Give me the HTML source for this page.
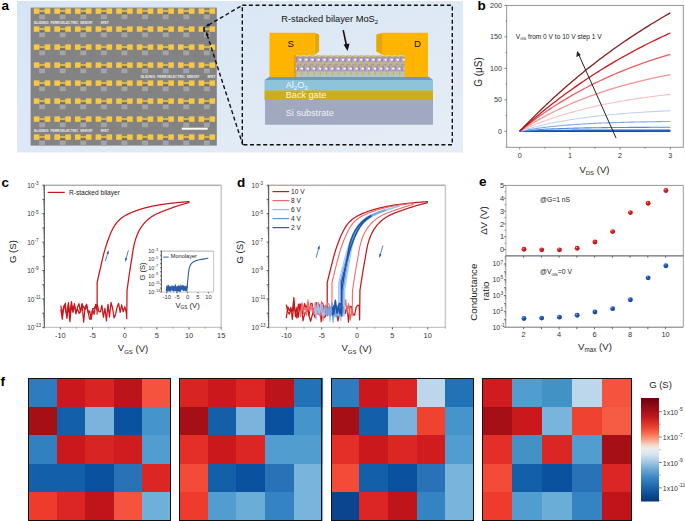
<!DOCTYPE html>
<html><head><meta charset="utf-8"><style>
html,body{margin:0;padding:0;background:#fff;width:685px;height:521px;overflow:hidden}
svg{display:block}
text{font-family:"Liberation Sans",sans-serif}
</style></head><body>
<svg width="685" height="521" viewBox="0 0 685 521">
<defs><linearGradient id="bgA" x1="0" y1="0" x2="1" y2="1"><stop offset="0" stop-color="#d6e5f4"/><stop offset="1" stop-color="#e6edf6"/></linearGradient><radialGradient id="redBall" cx="0.35" cy="0.3" r="0.75"><stop offset="0" stop-color="#ffd8d0"/><stop offset="0.2" stop-color="#e03028"/><stop offset="1" stop-color="#a80808"/></radialGradient><radialGradient id="blueBall" cx="0.35" cy="0.3" r="0.75"><stop offset="0" stop-color="#a8c4f0"/><stop offset="0.22" stop-color="#2a62bc"/><stop offset="1" stop-color="#0c3a8a"/></radialGradient><linearGradient id="cbar" x1="0" y1="0" x2="0" y2="1"><stop offset="0" stop-color="#6a000f"/><stop offset="0.1" stop-color="#9a0c16"/><stop offset="0.19" stop-color="#c41a1f"/><stop offset="0.28" stop-color="#e8422e"/><stop offset="0.34" stop-color="#f66a4c"/><stop offset="0.40" stop-color="#f8a080"/><stop offset="0.45" stop-color="#f6d4c6"/><stop offset="0.49" stop-color="#ececec"/><stop offset="0.54" stop-color="#d8e6f2"/><stop offset="0.60" stop-color="#b0d0e6"/><stop offset="0.68" stop-color="#72acd6"/><stop offset="0.77" stop-color="#3a86c2"/><stop offset="0.87" stop-color="#1c62aa"/><stop offset="0.94" stop-color="#0c4a92"/><stop offset="1" stop-color="#083474"/></linearGradient></defs>
<rect x="17" y="1" width="446" height="151.5" fill="url(#bgA)"/>
<rect x="30.6" y="7.6" width="186.2" height="138" fill="#838383"/>
<rect x="39.10" y="14.20" width="5.9" height="5.0" fill="#a4a4a4"/>
<rect x="39.40" y="12.60" width="5.3" height="1.7" fill="#6e6e6e"/>
<rect x="33.80" y="8.40" width="5.6" height="5.4" fill="#f8c845"/>
<rect x="44.70" y="8.40" width="5.6" height="5.4" fill="#f8c845"/>
<rect x="39.30" y="10.20" width="5.5" height="1.6" fill="#e6c04c"/>
<rect x="59.70" y="14.20" width="5.9" height="5.0" fill="#a4a4a4"/>
<rect x="60.00" y="12.60" width="5.3" height="1.7" fill="#6e6e6e"/>
<rect x="54.40" y="8.40" width="5.6" height="5.4" fill="#f8c845"/>
<rect x="65.30" y="8.40" width="5.6" height="5.4" fill="#f8c845"/>
<rect x="59.90" y="10.20" width="5.5" height="1.6" fill="#e6c04c"/>
<rect x="80.30" y="14.20" width="5.9" height="5.0" fill="#a4a4a4"/>
<rect x="80.60" y="12.60" width="5.3" height="1.7" fill="#6e6e6e"/>
<rect x="75.00" y="8.40" width="5.6" height="5.4" fill="#f8c845"/>
<rect x="85.90" y="8.40" width="5.6" height="5.4" fill="#f8c845"/>
<rect x="80.50" y="10.20" width="5.5" height="1.6" fill="#e6c04c"/>
<rect x="100.90" y="14.20" width="5.9" height="5.0" fill="#a4a4a4"/>
<rect x="101.20" y="12.60" width="5.3" height="1.7" fill="#6e6e6e"/>
<rect x="95.60" y="8.40" width="5.6" height="5.4" fill="#f8c845"/>
<rect x="106.50" y="8.40" width="5.6" height="5.4" fill="#f8c845"/>
<rect x="101.10" y="10.20" width="5.5" height="1.6" fill="#e6c04c"/>
<rect x="121.50" y="14.20" width="5.9" height="5.0" fill="#a4a4a4"/>
<rect x="121.80" y="12.60" width="5.3" height="1.7" fill="#6e6e6e"/>
<rect x="116.20" y="8.40" width="5.6" height="5.4" fill="#f8c845"/>
<rect x="127.10" y="8.40" width="5.6" height="5.4" fill="#f8c845"/>
<rect x="121.70" y="10.20" width="5.5" height="1.6" fill="#e6c04c"/>
<rect x="142.10" y="14.20" width="5.9" height="5.0" fill="#a4a4a4"/>
<rect x="142.40" y="12.60" width="5.3" height="1.7" fill="#6e6e6e"/>
<rect x="136.80" y="8.40" width="5.6" height="5.4" fill="#f8c845"/>
<rect x="147.70" y="8.40" width="5.6" height="5.4" fill="#f8c845"/>
<rect x="142.30" y="10.20" width="5.5" height="1.6" fill="#e6c04c"/>
<rect x="162.70" y="14.20" width="5.9" height="5.0" fill="#a4a4a4"/>
<rect x="163.00" y="12.60" width="5.3" height="1.7" fill="#6e6e6e"/>
<rect x="157.40" y="8.40" width="5.6" height="5.4" fill="#f8c845"/>
<rect x="168.30" y="8.40" width="5.6" height="5.4" fill="#f8c845"/>
<rect x="162.90" y="10.20" width="5.5" height="1.6" fill="#e6c04c"/>
<rect x="183.30" y="14.20" width="5.9" height="5.0" fill="#a4a4a4"/>
<rect x="183.60" y="12.60" width="5.3" height="1.7" fill="#6e6e6e"/>
<rect x="178.00" y="8.40" width="5.6" height="5.4" fill="#f8c845"/>
<rect x="188.90" y="8.40" width="5.6" height="5.4" fill="#f8c845"/>
<rect x="183.50" y="10.20" width="5.5" height="1.6" fill="#e6c04c"/>
<rect x="203.90" y="14.20" width="5.9" height="5.0" fill="#a4a4a4"/>
<rect x="204.20" y="12.60" width="5.3" height="1.7" fill="#6e6e6e"/>
<rect x="198.60" y="8.40" width="5.6" height="5.4" fill="#f8c845"/>
<rect x="209.50" y="8.40" width="5.6" height="5.4" fill="#f8c845"/>
<rect x="204.10" y="10.20" width="5.5" height="1.6" fill="#e6c04c"/>
<rect x="39.10" y="32.20" width="5.9" height="5.0" fill="#a4a4a4"/>
<rect x="39.40" y="30.60" width="5.3" height="1.7" fill="#6e6e6e"/>
<rect x="33.80" y="26.40" width="5.6" height="5.4" fill="#f8c845"/>
<rect x="44.70" y="26.40" width="5.6" height="5.4" fill="#f8c845"/>
<rect x="39.30" y="28.20" width="5.5" height="1.6" fill="#e6c04c"/>
<rect x="59.70" y="32.20" width="5.9" height="5.0" fill="#a4a4a4"/>
<rect x="60.00" y="30.60" width="5.3" height="1.7" fill="#6e6e6e"/>
<rect x="54.40" y="26.40" width="5.6" height="5.4" fill="#f8c845"/>
<rect x="65.30" y="26.40" width="5.6" height="5.4" fill="#f8c845"/>
<rect x="59.90" y="28.20" width="5.5" height="1.6" fill="#e6c04c"/>
<rect x="80.30" y="32.20" width="5.9" height="5.0" fill="#a4a4a4"/>
<rect x="80.60" y="30.60" width="5.3" height="1.7" fill="#6e6e6e"/>
<rect x="75.00" y="26.40" width="5.6" height="5.4" fill="#f8c845"/>
<rect x="85.90" y="26.40" width="5.6" height="5.4" fill="#f8c845"/>
<rect x="80.50" y="28.20" width="5.5" height="1.6" fill="#e6c04c"/>
<rect x="100.90" y="32.20" width="5.9" height="5.0" fill="#a4a4a4"/>
<rect x="101.20" y="30.60" width="5.3" height="1.7" fill="#6e6e6e"/>
<rect x="95.60" y="26.40" width="5.6" height="5.4" fill="#f8c845"/>
<rect x="106.50" y="26.40" width="5.6" height="5.4" fill="#f8c845"/>
<rect x="101.10" y="28.20" width="5.5" height="1.6" fill="#e6c04c"/>
<rect x="121.50" y="32.20" width="5.9" height="5.0" fill="#a4a4a4"/>
<rect x="121.80" y="30.60" width="5.3" height="1.7" fill="#6e6e6e"/>
<rect x="116.20" y="26.40" width="5.6" height="5.4" fill="#f8c845"/>
<rect x="127.10" y="26.40" width="5.6" height="5.4" fill="#f8c845"/>
<rect x="121.70" y="28.20" width="5.5" height="1.6" fill="#e6c04c"/>
<rect x="142.10" y="32.20" width="5.9" height="5.0" fill="#a4a4a4"/>
<rect x="142.40" y="30.60" width="5.3" height="1.7" fill="#6e6e6e"/>
<rect x="136.80" y="26.40" width="5.6" height="5.4" fill="#f8c845"/>
<rect x="147.70" y="26.40" width="5.6" height="5.4" fill="#f8c845"/>
<rect x="142.30" y="28.20" width="5.5" height="1.6" fill="#e6c04c"/>
<rect x="162.70" y="32.20" width="5.9" height="5.0" fill="#a4a4a4"/>
<rect x="163.00" y="30.60" width="5.3" height="1.7" fill="#6e6e6e"/>
<rect x="157.40" y="26.40" width="5.6" height="5.4" fill="#f8c845"/>
<rect x="168.30" y="26.40" width="5.6" height="5.4" fill="#f8c845"/>
<rect x="162.90" y="28.20" width="5.5" height="1.6" fill="#e6c04c"/>
<rect x="183.30" y="32.20" width="5.9" height="5.0" fill="#a4a4a4"/>
<rect x="183.60" y="30.60" width="5.3" height="1.7" fill="#6e6e6e"/>
<rect x="178.00" y="26.40" width="5.6" height="5.4" fill="#f8c845"/>
<rect x="188.90" y="26.40" width="5.6" height="5.4" fill="#f8c845"/>
<rect x="183.50" y="28.20" width="5.5" height="1.6" fill="#e6c04c"/>
<rect x="203.90" y="32.20" width="5.9" height="5.0" fill="#a4a4a4"/>
<rect x="204.20" y="30.60" width="5.3" height="1.7" fill="#6e6e6e"/>
<rect x="198.60" y="26.40" width="5.6" height="5.4" fill="#f8c845"/>
<rect x="209.50" y="26.40" width="5.6" height="5.4" fill="#f8c845"/>
<rect x="204.10" y="28.20" width="5.5" height="1.6" fill="#e6c04c"/>
<rect x="39.10" y="50.20" width="5.9" height="5.0" fill="#a4a4a4"/>
<rect x="39.40" y="48.60" width="5.3" height="1.7" fill="#6e6e6e"/>
<rect x="33.80" y="44.40" width="5.6" height="5.4" fill="#f8c845"/>
<rect x="44.70" y="44.40" width="5.6" height="5.4" fill="#f8c845"/>
<rect x="39.30" y="46.20" width="5.5" height="1.6" fill="#e6c04c"/>
<rect x="59.70" y="50.20" width="5.9" height="5.0" fill="#a4a4a4"/>
<rect x="60.00" y="48.60" width="5.3" height="1.7" fill="#6e6e6e"/>
<rect x="54.40" y="44.40" width="5.6" height="5.4" fill="#f8c845"/>
<rect x="65.30" y="44.40" width="5.6" height="5.4" fill="#f8c845"/>
<rect x="59.90" y="46.20" width="5.5" height="1.6" fill="#e6c04c"/>
<rect x="80.30" y="50.20" width="5.9" height="5.0" fill="#a4a4a4"/>
<rect x="80.60" y="48.60" width="5.3" height="1.7" fill="#6e6e6e"/>
<rect x="75.00" y="44.40" width="5.6" height="5.4" fill="#f8c845"/>
<rect x="85.90" y="44.40" width="5.6" height="5.4" fill="#f8c845"/>
<rect x="80.50" y="46.20" width="5.5" height="1.6" fill="#e6c04c"/>
<rect x="100.90" y="50.20" width="5.9" height="5.0" fill="#a4a4a4"/>
<rect x="101.20" y="48.60" width="5.3" height="1.7" fill="#6e6e6e"/>
<rect x="95.60" y="44.40" width="5.6" height="5.4" fill="#f8c845"/>
<rect x="106.50" y="44.40" width="5.6" height="5.4" fill="#f8c845"/>
<rect x="101.10" y="46.20" width="5.5" height="1.6" fill="#e6c04c"/>
<rect x="121.50" y="50.20" width="5.9" height="5.0" fill="#a4a4a4"/>
<rect x="121.80" y="48.60" width="5.3" height="1.7" fill="#6e6e6e"/>
<rect x="116.20" y="44.40" width="5.6" height="5.4" fill="#f8c845"/>
<rect x="127.10" y="44.40" width="5.6" height="5.4" fill="#f8c845"/>
<rect x="121.70" y="46.20" width="5.5" height="1.6" fill="#e6c04c"/>
<rect x="142.10" y="50.20" width="5.9" height="5.0" fill="#a4a4a4"/>
<rect x="142.40" y="48.60" width="5.3" height="1.7" fill="#6e6e6e"/>
<rect x="136.80" y="44.40" width="5.6" height="5.4" fill="#f8c845"/>
<rect x="147.70" y="44.40" width="5.6" height="5.4" fill="#f8c845"/>
<rect x="142.30" y="46.20" width="5.5" height="1.6" fill="#e6c04c"/>
<rect x="162.70" y="50.20" width="5.9" height="5.0" fill="#a4a4a4"/>
<rect x="163.00" y="48.60" width="5.3" height="1.7" fill="#6e6e6e"/>
<rect x="157.40" y="44.40" width="5.6" height="5.4" fill="#f8c845"/>
<rect x="168.30" y="44.40" width="5.6" height="5.4" fill="#f8c845"/>
<rect x="162.90" y="46.20" width="5.5" height="1.6" fill="#e6c04c"/>
<rect x="183.30" y="50.20" width="5.9" height="5.0" fill="#a4a4a4"/>
<rect x="183.60" y="48.60" width="5.3" height="1.7" fill="#6e6e6e"/>
<rect x="178.00" y="44.40" width="5.6" height="5.4" fill="#f8c845"/>
<rect x="188.90" y="44.40" width="5.6" height="5.4" fill="#f8c845"/>
<rect x="183.50" y="46.20" width="5.5" height="1.6" fill="#e6c04c"/>
<rect x="203.90" y="50.20" width="5.9" height="5.0" fill="#a4a4a4"/>
<rect x="204.20" y="48.60" width="5.3" height="1.7" fill="#6e6e6e"/>
<rect x="198.60" y="44.40" width="5.6" height="5.4" fill="#f8c845"/>
<rect x="209.50" y="44.40" width="5.6" height="5.4" fill="#f8c845"/>
<rect x="204.10" y="46.20" width="5.5" height="1.6" fill="#e6c04c"/>
<rect x="39.10" y="68.20" width="5.9" height="5.0" fill="#a4a4a4"/>
<rect x="39.40" y="66.60" width="5.3" height="1.7" fill="#6e6e6e"/>
<rect x="33.80" y="62.40" width="5.6" height="5.4" fill="#f8c845"/>
<rect x="44.70" y="62.40" width="5.6" height="5.4" fill="#f8c845"/>
<rect x="39.30" y="64.20" width="5.5" height="1.6" fill="#e6c04c"/>
<rect x="59.70" y="68.20" width="5.9" height="5.0" fill="#a4a4a4"/>
<rect x="60.00" y="66.60" width="5.3" height="1.7" fill="#6e6e6e"/>
<rect x="54.40" y="62.40" width="5.6" height="5.4" fill="#f8c845"/>
<rect x="65.30" y="62.40" width="5.6" height="5.4" fill="#f8c845"/>
<rect x="59.90" y="64.20" width="5.5" height="1.6" fill="#e6c04c"/>
<rect x="80.30" y="68.20" width="5.9" height="5.0" fill="#a4a4a4"/>
<rect x="80.60" y="66.60" width="5.3" height="1.7" fill="#6e6e6e"/>
<rect x="75.00" y="62.40" width="5.6" height="5.4" fill="#f8c845"/>
<rect x="85.90" y="62.40" width="5.6" height="5.4" fill="#f8c845"/>
<rect x="80.50" y="64.20" width="5.5" height="1.6" fill="#e6c04c"/>
<rect x="100.90" y="68.20" width="5.9" height="5.0" fill="#a4a4a4"/>
<rect x="101.20" y="66.60" width="5.3" height="1.7" fill="#6e6e6e"/>
<rect x="95.60" y="62.40" width="5.6" height="5.4" fill="#f8c845"/>
<rect x="106.50" y="62.40" width="5.6" height="5.4" fill="#f8c845"/>
<rect x="101.10" y="64.20" width="5.5" height="1.6" fill="#e6c04c"/>
<rect x="121.50" y="68.20" width="5.9" height="5.0" fill="#a4a4a4"/>
<rect x="121.80" y="66.60" width="5.3" height="1.7" fill="#6e6e6e"/>
<rect x="116.20" y="62.40" width="5.6" height="5.4" fill="#f8c845"/>
<rect x="127.10" y="62.40" width="5.6" height="5.4" fill="#f8c845"/>
<rect x="121.70" y="64.20" width="5.5" height="1.6" fill="#e6c04c"/>
<rect x="142.10" y="68.20" width="5.9" height="5.0" fill="#a4a4a4"/>
<rect x="142.40" y="66.60" width="5.3" height="1.7" fill="#6e6e6e"/>
<rect x="136.80" y="62.40" width="5.6" height="5.4" fill="#f8c845"/>
<rect x="147.70" y="62.40" width="5.6" height="5.4" fill="#f8c845"/>
<rect x="142.30" y="64.20" width="5.5" height="1.6" fill="#e6c04c"/>
<rect x="162.70" y="68.20" width="5.9" height="5.0" fill="#a4a4a4"/>
<rect x="163.00" y="66.60" width="5.3" height="1.7" fill="#6e6e6e"/>
<rect x="157.40" y="62.40" width="5.6" height="5.4" fill="#f8c845"/>
<rect x="168.30" y="62.40" width="5.6" height="5.4" fill="#f8c845"/>
<rect x="162.90" y="64.20" width="5.5" height="1.6" fill="#e6c04c"/>
<rect x="183.30" y="68.20" width="5.9" height="5.0" fill="#a4a4a4"/>
<rect x="183.60" y="66.60" width="5.3" height="1.7" fill="#6e6e6e"/>
<rect x="178.00" y="62.40" width="5.6" height="5.4" fill="#f8c845"/>
<rect x="188.90" y="62.40" width="5.6" height="5.4" fill="#f8c845"/>
<rect x="183.50" y="64.20" width="5.5" height="1.6" fill="#e6c04c"/>
<rect x="203.90" y="68.20" width="5.9" height="5.0" fill="#a4a4a4"/>
<rect x="204.20" y="66.60" width="5.3" height="1.7" fill="#6e6e6e"/>
<rect x="198.60" y="62.40" width="5.6" height="5.4" fill="#f8c845"/>
<rect x="209.50" y="62.40" width="5.6" height="5.4" fill="#f8c845"/>
<rect x="204.10" y="64.20" width="5.5" height="1.6" fill="#e6c04c"/>
<rect x="39.10" y="86.20" width="5.9" height="5.0" fill="#a4a4a4"/>
<rect x="39.40" y="84.60" width="5.3" height="1.7" fill="#6e6e6e"/>
<rect x="33.80" y="80.40" width="5.6" height="5.4" fill="#f8c845"/>
<rect x="44.70" y="80.40" width="5.6" height="5.4" fill="#f8c845"/>
<rect x="39.30" y="82.20" width="5.5" height="1.6" fill="#e6c04c"/>
<rect x="59.70" y="86.20" width="5.9" height="5.0" fill="#a4a4a4"/>
<rect x="60.00" y="84.60" width="5.3" height="1.7" fill="#6e6e6e"/>
<rect x="54.40" y="80.40" width="5.6" height="5.4" fill="#f8c845"/>
<rect x="65.30" y="80.40" width="5.6" height="5.4" fill="#f8c845"/>
<rect x="59.90" y="82.20" width="5.5" height="1.6" fill="#e6c04c"/>
<rect x="80.30" y="86.20" width="5.9" height="5.0" fill="#a4a4a4"/>
<rect x="80.60" y="84.60" width="5.3" height="1.7" fill="#6e6e6e"/>
<rect x="75.00" y="80.40" width="5.6" height="5.4" fill="#f8c845"/>
<rect x="85.90" y="80.40" width="5.6" height="5.4" fill="#f8c845"/>
<rect x="80.50" y="82.20" width="5.5" height="1.6" fill="#e6c04c"/>
<rect x="100.90" y="86.20" width="5.9" height="5.0" fill="#a4a4a4"/>
<rect x="101.20" y="84.60" width="5.3" height="1.7" fill="#6e6e6e"/>
<rect x="95.60" y="80.40" width="5.6" height="5.4" fill="#f8c845"/>
<rect x="106.50" y="80.40" width="5.6" height="5.4" fill="#f8c845"/>
<rect x="101.10" y="82.20" width="5.5" height="1.6" fill="#e6c04c"/>
<rect x="121.50" y="86.20" width="5.9" height="5.0" fill="#a4a4a4"/>
<rect x="121.80" y="84.60" width="5.3" height="1.7" fill="#6e6e6e"/>
<rect x="116.20" y="80.40" width="5.6" height="5.4" fill="#f8c845"/>
<rect x="127.10" y="80.40" width="5.6" height="5.4" fill="#f8c845"/>
<rect x="121.70" y="82.20" width="5.5" height="1.6" fill="#e6c04c"/>
<rect x="142.10" y="86.20" width="5.9" height="5.0" fill="#a4a4a4"/>
<rect x="142.40" y="84.60" width="5.3" height="1.7" fill="#6e6e6e"/>
<rect x="136.80" y="80.40" width="5.6" height="5.4" fill="#f8c845"/>
<rect x="147.70" y="80.40" width="5.6" height="5.4" fill="#f8c845"/>
<rect x="142.30" y="82.20" width="5.5" height="1.6" fill="#e6c04c"/>
<rect x="162.70" y="86.20" width="5.9" height="5.0" fill="#a4a4a4"/>
<rect x="163.00" y="84.60" width="5.3" height="1.7" fill="#6e6e6e"/>
<rect x="157.40" y="80.40" width="5.6" height="5.4" fill="#f8c845"/>
<rect x="168.30" y="80.40" width="5.6" height="5.4" fill="#f8c845"/>
<rect x="162.90" y="82.20" width="5.5" height="1.6" fill="#e6c04c"/>
<rect x="183.30" y="86.20" width="5.9" height="5.0" fill="#a4a4a4"/>
<rect x="183.60" y="84.60" width="5.3" height="1.7" fill="#6e6e6e"/>
<rect x="178.00" y="80.40" width="5.6" height="5.4" fill="#f8c845"/>
<rect x="188.90" y="80.40" width="5.6" height="5.4" fill="#f8c845"/>
<rect x="183.50" y="82.20" width="5.5" height="1.6" fill="#e6c04c"/>
<rect x="203.90" y="86.20" width="5.9" height="5.0" fill="#a4a4a4"/>
<rect x="204.20" y="84.60" width="5.3" height="1.7" fill="#6e6e6e"/>
<rect x="198.60" y="80.40" width="5.6" height="5.4" fill="#f8c845"/>
<rect x="209.50" y="80.40" width="5.6" height="5.4" fill="#f8c845"/>
<rect x="204.10" y="82.20" width="5.5" height="1.6" fill="#e6c04c"/>
<rect x="39.10" y="104.20" width="5.9" height="5.0" fill="#a4a4a4"/>
<rect x="39.40" y="102.60" width="5.3" height="1.7" fill="#6e6e6e"/>
<rect x="33.80" y="98.40" width="5.6" height="5.4" fill="#f8c845"/>
<rect x="44.70" y="98.40" width="5.6" height="5.4" fill="#f8c845"/>
<rect x="39.30" y="100.20" width="5.5" height="1.6" fill="#e6c04c"/>
<rect x="59.70" y="104.20" width="5.9" height="5.0" fill="#a4a4a4"/>
<rect x="60.00" y="102.60" width="5.3" height="1.7" fill="#6e6e6e"/>
<rect x="54.40" y="98.40" width="5.6" height="5.4" fill="#f8c845"/>
<rect x="65.30" y="98.40" width="5.6" height="5.4" fill="#f8c845"/>
<rect x="59.90" y="100.20" width="5.5" height="1.6" fill="#e6c04c"/>
<rect x="80.30" y="104.20" width="5.9" height="5.0" fill="#a4a4a4"/>
<rect x="80.60" y="102.60" width="5.3" height="1.7" fill="#6e6e6e"/>
<rect x="75.00" y="98.40" width="5.6" height="5.4" fill="#f8c845"/>
<rect x="85.90" y="98.40" width="5.6" height="5.4" fill="#f8c845"/>
<rect x="80.50" y="100.20" width="5.5" height="1.6" fill="#e6c04c"/>
<rect x="100.90" y="104.20" width="5.9" height="5.0" fill="#a4a4a4"/>
<rect x="101.20" y="102.60" width="5.3" height="1.7" fill="#6e6e6e"/>
<rect x="95.60" y="98.40" width="5.6" height="5.4" fill="#f8c845"/>
<rect x="106.50" y="98.40" width="5.6" height="5.4" fill="#f8c845"/>
<rect x="101.10" y="100.20" width="5.5" height="1.6" fill="#e6c04c"/>
<rect x="121.50" y="104.20" width="5.9" height="5.0" fill="#a4a4a4"/>
<rect x="121.80" y="102.60" width="5.3" height="1.7" fill="#6e6e6e"/>
<rect x="116.20" y="98.40" width="5.6" height="5.4" fill="#f8c845"/>
<rect x="127.10" y="98.40" width="5.6" height="5.4" fill="#f8c845"/>
<rect x="121.70" y="100.20" width="5.5" height="1.6" fill="#e6c04c"/>
<rect x="142.10" y="104.20" width="5.9" height="5.0" fill="#a4a4a4"/>
<rect x="142.40" y="102.60" width="5.3" height="1.7" fill="#6e6e6e"/>
<rect x="136.80" y="98.40" width="5.6" height="5.4" fill="#f8c845"/>
<rect x="147.70" y="98.40" width="5.6" height="5.4" fill="#f8c845"/>
<rect x="142.30" y="100.20" width="5.5" height="1.6" fill="#e6c04c"/>
<rect x="162.70" y="104.20" width="5.9" height="5.0" fill="#a4a4a4"/>
<rect x="163.00" y="102.60" width="5.3" height="1.7" fill="#6e6e6e"/>
<rect x="157.40" y="98.40" width="5.6" height="5.4" fill="#f8c845"/>
<rect x="168.30" y="98.40" width="5.6" height="5.4" fill="#f8c845"/>
<rect x="162.90" y="100.20" width="5.5" height="1.6" fill="#e6c04c"/>
<rect x="183.30" y="104.20" width="5.9" height="5.0" fill="#a4a4a4"/>
<rect x="183.60" y="102.60" width="5.3" height="1.7" fill="#6e6e6e"/>
<rect x="178.00" y="98.40" width="5.6" height="5.4" fill="#f8c845"/>
<rect x="188.90" y="98.40" width="5.6" height="5.4" fill="#f8c845"/>
<rect x="183.50" y="100.20" width="5.5" height="1.6" fill="#e6c04c"/>
<rect x="203.90" y="104.20" width="5.9" height="5.0" fill="#a4a4a4"/>
<rect x="204.20" y="102.60" width="5.3" height="1.7" fill="#6e6e6e"/>
<rect x="198.60" y="98.40" width="5.6" height="5.4" fill="#f8c845"/>
<rect x="209.50" y="98.40" width="5.6" height="5.4" fill="#f8c845"/>
<rect x="204.10" y="100.20" width="5.5" height="1.6" fill="#e6c04c"/>
<rect x="39.10" y="122.20" width="5.9" height="5.0" fill="#a4a4a4"/>
<rect x="39.40" y="120.60" width="5.3" height="1.7" fill="#6e6e6e"/>
<rect x="33.80" y="116.40" width="5.6" height="5.4" fill="#f8c845"/>
<rect x="44.70" y="116.40" width="5.6" height="5.4" fill="#f8c845"/>
<rect x="39.30" y="118.20" width="5.5" height="1.6" fill="#e6c04c"/>
<rect x="59.70" y="122.20" width="5.9" height="5.0" fill="#a4a4a4"/>
<rect x="60.00" y="120.60" width="5.3" height="1.7" fill="#6e6e6e"/>
<rect x="54.40" y="116.40" width="5.6" height="5.4" fill="#f8c845"/>
<rect x="65.30" y="116.40" width="5.6" height="5.4" fill="#f8c845"/>
<rect x="59.90" y="118.20" width="5.5" height="1.6" fill="#e6c04c"/>
<rect x="80.30" y="122.20" width="5.9" height="5.0" fill="#a4a4a4"/>
<rect x="80.60" y="120.60" width="5.3" height="1.7" fill="#6e6e6e"/>
<rect x="75.00" y="116.40" width="5.6" height="5.4" fill="#f8c845"/>
<rect x="85.90" y="116.40" width="5.6" height="5.4" fill="#f8c845"/>
<rect x="80.50" y="118.20" width="5.5" height="1.6" fill="#e6c04c"/>
<rect x="100.90" y="122.20" width="5.9" height="5.0" fill="#a4a4a4"/>
<rect x="101.20" y="120.60" width="5.3" height="1.7" fill="#6e6e6e"/>
<rect x="95.60" y="116.40" width="5.6" height="5.4" fill="#f8c845"/>
<rect x="106.50" y="116.40" width="5.6" height="5.4" fill="#f8c845"/>
<rect x="101.10" y="118.20" width="5.5" height="1.6" fill="#e6c04c"/>
<rect x="121.50" y="122.20" width="5.9" height="5.0" fill="#a4a4a4"/>
<rect x="121.80" y="120.60" width="5.3" height="1.7" fill="#6e6e6e"/>
<rect x="116.20" y="116.40" width="5.6" height="5.4" fill="#f8c845"/>
<rect x="127.10" y="116.40" width="5.6" height="5.4" fill="#f8c845"/>
<rect x="121.70" y="118.20" width="5.5" height="1.6" fill="#e6c04c"/>
<rect x="142.10" y="122.20" width="5.9" height="5.0" fill="#a4a4a4"/>
<rect x="142.40" y="120.60" width="5.3" height="1.7" fill="#6e6e6e"/>
<rect x="136.80" y="116.40" width="5.6" height="5.4" fill="#f8c845"/>
<rect x="147.70" y="116.40" width="5.6" height="5.4" fill="#f8c845"/>
<rect x="142.30" y="118.20" width="5.5" height="1.6" fill="#e6c04c"/>
<rect x="162.70" y="122.20" width="5.9" height="5.0" fill="#a4a4a4"/>
<rect x="163.00" y="120.60" width="5.3" height="1.7" fill="#6e6e6e"/>
<rect x="157.40" y="116.40" width="5.6" height="5.4" fill="#f8c845"/>
<rect x="168.30" y="116.40" width="5.6" height="5.4" fill="#f8c845"/>
<rect x="162.90" y="118.20" width="5.5" height="1.6" fill="#e6c04c"/>
<rect x="183.30" y="122.20" width="5.9" height="5.0" fill="#a4a4a4"/>
<rect x="183.60" y="120.60" width="5.3" height="1.7" fill="#6e6e6e"/>
<rect x="178.00" y="116.40" width="5.6" height="5.4" fill="#f8c845"/>
<rect x="188.90" y="116.40" width="5.6" height="5.4" fill="#f8c845"/>
<rect x="183.50" y="118.20" width="5.5" height="1.6" fill="#e6c04c"/>
<rect x="203.90" y="122.20" width="5.9" height="5.0" fill="#a4a4a4"/>
<rect x="204.20" y="120.60" width="5.3" height="1.7" fill="#6e6e6e"/>
<rect x="198.60" y="116.40" width="5.6" height="5.4" fill="#f8c845"/>
<rect x="209.50" y="116.40" width="5.6" height="5.4" fill="#f8c845"/>
<rect x="204.10" y="118.20" width="5.5" height="1.6" fill="#e6c04c"/>
<rect x="39.10" y="140.20" width="5.9" height="5.0" fill="#a4a4a4"/>
<rect x="39.40" y="138.60" width="5.3" height="1.7" fill="#6e6e6e"/>
<rect x="33.80" y="134.40" width="5.6" height="5.4" fill="#f8c845"/>
<rect x="44.70" y="134.40" width="5.6" height="5.4" fill="#f8c845"/>
<rect x="39.30" y="136.20" width="5.5" height="1.6" fill="#e6c04c"/>
<rect x="59.70" y="140.20" width="5.9" height="5.0" fill="#a4a4a4"/>
<rect x="60.00" y="138.60" width="5.3" height="1.7" fill="#6e6e6e"/>
<rect x="54.40" y="134.40" width="5.6" height="5.4" fill="#f8c845"/>
<rect x="65.30" y="134.40" width="5.6" height="5.4" fill="#f8c845"/>
<rect x="59.90" y="136.20" width="5.5" height="1.6" fill="#e6c04c"/>
<rect x="80.30" y="140.20" width="5.9" height="5.0" fill="#a4a4a4"/>
<rect x="80.60" y="138.60" width="5.3" height="1.7" fill="#6e6e6e"/>
<rect x="75.00" y="134.40" width="5.6" height="5.4" fill="#f8c845"/>
<rect x="85.90" y="134.40" width="5.6" height="5.4" fill="#f8c845"/>
<rect x="80.50" y="136.20" width="5.5" height="1.6" fill="#e6c04c"/>
<rect x="100.90" y="140.20" width="5.9" height="5.0" fill="#a4a4a4"/>
<rect x="101.20" y="138.60" width="5.3" height="1.7" fill="#6e6e6e"/>
<rect x="95.60" y="134.40" width="5.6" height="5.4" fill="#f8c845"/>
<rect x="106.50" y="134.40" width="5.6" height="5.4" fill="#f8c845"/>
<rect x="101.10" y="136.20" width="5.5" height="1.6" fill="#e6c04c"/>
<rect x="121.50" y="140.20" width="5.9" height="5.0" fill="#a4a4a4"/>
<rect x="121.80" y="138.60" width="5.3" height="1.7" fill="#6e6e6e"/>
<rect x="116.20" y="134.40" width="5.6" height="5.4" fill="#f8c845"/>
<rect x="127.10" y="134.40" width="5.6" height="5.4" fill="#f8c845"/>
<rect x="121.70" y="136.20" width="5.5" height="1.6" fill="#e6c04c"/>
<rect x="142.10" y="140.20" width="5.9" height="5.0" fill="#a4a4a4"/>
<rect x="142.40" y="138.60" width="5.3" height="1.7" fill="#6e6e6e"/>
<rect x="136.80" y="134.40" width="5.6" height="5.4" fill="#f8c845"/>
<rect x="147.70" y="134.40" width="5.6" height="5.4" fill="#f8c845"/>
<rect x="142.30" y="136.20" width="5.5" height="1.6" fill="#e6c04c"/>
<rect x="162.70" y="140.20" width="5.9" height="5.0" fill="#a4a4a4"/>
<rect x="163.00" y="138.60" width="5.3" height="1.7" fill="#6e6e6e"/>
<rect x="157.40" y="134.40" width="5.6" height="5.4" fill="#f8c845"/>
<rect x="168.30" y="134.40" width="5.6" height="5.4" fill="#f8c845"/>
<rect x="162.90" y="136.20" width="5.5" height="1.6" fill="#e6c04c"/>
<rect x="183.30" y="140.20" width="5.9" height="5.0" fill="#a4a4a4"/>
<rect x="183.60" y="138.60" width="5.3" height="1.7" fill="#6e6e6e"/>
<rect x="178.00" y="134.40" width="5.6" height="5.4" fill="#f8c845"/>
<rect x="188.90" y="134.40" width="5.6" height="5.4" fill="#f8c845"/>
<rect x="183.50" y="136.20" width="5.5" height="1.6" fill="#e6c04c"/>
<rect x="203.90" y="140.20" width="5.9" height="5.0" fill="#a4a4a4"/>
<rect x="204.20" y="138.60" width="5.3" height="1.7" fill="#6e6e6e"/>
<rect x="198.60" y="134.40" width="5.6" height="5.4" fill="#f8c845"/>
<rect x="209.50" y="134.40" width="5.6" height="5.4" fill="#f8c845"/>
<rect x="204.10" y="136.20" width="5.5" height="1.6" fill="#e6c04c"/>
<text x="33.70" y="23.8" font-family="Liberation Sans" font-weight="bold" font-size="4.2" fill="#ececec" textLength="14.9" lengthAdjust="spacingAndGlyphs">SLIDING</text>
<text x="50.50" y="23.8" font-family="Liberation Sans" font-weight="bold" font-size="4.2" fill="#ececec" textLength="27.9" lengthAdjust="spacingAndGlyphs">FERROELECTRIC</text>
<text x="80.20" y="23.8" font-family="Liberation Sans" font-weight="bold" font-size="4.2" fill="#ececec" textLength="12.5" lengthAdjust="spacingAndGlyphs">MEMORY</text>
<text x="100.70" y="23.8" font-family="Liberation Sans" font-weight="bold" font-size="4.2" fill="#ececec" textLength="8.1" lengthAdjust="spacingAndGlyphs">8FET</text>
<text x="140.40" y="77.9" font-family="Liberation Sans" font-weight="bold" font-size="4.2" fill="#ececec" textLength="14.9" lengthAdjust="spacingAndGlyphs">SLIDING</text>
<text x="157.20" y="77.9" font-family="Liberation Sans" font-weight="bold" font-size="4.2" fill="#ececec" textLength="27.9" lengthAdjust="spacingAndGlyphs">FERROELECTRIC</text>
<text x="186.90" y="77.9" font-family="Liberation Sans" font-weight="bold" font-size="4.2" fill="#ececec" textLength="12.5" lengthAdjust="spacingAndGlyphs">MEMORY</text>
<text x="207.40" y="77.9" font-family="Liberation Sans" font-weight="bold" font-size="4.2" fill="#ececec" textLength="8.1" lengthAdjust="spacingAndGlyphs">8FET</text>
<text x="33.70" y="131.5" font-family="Liberation Sans" font-weight="bold" font-size="4.2" fill="#ececec" textLength="14.9" lengthAdjust="spacingAndGlyphs">SLIDING</text>
<text x="50.50" y="131.5" font-family="Liberation Sans" font-weight="bold" font-size="4.2" fill="#ececec" textLength="27.9" lengthAdjust="spacingAndGlyphs">FERROELECTRIC</text>
<text x="80.20" y="131.5" font-family="Liberation Sans" font-weight="bold" font-size="4.2" fill="#ececec" textLength="12.5" lengthAdjust="spacingAndGlyphs">MEMORY</text>
<text x="100.70" y="131.5" font-family="Liberation Sans" font-weight="bold" font-size="4.2" fill="#ececec" textLength="8.1" lengthAdjust="spacingAndGlyphs">8FET</text>
<rect x="181.8" y="127.7" width="25.9" height="2" fill="#ffffff"/>
<rect x="203.2" y="27" width="1.7" height="4.8" fill="#111"/>
<g stroke="#111" stroke-width="1.4" fill="none" stroke-dasharray="4,2.6">
<rect x="242.3" y="5.3" width="210" height="139.5"/>
<line x1="208.5" y1="25" x2="242.3" y2="5.3"/>
<line x1="207.2" y1="35" x2="242.8" y2="144.8"/>
</g>
<polygon points="205.6,26.6 209.9,26.07 208.2,23.13" fill="#111"/>
<polygon points="206.2,31.6 209.05,34.88 205.81,35.92" fill="#111"/>
<rect x="265" y="100" width="168" height="24.7" fill="#a0a9bf"/>
<rect x="264.5" y="90.2" width="168.5" height="9.8" fill="#c9ae1f"/>
<rect x="264.5" y="80" width="168.5" height="10.2" fill="#8ec3dc"/>
<polygon points="264.5,80 433,80 428.5,76.8 269.5,76.8" fill="#6f9bb8"/>
<rect x="293.6" y="55.5" width="111.5" height="21.5" fill="#b4b2b8"/>
<rect x="293.6" y="72" width="111.5" height="5" fill="#b4c4be"/>
<g>
<line x1="293.00" y1="56.5" x2="297.00" y2="61.5" stroke="#8c8a90" stroke-width="1.3"/>
<line x1="298.00" y1="56.5" x2="294.00" y2="62.5" stroke="#9a989e" stroke-width="1.1"/>
<ellipse cx="294.10" cy="56.2" rx="1.4" ry="1.1" fill="#e4c24c"/>
<rect x="296.10" y="57.4" width="1.6" height="3.8" fill="#b478d6"/>
<circle cx="294.30" cy="59.6" r="1.2" fill="#fafafa"/>
<ellipse cx="294.70" cy="62.6" rx="1.1" ry="1.0" fill="#d4b448"/>
<line x1="294.00" y1="64" x2="298.00" y2="70.5" stroke="#8c8a90" stroke-width="1.3"/>
<line x1="299.00" y1="64" x2="295.00" y2="71" stroke="#9a989e" stroke-width="1.1"/>
<rect x="294.50" y="64.0" width="1.3" height="3.6" fill="#d8b440"/>
<rect x="297.30" y="66.8" width="1.6" height="4.0" fill="#b478d6"/>
<circle cx="295.80" cy="68.6" r="1.2" fill="#fafafa"/>
<rect x="295.30" y="71.8" width="1.3" height="3.4" fill="#d4b03c"/>
<line x1="299.10" y1="56.5" x2="303.10" y2="61.5" stroke="#8c8a90" stroke-width="1.3"/>
<line x1="304.10" y1="56.5" x2="300.10" y2="62.5" stroke="#9a989e" stroke-width="1.1"/>
<ellipse cx="300.20" cy="56.2" rx="1.4" ry="1.1" fill="#e4c24c"/>
<rect x="302.20" y="57.4" width="1.6" height="3.8" fill="#b478d6"/>
<circle cx="300.40" cy="59.6" r="1.2" fill="#fafafa"/>
<ellipse cx="300.80" cy="62.6" rx="1.1" ry="1.0" fill="#d4b448"/>
<line x1="300.10" y1="64" x2="304.10" y2="70.5" stroke="#8c8a90" stroke-width="1.3"/>
<line x1="305.10" y1="64" x2="301.10" y2="71" stroke="#9a989e" stroke-width="1.1"/>
<rect x="300.60" y="64.0" width="1.3" height="3.6" fill="#d8b440"/>
<rect x="303.40" y="66.8" width="1.6" height="4.0" fill="#b478d6"/>
<circle cx="301.90" cy="68.6" r="1.2" fill="#fafafa"/>
<rect x="301.40" y="71.8" width="1.3" height="3.4" fill="#d4b03c"/>
<line x1="305.20" y1="56.5" x2="309.20" y2="61.5" stroke="#8c8a90" stroke-width="1.3"/>
<line x1="310.20" y1="56.5" x2="306.20" y2="62.5" stroke="#9a989e" stroke-width="1.1"/>
<ellipse cx="306.30" cy="56.2" rx="1.4" ry="1.1" fill="#e4c24c"/>
<rect x="308.30" y="57.4" width="1.6" height="3.8" fill="#b478d6"/>
<circle cx="306.50" cy="59.6" r="1.2" fill="#fafafa"/>
<ellipse cx="306.90" cy="62.6" rx="1.1" ry="1.0" fill="#d4b448"/>
<line x1="306.20" y1="64" x2="310.20" y2="70.5" stroke="#8c8a90" stroke-width="1.3"/>
<line x1="311.20" y1="64" x2="307.20" y2="71" stroke="#9a989e" stroke-width="1.1"/>
<rect x="306.70" y="64.0" width="1.3" height="3.6" fill="#d8b440"/>
<rect x="309.50" y="66.8" width="1.6" height="4.0" fill="#b478d6"/>
<circle cx="308.00" cy="68.6" r="1.2" fill="#fafafa"/>
<rect x="307.50" y="71.8" width="1.3" height="3.4" fill="#d4b03c"/>
<line x1="311.30" y1="56.5" x2="315.30" y2="61.5" stroke="#8c8a90" stroke-width="1.3"/>
<line x1="316.30" y1="56.5" x2="312.30" y2="62.5" stroke="#9a989e" stroke-width="1.1"/>
<ellipse cx="312.40" cy="56.2" rx="1.4" ry="1.1" fill="#e4c24c"/>
<rect x="314.40" y="57.4" width="1.6" height="3.8" fill="#b478d6"/>
<circle cx="312.60" cy="59.6" r="1.2" fill="#fafafa"/>
<ellipse cx="313.00" cy="62.6" rx="1.1" ry="1.0" fill="#d4b448"/>
<line x1="312.30" y1="64" x2="316.30" y2="70.5" stroke="#8c8a90" stroke-width="1.3"/>
<line x1="317.30" y1="64" x2="313.30" y2="71" stroke="#9a989e" stroke-width="1.1"/>
<rect x="312.80" y="64.0" width="1.3" height="3.6" fill="#d8b440"/>
<rect x="315.60" y="66.8" width="1.6" height="4.0" fill="#b478d6"/>
<circle cx="314.10" cy="68.6" r="1.2" fill="#fafafa"/>
<rect x="313.60" y="71.8" width="1.3" height="3.4" fill="#d4b03c"/>
<line x1="317.40" y1="56.5" x2="321.40" y2="61.5" stroke="#8c8a90" stroke-width="1.3"/>
<line x1="322.40" y1="56.5" x2="318.40" y2="62.5" stroke="#9a989e" stroke-width="1.1"/>
<ellipse cx="318.50" cy="56.2" rx="1.4" ry="1.1" fill="#e4c24c"/>
<rect x="320.50" y="57.4" width="1.6" height="3.8" fill="#b478d6"/>
<circle cx="318.70" cy="59.6" r="1.2" fill="#fafafa"/>
<ellipse cx="319.10" cy="62.6" rx="1.1" ry="1.0" fill="#d4b448"/>
<line x1="318.40" y1="64" x2="322.40" y2="70.5" stroke="#8c8a90" stroke-width="1.3"/>
<line x1="323.40" y1="64" x2="319.40" y2="71" stroke="#9a989e" stroke-width="1.1"/>
<rect x="318.90" y="64.0" width="1.3" height="3.6" fill="#d8b440"/>
<rect x="321.70" y="66.8" width="1.6" height="4.0" fill="#b478d6"/>
<circle cx="320.20" cy="68.6" r="1.2" fill="#fafafa"/>
<rect x="319.70" y="71.8" width="1.3" height="3.4" fill="#d4b03c"/>
<line x1="323.50" y1="56.5" x2="327.50" y2="61.5" stroke="#8c8a90" stroke-width="1.3"/>
<line x1="328.50" y1="56.5" x2="324.50" y2="62.5" stroke="#9a989e" stroke-width="1.1"/>
<ellipse cx="324.60" cy="56.2" rx="1.4" ry="1.1" fill="#e4c24c"/>
<rect x="326.60" y="57.4" width="1.6" height="3.8" fill="#b478d6"/>
<circle cx="324.80" cy="59.6" r="1.2" fill="#fafafa"/>
<ellipse cx="325.20" cy="62.6" rx="1.1" ry="1.0" fill="#d4b448"/>
<line x1="324.50" y1="64" x2="328.50" y2="70.5" stroke="#8c8a90" stroke-width="1.3"/>
<line x1="329.50" y1="64" x2="325.50" y2="71" stroke="#9a989e" stroke-width="1.1"/>
<rect x="325.00" y="64.0" width="1.3" height="3.6" fill="#d8b440"/>
<rect x="327.80" y="66.8" width="1.6" height="4.0" fill="#b478d6"/>
<circle cx="326.30" cy="68.6" r="1.2" fill="#fafafa"/>
<rect x="325.80" y="71.8" width="1.3" height="3.4" fill="#d4b03c"/>
<line x1="329.60" y1="56.5" x2="333.60" y2="61.5" stroke="#8c8a90" stroke-width="1.3"/>
<line x1="334.60" y1="56.5" x2="330.60" y2="62.5" stroke="#9a989e" stroke-width="1.1"/>
<ellipse cx="330.70" cy="56.2" rx="1.4" ry="1.1" fill="#e4c24c"/>
<rect x="332.70" y="57.4" width="1.6" height="3.8" fill="#b478d6"/>
<circle cx="330.90" cy="59.6" r="1.2" fill="#fafafa"/>
<ellipse cx="331.30" cy="62.6" rx="1.1" ry="1.0" fill="#d4b448"/>
<line x1="330.60" y1="64" x2="334.60" y2="70.5" stroke="#8c8a90" stroke-width="1.3"/>
<line x1="335.60" y1="64" x2="331.60" y2="71" stroke="#9a989e" stroke-width="1.1"/>
<rect x="331.10" y="64.0" width="1.3" height="3.6" fill="#d8b440"/>
<rect x="333.90" y="66.8" width="1.6" height="4.0" fill="#b478d6"/>
<circle cx="332.40" cy="68.6" r="1.2" fill="#fafafa"/>
<rect x="331.90" y="71.8" width="1.3" height="3.4" fill="#d4b03c"/>
<line x1="335.70" y1="56.5" x2="339.70" y2="61.5" stroke="#8c8a90" stroke-width="1.3"/>
<line x1="340.70" y1="56.5" x2="336.70" y2="62.5" stroke="#9a989e" stroke-width="1.1"/>
<ellipse cx="336.80" cy="56.2" rx="1.4" ry="1.1" fill="#e4c24c"/>
<rect x="338.80" y="57.4" width="1.6" height="3.8" fill="#b478d6"/>
<circle cx="337.00" cy="59.6" r="1.2" fill="#fafafa"/>
<ellipse cx="337.40" cy="62.6" rx="1.1" ry="1.0" fill="#d4b448"/>
<line x1="336.70" y1="64" x2="340.70" y2="70.5" stroke="#8c8a90" stroke-width="1.3"/>
<line x1="341.70" y1="64" x2="337.70" y2="71" stroke="#9a989e" stroke-width="1.1"/>
<rect x="337.20" y="64.0" width="1.3" height="3.6" fill="#d8b440"/>
<rect x="340.00" y="66.8" width="1.6" height="4.0" fill="#b478d6"/>
<circle cx="338.50" cy="68.6" r="1.2" fill="#fafafa"/>
<rect x="338.00" y="71.8" width="1.3" height="3.4" fill="#d4b03c"/>
<line x1="341.80" y1="56.5" x2="345.80" y2="61.5" stroke="#8c8a90" stroke-width="1.3"/>
<line x1="346.80" y1="56.5" x2="342.80" y2="62.5" stroke="#9a989e" stroke-width="1.1"/>
<ellipse cx="342.90" cy="56.2" rx="1.4" ry="1.1" fill="#e4c24c"/>
<rect x="344.90" y="57.4" width="1.6" height="3.8" fill="#b478d6"/>
<circle cx="343.10" cy="59.6" r="1.2" fill="#fafafa"/>
<ellipse cx="343.50" cy="62.6" rx="1.1" ry="1.0" fill="#d4b448"/>
<line x1="342.80" y1="64" x2="346.80" y2="70.5" stroke="#8c8a90" stroke-width="1.3"/>
<line x1="347.80" y1="64" x2="343.80" y2="71" stroke="#9a989e" stroke-width="1.1"/>
<rect x="343.30" y="64.0" width="1.3" height="3.6" fill="#d8b440"/>
<rect x="346.10" y="66.8" width="1.6" height="4.0" fill="#b478d6"/>
<circle cx="344.60" cy="68.6" r="1.2" fill="#fafafa"/>
<rect x="344.10" y="71.8" width="1.3" height="3.4" fill="#d4b03c"/>
<line x1="347.90" y1="56.5" x2="351.90" y2="61.5" stroke="#8c8a90" stroke-width="1.3"/>
<line x1="352.90" y1="56.5" x2="348.90" y2="62.5" stroke="#9a989e" stroke-width="1.1"/>
<ellipse cx="349.00" cy="56.2" rx="1.4" ry="1.1" fill="#e4c24c"/>
<rect x="351.00" y="57.4" width="1.6" height="3.8" fill="#b478d6"/>
<circle cx="349.20" cy="59.6" r="1.2" fill="#fafafa"/>
<ellipse cx="349.60" cy="62.6" rx="1.1" ry="1.0" fill="#d4b448"/>
<line x1="348.90" y1="64" x2="352.90" y2="70.5" stroke="#8c8a90" stroke-width="1.3"/>
<line x1="353.90" y1="64" x2="349.90" y2="71" stroke="#9a989e" stroke-width="1.1"/>
<rect x="349.40" y="64.0" width="1.3" height="3.6" fill="#d8b440"/>
<rect x="352.20" y="66.8" width="1.6" height="4.0" fill="#b478d6"/>
<circle cx="350.70" cy="68.6" r="1.2" fill="#fafafa"/>
<rect x="350.20" y="71.8" width="1.3" height="3.4" fill="#d4b03c"/>
<line x1="354.00" y1="56.5" x2="358.00" y2="61.5" stroke="#8c8a90" stroke-width="1.3"/>
<line x1="359.00" y1="56.5" x2="355.00" y2="62.5" stroke="#9a989e" stroke-width="1.1"/>
<ellipse cx="355.10" cy="56.2" rx="1.4" ry="1.1" fill="#e4c24c"/>
<rect x="357.10" y="57.4" width="1.6" height="3.8" fill="#b478d6"/>
<circle cx="355.30" cy="59.6" r="1.2" fill="#fafafa"/>
<ellipse cx="355.70" cy="62.6" rx="1.1" ry="1.0" fill="#d4b448"/>
<line x1="355.00" y1="64" x2="359.00" y2="70.5" stroke="#8c8a90" stroke-width="1.3"/>
<line x1="360.00" y1="64" x2="356.00" y2="71" stroke="#9a989e" stroke-width="1.1"/>
<rect x="355.50" y="64.0" width="1.3" height="3.6" fill="#d8b440"/>
<rect x="358.30" y="66.8" width="1.6" height="4.0" fill="#b478d6"/>
<circle cx="356.80" cy="68.6" r="1.2" fill="#fafafa"/>
<rect x="356.30" y="71.8" width="1.3" height="3.4" fill="#d4b03c"/>
<line x1="360.10" y1="56.5" x2="364.10" y2="61.5" stroke="#8c8a90" stroke-width="1.3"/>
<line x1="365.10" y1="56.5" x2="361.10" y2="62.5" stroke="#9a989e" stroke-width="1.1"/>
<ellipse cx="361.20" cy="56.2" rx="1.4" ry="1.1" fill="#e4c24c"/>
<rect x="363.20" y="57.4" width="1.6" height="3.8" fill="#b478d6"/>
<circle cx="361.40" cy="59.6" r="1.2" fill="#fafafa"/>
<ellipse cx="361.80" cy="62.6" rx="1.1" ry="1.0" fill="#d4b448"/>
<line x1="361.10" y1="64" x2="365.10" y2="70.5" stroke="#8c8a90" stroke-width="1.3"/>
<line x1="366.10" y1="64" x2="362.10" y2="71" stroke="#9a989e" stroke-width="1.1"/>
<rect x="361.60" y="64.0" width="1.3" height="3.6" fill="#d8b440"/>
<rect x="364.40" y="66.8" width="1.6" height="4.0" fill="#b478d6"/>
<circle cx="362.90" cy="68.6" r="1.2" fill="#fafafa"/>
<rect x="362.40" y="71.8" width="1.3" height="3.4" fill="#d4b03c"/>
<line x1="366.20" y1="56.5" x2="370.20" y2="61.5" stroke="#8c8a90" stroke-width="1.3"/>
<line x1="371.20" y1="56.5" x2="367.20" y2="62.5" stroke="#9a989e" stroke-width="1.1"/>
<ellipse cx="367.30" cy="56.2" rx="1.4" ry="1.1" fill="#e4c24c"/>
<rect x="369.30" y="57.4" width="1.6" height="3.8" fill="#b478d6"/>
<circle cx="367.50" cy="59.6" r="1.2" fill="#fafafa"/>
<ellipse cx="367.90" cy="62.6" rx="1.1" ry="1.0" fill="#d4b448"/>
<line x1="367.20" y1="64" x2="371.20" y2="70.5" stroke="#8c8a90" stroke-width="1.3"/>
<line x1="372.20" y1="64" x2="368.20" y2="71" stroke="#9a989e" stroke-width="1.1"/>
<rect x="367.70" y="64.0" width="1.3" height="3.6" fill="#d8b440"/>
<rect x="370.50" y="66.8" width="1.6" height="4.0" fill="#b478d6"/>
<circle cx="369.00" cy="68.6" r="1.2" fill="#fafafa"/>
<rect x="368.50" y="71.8" width="1.3" height="3.4" fill="#d4b03c"/>
<line x1="372.30" y1="56.5" x2="376.30" y2="61.5" stroke="#8c8a90" stroke-width="1.3"/>
<line x1="377.30" y1="56.5" x2="373.30" y2="62.5" stroke="#9a989e" stroke-width="1.1"/>
<ellipse cx="373.40" cy="56.2" rx="1.4" ry="1.1" fill="#e4c24c"/>
<rect x="375.40" y="57.4" width="1.6" height="3.8" fill="#b478d6"/>
<circle cx="373.60" cy="59.6" r="1.2" fill="#fafafa"/>
<ellipse cx="374.00" cy="62.6" rx="1.1" ry="1.0" fill="#d4b448"/>
<line x1="373.30" y1="64" x2="377.30" y2="70.5" stroke="#8c8a90" stroke-width="1.3"/>
<line x1="378.30" y1="64" x2="374.30" y2="71" stroke="#9a989e" stroke-width="1.1"/>
<rect x="373.80" y="64.0" width="1.3" height="3.6" fill="#d8b440"/>
<rect x="376.60" y="66.8" width="1.6" height="4.0" fill="#b478d6"/>
<circle cx="375.10" cy="68.6" r="1.2" fill="#fafafa"/>
<rect x="374.60" y="71.8" width="1.3" height="3.4" fill="#d4b03c"/>
<line x1="378.40" y1="56.5" x2="382.40" y2="61.5" stroke="#8c8a90" stroke-width="1.3"/>
<line x1="383.40" y1="56.5" x2="379.40" y2="62.5" stroke="#9a989e" stroke-width="1.1"/>
<ellipse cx="379.50" cy="56.2" rx="1.4" ry="1.1" fill="#e4c24c"/>
<rect x="381.50" y="57.4" width="1.6" height="3.8" fill="#b478d6"/>
<circle cx="379.70" cy="59.6" r="1.2" fill="#fafafa"/>
<ellipse cx="380.10" cy="62.6" rx="1.1" ry="1.0" fill="#d4b448"/>
<line x1="379.40" y1="64" x2="383.40" y2="70.5" stroke="#8c8a90" stroke-width="1.3"/>
<line x1="384.40" y1="64" x2="380.40" y2="71" stroke="#9a989e" stroke-width="1.1"/>
<rect x="379.90" y="64.0" width="1.3" height="3.6" fill="#d8b440"/>
<rect x="382.70" y="66.8" width="1.6" height="4.0" fill="#b478d6"/>
<circle cx="381.20" cy="68.6" r="1.2" fill="#fafafa"/>
<rect x="380.70" y="71.8" width="1.3" height="3.4" fill="#d4b03c"/>
<line x1="384.50" y1="56.5" x2="388.50" y2="61.5" stroke="#8c8a90" stroke-width="1.3"/>
<line x1="389.50" y1="56.5" x2="385.50" y2="62.5" stroke="#9a989e" stroke-width="1.1"/>
<ellipse cx="385.60" cy="56.2" rx="1.4" ry="1.1" fill="#e4c24c"/>
<rect x="387.60" y="57.4" width="1.6" height="3.8" fill="#b478d6"/>
<circle cx="385.80" cy="59.6" r="1.2" fill="#fafafa"/>
<ellipse cx="386.20" cy="62.6" rx="1.1" ry="1.0" fill="#d4b448"/>
<line x1="385.50" y1="64" x2="389.50" y2="70.5" stroke="#8c8a90" stroke-width="1.3"/>
<line x1="390.50" y1="64" x2="386.50" y2="71" stroke="#9a989e" stroke-width="1.1"/>
<rect x="386.00" y="64.0" width="1.3" height="3.6" fill="#d8b440"/>
<rect x="388.80" y="66.8" width="1.6" height="4.0" fill="#b478d6"/>
<circle cx="387.30" cy="68.6" r="1.2" fill="#fafafa"/>
<rect x="386.80" y="71.8" width="1.3" height="3.4" fill="#d4b03c"/>
<line x1="390.60" y1="56.5" x2="394.60" y2="61.5" stroke="#8c8a90" stroke-width="1.3"/>
<line x1="395.60" y1="56.5" x2="391.60" y2="62.5" stroke="#9a989e" stroke-width="1.1"/>
<ellipse cx="391.70" cy="56.2" rx="1.4" ry="1.1" fill="#e4c24c"/>
<rect x="393.70" y="57.4" width="1.6" height="3.8" fill="#b478d6"/>
<circle cx="391.90" cy="59.6" r="1.2" fill="#fafafa"/>
<ellipse cx="392.30" cy="62.6" rx="1.1" ry="1.0" fill="#d4b448"/>
<line x1="391.60" y1="64" x2="395.60" y2="70.5" stroke="#8c8a90" stroke-width="1.3"/>
<line x1="396.60" y1="64" x2="392.60" y2="71" stroke="#9a989e" stroke-width="1.1"/>
<rect x="392.10" y="64.0" width="1.3" height="3.6" fill="#d8b440"/>
<rect x="394.90" y="66.8" width="1.6" height="4.0" fill="#b478d6"/>
<circle cx="393.40" cy="68.6" r="1.2" fill="#fafafa"/>
<rect x="392.90" y="71.8" width="1.3" height="3.4" fill="#d4b03c"/>
<line x1="396.70" y1="56.5" x2="400.70" y2="61.5" stroke="#8c8a90" stroke-width="1.3"/>
<line x1="401.70" y1="56.5" x2="397.70" y2="62.5" stroke="#9a989e" stroke-width="1.1"/>
<ellipse cx="397.80" cy="56.2" rx="1.4" ry="1.1" fill="#e4c24c"/>
<rect x="399.80" y="57.4" width="1.6" height="3.8" fill="#b478d6"/>
<circle cx="398.00" cy="59.6" r="1.2" fill="#fafafa"/>
<ellipse cx="398.40" cy="62.6" rx="1.1" ry="1.0" fill="#d4b448"/>
<line x1="397.70" y1="64" x2="401.70" y2="70.5" stroke="#8c8a90" stroke-width="1.3"/>
<line x1="402.70" y1="64" x2="398.70" y2="71" stroke="#9a989e" stroke-width="1.1"/>
<rect x="398.20" y="64.0" width="1.3" height="3.6" fill="#d8b440"/>
<rect x="401.00" y="66.8" width="1.6" height="4.0" fill="#b478d6"/>
<circle cx="399.50" cy="68.6" r="1.2" fill="#fafafa"/>
<rect x="399.00" y="71.8" width="1.3" height="3.4" fill="#d4b03c"/>
<line x1="402.80" y1="56.5" x2="406.80" y2="61.5" stroke="#8c8a90" stroke-width="1.3"/>
<line x1="407.80" y1="56.5" x2="403.80" y2="62.5" stroke="#9a989e" stroke-width="1.1"/>
<ellipse cx="403.90" cy="56.2" rx="1.4" ry="1.1" fill="#e4c24c"/>
<rect x="405.90" y="57.4" width="1.6" height="3.8" fill="#b478d6"/>
<circle cx="404.10" cy="59.6" r="1.2" fill="#fafafa"/>
<ellipse cx="404.50" cy="62.6" rx="1.1" ry="1.0" fill="#d4b448"/>
<line x1="403.80" y1="64" x2="407.80" y2="70.5" stroke="#8c8a90" stroke-width="1.3"/>
<line x1="408.80" y1="64" x2="404.80" y2="71" stroke="#9a989e" stroke-width="1.1"/>
<rect x="404.30" y="64.0" width="1.3" height="3.6" fill="#d8b440"/>
<rect x="407.10" y="66.8" width="1.6" height="4.0" fill="#b478d6"/>
<circle cx="405.60" cy="68.6" r="1.2" fill="#fafafa"/>
<rect x="405.10" y="71.8" width="1.3" height="3.4" fill="#d4b03c"/>
</g>
<polygon points="314.7,32.8 319.1,34.6 319.1,51.4 314.7,55" fill="#e9a600"/>
<polygon points="269.5,32.8 314.7,32.8 314.7,55 293.6,55 293.6,77 269.5,77" fill="#ffb400"/>
<rect x="293.6" y="55" width="2.2" height="22" fill="#e5a000"/>
<polygon points="376.3,34.6 382.8,32.8 382.8,55 376.3,51.4" fill="#e9a600"/>
<polygon points="382.8,32.8 428,32.8 428,77 404.7,77 404.7,55 382.8,55" fill="#ffb400"/>
<text x="290.70" y="47.40" font-size="9.5" text-anchor="middle" fill="#111" font-weight="normal" >S</text>
<text x="417.40" y="47.40" font-size="9.5" text-anchor="middle" fill="#111" font-weight="normal" >D</text>
<text x="281.3" y="21.5" font-size="9.3" fill="#111">R-stacked bilayer MoS<tspan font-size="6" dy="2.2">2</tspan></text>
<line x1="343.2" y1="30.2" x2="346.6" y2="46" stroke="#111" stroke-width="1.6"/>
<polygon points="343.6,44.5 349.6,43.5 347.6,51" fill="#111"/>
<text x="285.8" y="87.6" font-size="9" fill="#f4f8fb">Al<tspan font-size="6" dy="2.2">2</tspan><tspan dy="-2.2">O</tspan><tspan font-size="6" dy="2.2">3</tspan></text>
<text x="285.80" y="98.10" font-size="9.1" text-anchor="start" fill="#fbf6e0" font-weight="normal" >Back gate</text>
<text x="285.80" y="115.60" font-size="9.1" text-anchor="start" fill="#eef0f6" font-weight="normal" >Si substrate</text>
<text x="1.50" y="10.30" font-size="13.5" text-anchor="start" fill="#000" font-weight="bold" >a</text>
<text x="477.60" y="10.20" font-size="13.5" text-anchor="start" fill="#000" font-weight="bold" >b</text>
<text x="1.50" y="187.30" font-size="13.5" text-anchor="start" fill="#000" font-weight="bold" >c</text>
<text x="237.10" y="187.30" font-size="13.5" text-anchor="start" fill="#000" font-weight="bold" >d</text>
<text x="479.00" y="186.30" font-size="13.5" text-anchor="start" fill="#000" font-weight="bold" >e</text>
<text x="0.50" y="385.70" font-size="13.5" text-anchor="start" fill="#000" font-weight="bold" >f</text>
<rect x="506.7" y="5.4" width="176.59999999999997" height="141.9" fill="none" stroke="#888" stroke-width="0.9"/>
<line x1="505.4" y1="147.04" x2="506.7" y2="147.04" stroke="#666" stroke-width="0.7"/>
<line x1="504.5" y1="131.30" x2="506.7" y2="131.30" stroke="#666" stroke-width="0.8"/>
<text x="502.00" y="133.90" font-size="7.2" text-anchor="end" fill="#333" font-weight="normal" >0</text>
<line x1="505.4" y1="115.56" x2="506.7" y2="115.56" stroke="#666" stroke-width="0.7"/>
<line x1="504.5" y1="99.83" x2="506.7" y2="99.83" stroke="#666" stroke-width="0.8"/>
<text x="502.00" y="102.43" font-size="7.2" text-anchor="end" fill="#333" font-weight="normal" >50</text>
<line x1="505.4" y1="84.09" x2="506.7" y2="84.09" stroke="#666" stroke-width="0.7"/>
<line x1="504.5" y1="68.35" x2="506.7" y2="68.35" stroke="#666" stroke-width="0.8"/>
<text x="502.00" y="70.95" font-size="7.2" text-anchor="end" fill="#333" font-weight="normal" >100</text>
<line x1="505.4" y1="52.61" x2="506.7" y2="52.61" stroke="#666" stroke-width="0.7"/>
<line x1="504.5" y1="36.88" x2="506.7" y2="36.88" stroke="#666" stroke-width="0.8"/>
<text x="502.00" y="39.48" font-size="7.2" text-anchor="end" fill="#333" font-weight="normal" >150</text>
<line x1="505.4" y1="21.14" x2="506.7" y2="21.14" stroke="#666" stroke-width="0.7"/>
<line x1="504.5" y1="5.40" x2="506.7" y2="5.40" stroke="#666" stroke-width="0.8"/>
<text x="502.00" y="8.00" font-size="7.2" text-anchor="end" fill="#333" font-weight="normal" >200</text>
<line x1="519.70" y1="147.3" x2="519.70" y2="149.5" stroke="#666" stroke-width="0.8"/>
<text x="519.70" y="157.90" font-size="7.2" text-anchor="middle" fill="#333" font-weight="normal" >0</text>
<line x1="544.80" y1="147.3" x2="544.80" y2="148.60000000000002" stroke="#666" stroke-width="0.8"/>
<line x1="569.90" y1="147.3" x2="569.90" y2="149.5" stroke="#666" stroke-width="0.8"/>
<text x="569.90" y="157.90" font-size="7.2" text-anchor="middle" fill="#333" font-weight="normal" >1</text>
<line x1="595.00" y1="147.3" x2="595.00" y2="148.60000000000002" stroke="#666" stroke-width="0.8"/>
<line x1="620.10" y1="147.3" x2="620.10" y2="149.5" stroke="#666" stroke-width="0.8"/>
<text x="620.10" y="157.90" font-size="7.2" text-anchor="middle" fill="#333" font-weight="normal" >2</text>
<line x1="645.20" y1="147.3" x2="645.20" y2="148.60000000000002" stroke="#666" stroke-width="0.8"/>
<line x1="670.30" y1="147.3" x2="670.30" y2="149.5" stroke="#666" stroke-width="0.8"/>
<text x="670.30" y="157.90" font-size="7.2" text-anchor="middle" fill="#333" font-weight="normal" >3</text>
<text x="579.4" y="173.0" font-size="9.5" fill="#222">V<tspan font-size="6" dy="2">DS</tspan><tspan dy="-2"> (V)</tspan></text>
<text transform="translate(481.6,72.0) rotate(-90)" x="0" y="0" font-size="10" text-anchor="middle" fill="#222">G (μS)</text>
<text x="515.8" y="38.8" font-size="6.6" fill="#222">V<tspan font-size="4.2" dy="1.6">GS</tspan><tspan dy="-1.6"> from 0 V to 10 V step 1 V</tspan></text>
<path d="M519.70,131.30 L522.21,131.29 L524.72,131.29 L527.23,131.28 L529.74,131.28 L532.25,131.27 L534.76,131.27 L537.27,131.26 L539.78,131.26 L542.29,131.26 L544.80,131.25 L547.31,131.25 L549.82,131.25 L552.33,131.25 L554.84,131.24 L557.35,131.24 L559.86,131.24 L562.37,131.24 L564.88,131.24 L567.39,131.24 L569.90,131.23 L572.41,131.23 L574.92,131.23 L577.43,131.23 L579.94,131.23 L582.45,131.23 L584.96,131.23 L587.47,131.23 L589.98,131.23 L592.49,131.23 L595.00,131.23 L597.51,131.23 L600.02,131.23 L602.53,131.23 L605.04,131.23 L607.55,131.23 L610.06,131.23 L612.57,131.23 L615.08,131.23 L617.59,131.23 L620.10,131.23 L622.61,131.23 L625.12,131.23 L627.63,131.23 L630.14,131.23 L632.65,131.23 L635.16,131.23 L637.67,131.23 L640.18,131.23 L642.69,131.23 L645.20,131.22 L647.71,131.22 L650.22,131.22 L652.73,131.22 L655.24,131.22 L657.75,131.22 L660.26,131.22 L662.77,131.22 L665.28,131.22 L667.79,131.22 L670.30,131.22" fill="none" stroke="#0b3d91" stroke-width="1.3"/>
<path d="M519.70,131.30 L522.21,131.27 L524.72,131.24 L527.23,131.22 L529.74,131.20 L532.25,131.18 L534.76,131.16 L537.27,131.14 L539.78,131.13 L542.29,131.11 L544.80,131.10 L547.31,131.09 L549.82,131.08 L552.33,131.07 L554.84,131.06 L557.35,131.06 L559.86,131.05 L562.37,131.04 L564.88,131.04 L567.39,131.03 L569.90,131.03 L572.41,131.02 L574.92,131.02 L577.43,131.02 L579.94,131.01 L582.45,131.01 L584.96,131.01 L587.47,131.01 L589.98,131.00 L592.49,131.00 L595.00,131.00 L597.51,131.00 L600.02,131.00 L602.53,131.00 L605.04,131.00 L607.55,130.99 L610.06,130.99 L612.57,130.99 L615.08,130.99 L617.59,130.99 L620.10,130.99 L622.61,130.99 L625.12,130.99 L627.63,130.99 L630.14,130.99 L632.65,130.99 L635.16,130.99 L637.67,130.99 L640.18,130.99 L642.69,130.99 L645.20,130.99 L647.71,130.99 L650.22,130.99 L652.73,130.99 L655.24,130.99 L657.75,130.99 L660.26,130.99 L662.77,130.99 L665.28,130.99 L667.79,130.99 L670.30,130.99" fill="none" stroke="#1a4fae" stroke-width="1.3"/>
<path d="M519.70,131.30 L522.21,131.20 L524.72,131.11 L527.23,131.02 L529.74,130.94 L532.25,130.87 L534.76,130.80 L537.27,130.74 L539.78,130.69 L542.29,130.64 L544.80,130.59 L547.31,130.54 L549.82,130.50 L552.33,130.47 L554.84,130.43 L557.35,130.40 L559.86,130.37 L562.37,130.35 L564.88,130.32 L567.39,130.30 L569.90,130.28 L572.41,130.26 L574.92,130.24 L577.43,130.23 L579.94,130.21 L582.45,130.20 L584.96,130.19 L587.47,130.17 L589.98,130.16 L592.49,130.15 L595.00,130.14 L597.51,130.14 L600.02,130.13 L602.53,130.12 L605.04,130.12 L607.55,130.11 L610.06,130.10 L612.57,130.10 L615.08,130.09 L617.59,130.09 L620.10,130.09 L622.61,130.08 L625.12,130.08 L627.63,130.08 L630.14,130.07 L632.65,130.07 L635.16,130.07 L637.67,130.07 L640.18,130.06 L642.69,130.06 L645.20,130.06 L647.71,130.06 L650.22,130.06 L652.73,130.06 L655.24,130.05 L657.75,130.05 L660.26,130.05 L662.77,130.05 L665.28,130.05 L667.79,130.05 L670.30,130.05" fill="none" stroke="#2462c4" stroke-width="1.3"/>
<path d="M519.70,131.30 L522.21,131.04 L524.72,130.79 L527.23,130.56 L529.74,130.34 L532.25,130.14 L534.76,129.95 L537.27,129.77 L539.78,129.60 L542.29,129.45 L544.80,129.30 L547.31,129.17 L549.82,129.04 L552.33,128.92 L554.84,128.81 L557.35,128.71 L559.86,128.61 L562.37,128.52 L564.88,128.43 L567.39,128.35 L569.90,128.28 L572.41,128.21 L574.92,128.14 L577.43,128.08 L579.94,128.02 L582.45,127.97 L584.96,127.92 L587.47,127.87 L589.98,127.83 L592.49,127.79 L595.00,127.75 L597.51,127.72 L600.02,127.68 L602.53,127.65 L605.04,127.62 L607.55,127.59 L610.06,127.57 L612.57,127.54 L615.08,127.52 L617.59,127.50 L620.10,127.48 L622.61,127.46 L625.12,127.45 L627.63,127.43 L630.14,127.41 L632.65,127.40 L635.16,127.39 L637.67,127.37 L640.18,127.36 L642.69,127.35 L645.20,127.34 L647.71,127.33 L650.22,127.32 L652.73,127.32 L655.24,127.31 L657.75,127.30 L660.26,127.29 L662.77,127.29 L665.28,127.28 L667.79,127.28 L670.30,127.27" fill="none" stroke="#4c8ce2" stroke-width="1.1"/>
<path d="M519.70,131.30 L522.21,130.82 L524.72,130.35 L527.23,129.91 L529.74,129.49 L532.25,129.09 L534.76,128.71 L537.27,128.35 L539.78,128.00 L542.29,127.67 L544.80,127.35 L547.31,127.05 L549.82,126.77 L552.33,126.49 L554.84,126.23 L557.35,125.98 L559.86,125.74 L562.37,125.52 L564.88,125.30 L567.39,125.10 L569.90,124.90 L572.41,124.71 L574.92,124.54 L577.43,124.37 L579.94,124.20 L582.45,124.05 L584.96,123.90 L587.47,123.76 L589.98,123.63 L592.49,123.50 L595.00,123.38 L597.51,123.26 L600.02,123.15 L602.53,123.05 L605.04,122.95 L607.55,122.85 L610.06,122.76 L612.57,122.67 L615.08,122.59 L617.59,122.51 L620.10,122.43 L622.61,122.36 L625.12,122.29 L627.63,122.23 L630.14,122.16 L632.65,122.10 L635.16,122.05 L637.67,121.99 L640.18,121.94 L642.69,121.89 L645.20,121.85 L647.71,121.80 L650.22,121.76 L652.73,121.72 L655.24,121.68 L657.75,121.64 L660.26,121.61 L662.77,121.57 L665.28,121.54 L667.79,121.51 L670.30,121.48" fill="none" stroke="#7aaaf0" stroke-width="1.1"/>
<path d="M519.70,131.30 L522.21,130.53 L524.72,129.79 L527.23,129.07 L529.74,128.37 L532.25,127.70 L534.76,127.04 L537.27,126.41 L539.78,125.80 L542.29,125.21 L544.80,124.64 L547.31,124.08 L549.82,123.55 L552.33,123.03 L554.84,122.52 L557.35,122.04 L559.86,121.57 L562.37,121.11 L564.88,120.67 L567.39,120.24 L569.90,119.83 L572.41,119.43 L574.92,119.04 L577.43,118.67 L579.94,118.31 L582.45,117.96 L584.96,117.62 L587.47,117.29 L589.98,116.97 L592.49,116.66 L595.00,116.37 L597.51,116.08 L600.02,115.80 L602.53,115.53 L605.04,115.27 L607.55,115.01 L610.06,114.77 L612.57,114.53 L615.08,114.30 L617.59,114.08 L620.10,113.87 L622.61,113.66 L625.12,113.46 L627.63,113.26 L630.14,113.07 L632.65,112.89 L635.16,112.71 L637.67,112.54 L640.18,112.38 L642.69,112.22 L645.20,112.06 L647.71,111.91 L650.22,111.77 L652.73,111.63 L655.24,111.49 L657.75,111.36 L660.26,111.23 L662.77,111.11 L665.28,110.99 L667.79,110.87 L670.30,110.76" fill="none" stroke="#bcd3f2" stroke-width="1.1"/>
<path d="M519.70,131.30 L522.21,130.15 L524.72,129.03 L527.23,127.93 L529.74,126.86 L532.25,125.82 L534.76,124.80 L537.27,123.80 L539.78,122.83 L542.29,121.88 L544.80,120.96 L547.31,120.05 L549.82,119.17 L552.33,118.31 L554.84,117.47 L557.35,116.65 L559.86,115.84 L562.37,115.06 L564.88,114.30 L567.39,113.55 L569.90,112.82 L572.41,112.11 L574.92,111.42 L577.43,110.74 L579.94,110.08 L582.45,109.43 L584.96,108.80 L587.47,108.19 L589.98,107.59 L592.49,107.00 L595.00,106.43 L597.51,105.87 L600.02,105.32 L602.53,104.79 L605.04,104.27 L607.55,103.76 L610.06,103.27 L612.57,102.78 L615.08,102.31 L617.59,101.85 L620.10,101.40 L622.61,100.96 L625.12,100.53 L627.63,100.11 L630.14,99.70 L632.65,99.30 L635.16,98.91 L637.67,98.53 L640.18,98.16 L642.69,97.80 L645.20,97.44 L647.71,97.10 L650.22,96.76 L652.73,96.43 L655.24,96.11 L657.75,95.80 L660.26,95.49 L662.77,95.19 L665.28,94.90 L667.79,94.61 L670.30,94.33" fill="none" stroke="#f7c0c0" stroke-width="1.1"/>
<path d="M519.70,131.30 L522.21,129.66 L524.72,128.06 L527.23,126.49 L529.74,124.95 L532.25,123.45 L534.76,121.97 L537.27,120.53 L539.78,119.11 L542.29,117.73 L544.80,116.37 L547.31,115.04 L549.82,113.74 L552.33,112.47 L554.84,111.22 L557.35,110.00 L559.86,108.80 L562.37,107.63 L564.88,106.48 L567.39,105.35 L569.90,104.25 L572.41,103.17 L574.92,102.11 L577.43,101.08 L579.94,100.07 L582.45,99.07 L584.96,98.10 L587.47,97.15 L589.98,96.22 L592.49,95.30 L595.00,94.41 L597.51,93.53 L600.02,92.68 L602.53,91.83 L605.04,91.01 L607.55,90.21 L610.06,89.42 L612.57,88.64 L615.08,87.89 L617.59,87.14 L620.10,86.42 L622.61,85.71 L625.12,85.01 L627.63,84.33 L630.14,83.66 L632.65,83.01 L635.16,82.36 L637.67,81.74 L640.18,81.12 L642.69,80.52 L645.20,79.93 L647.71,79.35 L650.22,78.79 L652.73,78.23 L655.24,77.69 L657.75,77.16 L660.26,76.64 L662.77,76.13 L665.28,75.63 L667.79,75.14 L670.30,74.66" fill="none" stroke="#f29696" stroke-width="1.3"/>
<path d="M519.70,131.30 L522.21,129.27 L524.72,127.28 L527.23,125.32 L529.74,123.39 L532.25,121.49 L534.76,119.63 L537.27,117.80 L539.78,116.00 L542.29,114.23 L544.80,112.49 L547.31,110.77 L549.82,109.09 L552.33,107.44 L554.84,105.81 L557.35,104.21 L559.86,102.64 L562.37,101.09 L564.88,99.57 L567.39,98.07 L569.90,96.61 L572.41,95.16 L574.92,93.74 L577.43,92.34 L579.94,90.97 L582.45,89.62 L584.96,88.29 L587.47,86.99 L589.98,85.70 L592.49,84.44 L595.00,83.20 L597.51,81.98 L600.02,80.78 L602.53,79.60 L605.04,78.44 L607.55,77.30 L610.06,76.18 L612.57,75.08 L615.08,74.00 L617.59,72.93 L620.10,71.89 L622.61,70.86 L625.12,69.84 L627.63,68.85 L630.14,67.87 L632.65,66.91 L635.16,65.96 L637.67,65.03 L640.18,64.12 L642.69,63.22 L645.20,62.33 L647.71,61.47 L650.22,60.61 L652.73,59.77 L655.24,58.94 L657.75,58.13 L660.26,57.33 L662.77,56.55 L665.28,55.78 L667.79,55.02 L670.30,54.27" fill="none" stroke="#ea6060" stroke-width="1.3"/>
<path d="M519.70,131.30 L522.21,129.04 L524.72,126.80 L527.23,124.59 L529.74,122.41 L532.25,120.25 L534.76,118.12 L537.27,116.01 L539.78,113.92 L542.29,111.86 L544.80,109.82 L547.31,107.81 L549.82,105.82 L552.33,103.85 L554.84,101.91 L557.35,99.99 L559.86,98.09 L562.37,96.21 L564.88,94.35 L567.39,92.52 L569.90,90.70 L572.41,88.91 L574.92,87.14 L577.43,85.39 L579.94,83.66 L582.45,81.95 L584.96,80.25 L587.47,78.58 L589.98,76.93 L592.49,75.30 L595.00,73.68 L597.51,72.09 L600.02,70.51 L602.53,68.95 L605.04,67.41 L607.55,65.89 L610.06,64.38 L612.57,62.89 L615.08,61.42 L617.59,59.97 L620.10,58.53 L622.61,57.11 L625.12,55.71 L627.63,54.32 L630.14,52.95 L632.65,51.59 L635.16,50.25 L637.67,48.93 L640.18,47.62 L642.69,46.32 L645.20,45.04 L647.71,43.78 L650.22,42.53 L652.73,41.29 L655.24,40.07 L657.75,38.86 L660.26,37.67 L662.77,36.49 L665.28,35.33 L667.79,34.17 L670.30,33.03" fill="none" stroke="#c8181e" stroke-width="1.3"/>
<path d="M519.70,131.30 L522.21,128.66 L524.72,126.05 L527.23,123.46 L529.74,120.91 L532.25,118.37 L534.76,115.87 L537.27,113.39 L539.78,110.94 L542.29,108.51 L544.80,106.10 L547.31,103.73 L549.82,101.37 L552.33,99.04 L554.84,96.74 L557.35,94.46 L559.86,92.20 L562.37,89.97 L564.88,87.75 L567.39,85.57 L569.90,83.40 L572.41,81.26 L574.92,79.14 L577.43,77.04 L579.94,74.96 L582.45,72.91 L584.96,70.87 L587.47,68.86 L589.98,66.87 L592.49,64.89 L595.00,62.94 L597.51,61.01 L600.02,59.10 L602.53,57.21 L605.04,55.34 L607.55,53.49 L610.06,51.65 L612.57,49.84 L615.08,48.04 L617.59,46.27 L620.10,44.51 L622.61,42.77 L625.12,41.05 L627.63,39.34 L630.14,37.66 L632.65,35.99 L635.16,34.34 L637.67,32.70 L640.18,31.09 L642.69,29.48 L645.20,27.90 L647.71,26.33 L650.22,24.78 L652.73,23.25 L655.24,21.73 L657.75,20.22 L660.26,18.73 L662.77,17.26 L665.28,15.80 L667.79,14.36 L670.30,12.93" fill="none" stroke="#861c1c" stroke-width="1.3"/>
<line x1="616.1" y1="138.1" x2="578.6" y2="54.3" stroke="#222" stroke-width="1"/>
<polygon points="577.1,50.9 576.3,57 580.8,55" fill="#222"/>
<line x1="44.3" y1="185.2" x2="221.2" y2="185.2" stroke="#8a8a8a" stroke-width="1.00"/>
<line x1="221.2" y1="185.2" x2="221.2" y2="327.4" stroke="#c6c6c6" stroke-width="1.40"/>
<line x1="44.3" y1="327.4" x2="221.2" y2="327.4" stroke="#c6c6c6" stroke-width="1.40"/>
<line x1="44.3" y1="185.2" x2="44.3" y2="327.4" stroke="#333" stroke-width="0.90"/>
<line x1="42.3" y1="327.40" x2="44.3" y2="327.40" stroke="#333" stroke-width="0.8"/>
<line x1="43.199999999999996" y1="323.12" x2="44.3" y2="323.12" stroke="#555" stroke-width="0.5"/>
<line x1="43.199999999999996" y1="320.62" x2="44.3" y2="320.62" stroke="#555" stroke-width="0.5"/>
<line x1="43.199999999999996" y1="318.84" x2="44.3" y2="318.84" stroke="#555" stroke-width="0.5"/>
<line x1="43.199999999999996" y1="317.46" x2="44.3" y2="317.46" stroke="#555" stroke-width="0.5"/>
<line x1="43.199999999999996" y1="316.33" x2="44.3" y2="316.33" stroke="#555" stroke-width="0.5"/>
<line x1="43.199999999999996" y1="315.38" x2="44.3" y2="315.38" stroke="#555" stroke-width="0.5"/>
<line x1="43.199999999999996" y1="314.56" x2="44.3" y2="314.56" stroke="#555" stroke-width="0.5"/>
<line x1="43.199999999999996" y1="313.83" x2="44.3" y2="313.83" stroke="#555" stroke-width="0.5"/>
<text x="34.40" y="330.00" font-size="6.5" text-anchor="end" fill="#333">10</text>
<text x="34.50" y="327.30" font-size="4.6" text-anchor="start" fill="#333">-13</text>
<line x1="42.3" y1="313.18" x2="44.3" y2="313.18" stroke="#333" stroke-width="0.8"/>
<line x1="43.199999999999996" y1="308.90" x2="44.3" y2="308.90" stroke="#555" stroke-width="0.5"/>
<line x1="43.199999999999996" y1="306.40" x2="44.3" y2="306.40" stroke="#555" stroke-width="0.5"/>
<line x1="43.199999999999996" y1="304.62" x2="44.3" y2="304.62" stroke="#555" stroke-width="0.5"/>
<line x1="43.199999999999996" y1="303.24" x2="44.3" y2="303.24" stroke="#555" stroke-width="0.5"/>
<line x1="43.199999999999996" y1="302.11" x2="44.3" y2="302.11" stroke="#555" stroke-width="0.5"/>
<line x1="43.199999999999996" y1="301.16" x2="44.3" y2="301.16" stroke="#555" stroke-width="0.5"/>
<line x1="43.199999999999996" y1="300.34" x2="44.3" y2="300.34" stroke="#555" stroke-width="0.5"/>
<line x1="43.199999999999996" y1="299.61" x2="44.3" y2="299.61" stroke="#555" stroke-width="0.5"/>
<line x1="42.3" y1="298.96" x2="44.3" y2="298.96" stroke="#333" stroke-width="0.8"/>
<line x1="43.199999999999996" y1="294.68" x2="44.3" y2="294.68" stroke="#555" stroke-width="0.5"/>
<line x1="43.199999999999996" y1="292.18" x2="44.3" y2="292.18" stroke="#555" stroke-width="0.5"/>
<line x1="43.199999999999996" y1="290.40" x2="44.3" y2="290.40" stroke="#555" stroke-width="0.5"/>
<line x1="43.199999999999996" y1="289.02" x2="44.3" y2="289.02" stroke="#555" stroke-width="0.5"/>
<line x1="43.199999999999996" y1="287.89" x2="44.3" y2="287.89" stroke="#555" stroke-width="0.5"/>
<line x1="43.199999999999996" y1="286.94" x2="44.3" y2="286.94" stroke="#555" stroke-width="0.5"/>
<line x1="43.199999999999996" y1="286.12" x2="44.3" y2="286.12" stroke="#555" stroke-width="0.5"/>
<line x1="43.199999999999996" y1="285.39" x2="44.3" y2="285.39" stroke="#555" stroke-width="0.5"/>
<text x="34.40" y="301.56" font-size="6.5" text-anchor="end" fill="#333">10</text>
<text x="34.50" y="298.86" font-size="4.6" text-anchor="start" fill="#333">-11</text>
<line x1="42.3" y1="284.74" x2="44.3" y2="284.74" stroke="#333" stroke-width="0.8"/>
<line x1="43.199999999999996" y1="280.46" x2="44.3" y2="280.46" stroke="#555" stroke-width="0.5"/>
<line x1="43.199999999999996" y1="277.96" x2="44.3" y2="277.96" stroke="#555" stroke-width="0.5"/>
<line x1="43.199999999999996" y1="276.18" x2="44.3" y2="276.18" stroke="#555" stroke-width="0.5"/>
<line x1="43.199999999999996" y1="274.80" x2="44.3" y2="274.80" stroke="#555" stroke-width="0.5"/>
<line x1="43.199999999999996" y1="273.67" x2="44.3" y2="273.67" stroke="#555" stroke-width="0.5"/>
<line x1="43.199999999999996" y1="272.72" x2="44.3" y2="272.72" stroke="#555" stroke-width="0.5"/>
<line x1="43.199999999999996" y1="271.90" x2="44.3" y2="271.90" stroke="#555" stroke-width="0.5"/>
<line x1="43.199999999999996" y1="271.17" x2="44.3" y2="271.17" stroke="#555" stroke-width="0.5"/>
<line x1="42.3" y1="270.52" x2="44.3" y2="270.52" stroke="#333" stroke-width="0.8"/>
<line x1="43.199999999999996" y1="266.24" x2="44.3" y2="266.24" stroke="#555" stroke-width="0.5"/>
<line x1="43.199999999999996" y1="263.74" x2="44.3" y2="263.74" stroke="#555" stroke-width="0.5"/>
<line x1="43.199999999999996" y1="261.96" x2="44.3" y2="261.96" stroke="#555" stroke-width="0.5"/>
<line x1="43.199999999999996" y1="260.58" x2="44.3" y2="260.58" stroke="#555" stroke-width="0.5"/>
<line x1="43.199999999999996" y1="259.45" x2="44.3" y2="259.45" stroke="#555" stroke-width="0.5"/>
<line x1="43.199999999999996" y1="258.50" x2="44.3" y2="258.50" stroke="#555" stroke-width="0.5"/>
<line x1="43.199999999999996" y1="257.68" x2="44.3" y2="257.68" stroke="#555" stroke-width="0.5"/>
<line x1="43.199999999999996" y1="256.95" x2="44.3" y2="256.95" stroke="#555" stroke-width="0.5"/>
<text x="34.40" y="273.12" font-size="6.5" text-anchor="end" fill="#333">10</text>
<text x="34.50" y="270.42" font-size="4.6" text-anchor="start" fill="#333">-9</text>
<line x1="42.3" y1="256.30" x2="44.3" y2="256.30" stroke="#333" stroke-width="0.8"/>
<line x1="43.199999999999996" y1="252.02" x2="44.3" y2="252.02" stroke="#555" stroke-width="0.5"/>
<line x1="43.199999999999996" y1="249.52" x2="44.3" y2="249.52" stroke="#555" stroke-width="0.5"/>
<line x1="43.199999999999996" y1="247.74" x2="44.3" y2="247.74" stroke="#555" stroke-width="0.5"/>
<line x1="43.199999999999996" y1="246.36" x2="44.3" y2="246.36" stroke="#555" stroke-width="0.5"/>
<line x1="43.199999999999996" y1="245.23" x2="44.3" y2="245.23" stroke="#555" stroke-width="0.5"/>
<line x1="43.199999999999996" y1="244.28" x2="44.3" y2="244.28" stroke="#555" stroke-width="0.5"/>
<line x1="43.199999999999996" y1="243.46" x2="44.3" y2="243.46" stroke="#555" stroke-width="0.5"/>
<line x1="43.199999999999996" y1="242.73" x2="44.3" y2="242.73" stroke="#555" stroke-width="0.5"/>
<line x1="42.3" y1="242.08" x2="44.3" y2="242.08" stroke="#333" stroke-width="0.8"/>
<line x1="43.199999999999996" y1="237.80" x2="44.3" y2="237.80" stroke="#555" stroke-width="0.5"/>
<line x1="43.199999999999996" y1="235.30" x2="44.3" y2="235.30" stroke="#555" stroke-width="0.5"/>
<line x1="43.199999999999996" y1="233.52" x2="44.3" y2="233.52" stroke="#555" stroke-width="0.5"/>
<line x1="43.199999999999996" y1="232.14" x2="44.3" y2="232.14" stroke="#555" stroke-width="0.5"/>
<line x1="43.199999999999996" y1="231.01" x2="44.3" y2="231.01" stroke="#555" stroke-width="0.5"/>
<line x1="43.199999999999996" y1="230.06" x2="44.3" y2="230.06" stroke="#555" stroke-width="0.5"/>
<line x1="43.199999999999996" y1="229.24" x2="44.3" y2="229.24" stroke="#555" stroke-width="0.5"/>
<line x1="43.199999999999996" y1="228.51" x2="44.3" y2="228.51" stroke="#555" stroke-width="0.5"/>
<text x="34.40" y="244.68" font-size="6.5" text-anchor="end" fill="#333">10</text>
<text x="34.50" y="241.98" font-size="4.6" text-anchor="start" fill="#333">-7</text>
<line x1="42.3" y1="227.86" x2="44.3" y2="227.86" stroke="#333" stroke-width="0.8"/>
<line x1="43.199999999999996" y1="223.58" x2="44.3" y2="223.58" stroke="#555" stroke-width="0.5"/>
<line x1="43.199999999999996" y1="221.08" x2="44.3" y2="221.08" stroke="#555" stroke-width="0.5"/>
<line x1="43.199999999999996" y1="219.30" x2="44.3" y2="219.30" stroke="#555" stroke-width="0.5"/>
<line x1="43.199999999999996" y1="217.92" x2="44.3" y2="217.92" stroke="#555" stroke-width="0.5"/>
<line x1="43.199999999999996" y1="216.79" x2="44.3" y2="216.79" stroke="#555" stroke-width="0.5"/>
<line x1="43.199999999999996" y1="215.84" x2="44.3" y2="215.84" stroke="#555" stroke-width="0.5"/>
<line x1="43.199999999999996" y1="215.02" x2="44.3" y2="215.02" stroke="#555" stroke-width="0.5"/>
<line x1="43.199999999999996" y1="214.29" x2="44.3" y2="214.29" stroke="#555" stroke-width="0.5"/>
<line x1="42.3" y1="213.64" x2="44.3" y2="213.64" stroke="#333" stroke-width="0.8"/>
<line x1="43.199999999999996" y1="209.36" x2="44.3" y2="209.36" stroke="#555" stroke-width="0.5"/>
<line x1="43.199999999999996" y1="206.86" x2="44.3" y2="206.86" stroke="#555" stroke-width="0.5"/>
<line x1="43.199999999999996" y1="205.08" x2="44.3" y2="205.08" stroke="#555" stroke-width="0.5"/>
<line x1="43.199999999999996" y1="203.70" x2="44.3" y2="203.70" stroke="#555" stroke-width="0.5"/>
<line x1="43.199999999999996" y1="202.57" x2="44.3" y2="202.57" stroke="#555" stroke-width="0.5"/>
<line x1="43.199999999999996" y1="201.62" x2="44.3" y2="201.62" stroke="#555" stroke-width="0.5"/>
<line x1="43.199999999999996" y1="200.80" x2="44.3" y2="200.80" stroke="#555" stroke-width="0.5"/>
<line x1="43.199999999999996" y1="200.07" x2="44.3" y2="200.07" stroke="#555" stroke-width="0.5"/>
<text x="34.40" y="216.24" font-size="6.5" text-anchor="end" fill="#333">10</text>
<text x="34.50" y="213.54" font-size="4.6" text-anchor="start" fill="#333">-5</text>
<line x1="42.3" y1="199.42" x2="44.3" y2="199.42" stroke="#333" stroke-width="0.8"/>
<line x1="43.199999999999996" y1="195.14" x2="44.3" y2="195.14" stroke="#555" stroke-width="0.5"/>
<line x1="43.199999999999996" y1="192.64" x2="44.3" y2="192.64" stroke="#555" stroke-width="0.5"/>
<line x1="43.199999999999996" y1="190.86" x2="44.3" y2="190.86" stroke="#555" stroke-width="0.5"/>
<line x1="43.199999999999996" y1="189.48" x2="44.3" y2="189.48" stroke="#555" stroke-width="0.5"/>
<line x1="43.199999999999996" y1="188.35" x2="44.3" y2="188.35" stroke="#555" stroke-width="0.5"/>
<line x1="43.199999999999996" y1="187.40" x2="44.3" y2="187.40" stroke="#555" stroke-width="0.5"/>
<line x1="43.199999999999996" y1="186.58" x2="44.3" y2="186.58" stroke="#555" stroke-width="0.5"/>
<line x1="43.199999999999996" y1="185.85" x2="44.3" y2="185.85" stroke="#555" stroke-width="0.5"/>
<line x1="42.3" y1="185.20" x2="44.3" y2="185.20" stroke="#333" stroke-width="0.8"/>
<text x="34.40" y="187.80" font-size="6.5" text-anchor="end" fill="#333">10</text>
<text x="34.50" y="185.10" font-size="4.6" text-anchor="start" fill="#333">-3</text>
<line x1="60.38" y1="327.4" x2="60.38" y2="329.4" stroke="#333" stroke-width="0.8"/>
<line x1="92.55" y1="327.4" x2="92.55" y2="329.4" stroke="#333" stroke-width="0.8"/>
<line x1="124.71" y1="327.4" x2="124.71" y2="329.4" stroke="#333" stroke-width="0.8"/>
<line x1="156.87" y1="327.4" x2="156.87" y2="329.4" stroke="#333" stroke-width="0.8"/>
<line x1="189.04" y1="327.4" x2="189.04" y2="329.4" stroke="#333" stroke-width="0.8"/>
<line x1="221.20" y1="327.4" x2="221.20" y2="329.4" stroke="#333" stroke-width="0.8"/>
<line x1="44.30" y1="327.4" x2="44.30" y2="328.59999999999997" stroke="#555" stroke-width="0.6"/>
<line x1="76.46" y1="327.4" x2="76.46" y2="328.59999999999997" stroke="#555" stroke-width="0.6"/>
<line x1="108.63" y1="327.4" x2="108.63" y2="328.59999999999997" stroke="#555" stroke-width="0.6"/>
<line x1="140.79" y1="327.4" x2="140.79" y2="328.59999999999997" stroke="#555" stroke-width="0.6"/>
<line x1="172.95" y1="327.4" x2="172.95" y2="328.59999999999997" stroke="#555" stroke-width="0.6"/>
<line x1="205.12" y1="327.4" x2="205.12" y2="328.59999999999997" stroke="#555" stroke-width="0.6"/>
<text x="60.38" y="337.80" font-size="7.4" text-anchor="middle" fill="#333" font-weight="normal" >-10</text>
<text x="92.55" y="337.80" font-size="7.4" text-anchor="middle" fill="#333" font-weight="normal" >-5</text>
<text x="124.71" y="337.80" font-size="7.4" text-anchor="middle" fill="#333" font-weight="normal" >0</text>
<text x="156.87" y="337.80" font-size="7.4" text-anchor="middle" fill="#333" font-weight="normal" >5</text>
<text x="189.04" y="337.80" font-size="7.4" text-anchor="middle" fill="#333" font-weight="normal" >10</text>
<text x="221.20" y="337.80" font-size="7.4" text-anchor="middle" fill="#333" font-weight="normal" >15</text>
<text x="133.0" y="351.3" font-size="9.5" text-anchor="middle" fill="#222">V<tspan font-size="6" dy="2.2">GS</tspan><tspan dy="-2"> (V)</tspan></text>
<text transform="translate(15.5,251.6) rotate(-90)" x="0" y="0" font-size="9.6" text-anchor="middle" fill="#222">G (S)</text>
<line x1="47.6" y1="192.4" x2="64.8" y2="192.4" stroke="#c8161d" stroke-width="1.2"/>
<text x="69.00" y="194.70" font-size="6.6" text-anchor="start" fill="#222" font-weight="normal" >R-stacked bilayer</text>
<path d="M60.80,305.64 L62.31,314.00 L63.83,305.97 L65.34,308.85 L66.85,316.09 L68.37,302.72 L69.88,314.75 L71.40,301.63 L72.91,310.71 L74.42,303.69 L75.94,313.95 L77.45,307.58 L78.96,303.70 L80.48,312.08 L81.99,304.21 L83.51,306.83 L85.02,309.50 L86.53,306.26 L88.05,311.00 L89.56,319.10 L91.07,318.66 L92.59,309.09 L94.10,314.36 L95.62,304.45 L97.13,311.30 L97.13,314.00 L97.13,282.61 L97.64,280.26 L98.16,277.90 L98.67,275.56 L99.19,273.26 L99.70,270.99 L100.22,268.78 L100.73,266.57 L101.24,264.32 L101.76,262.05 L102.27,259.82 L102.79,257.63 L103.30,255.52 L103.82,253.51 L104.33,251.60 L104.85,249.80 L105.36,248.10 L105.87,246.46 L106.39,244.85 L106.90,243.29 L107.42,241.77 L107.93,240.29 L108.45,238.85 L108.96,237.47 L109.48,236.13 L109.99,234.85 L110.50,233.62 L111.02,232.45 L111.53,231.34 L112.05,230.29 L112.56,229.27 L113.08,228.29 L113.59,227.34 L114.10,226.45 L114.62,225.61 L115.13,224.81 L115.65,224.06 L116.16,223.36 L116.68,222.69 L117.19,222.08 L117.71,221.50 L118.22,220.95 L118.73,220.43 L119.25,219.94 L119.76,219.47 L120.28,219.02 L120.79,218.60 L121.31,218.18 L121.82,217.80 L122.34,217.42 L122.85,217.07 L123.36,216.73 L123.88,216.40 L124.39,216.08 L124.91,215.78 L125.42,215.48 L125.94,215.20 L126.45,214.92 L126.96,214.65 L127.48,214.39 L127.99,214.13 L128.51,213.88 L129.02,213.64 L129.54,213.40 L130.05,213.17 L130.57,212.94 L131.08,212.71 L131.59,212.49 L132.11,212.27 L132.62,212.06 L133.14,211.85 L133.65,211.64 L134.17,211.44 L134.68,211.24 L135.20,211.05 L135.71,210.86 L136.22,210.67 L136.74,210.48 L137.25,210.30 L137.77,210.12 L138.28,209.95 L138.80,209.78 L139.31,209.61 L139.82,209.45 L140.34,209.29 L140.85,209.12 L141.37,208.97 L141.88,208.81 L142.40,208.66 L142.91,208.51 L143.43,208.37 L143.94,208.22 L144.45,208.08 L144.97,207.94 L145.48,207.80 L146.00,207.67 L146.51,207.54 L147.03,207.40 L147.54,207.28 L148.06,207.15 L148.57,207.03 L149.08,206.90 L149.60,206.79 L150.11,206.67 L150.63,206.55 L151.14,206.44 L151.66,206.33 L152.17,206.22 L152.68,206.11 L153.20,206.01 L153.71,205.90 L154.23,205.80 L154.74,205.70 L155.26,205.61 L155.77,205.51 L156.29,205.42 L156.80,205.33 L157.31,205.24 L157.83,205.15 L158.34,205.06 L158.86,204.98 L159.37,204.90 L159.89,204.81 L160.40,204.73 L160.92,204.65 L161.43,204.58 L161.94,204.50 L162.46,204.42 L162.97,204.35 L163.49,204.27 L164.00,204.20 L164.52,204.13 L165.03,204.06 L165.54,203.99 L166.06,203.92 L166.57,203.86 L167.09,203.79 L167.60,203.72 L168.12,203.66 L168.63,203.60 L169.15,203.53 L169.66,203.47 L170.17,203.41 L170.69,203.34 L171.20,203.28 L171.72,203.22 L172.23,203.16 L172.75,203.10 L173.26,203.04 L173.78,202.98 L174.29,202.93 L174.80,202.87 L175.32,202.81 L175.83,202.76 L176.35,202.70 L176.86,202.65 L177.38,202.60 L177.89,202.54 L178.40,202.49 L178.92,202.44 L179.43,202.39 L179.95,202.34 L180.46,202.29 L180.98,202.25 L181.49,202.20 L182.01,202.15 L182.52,202.10 L183.03,202.06 L183.55,202.02 L184.06,201.97 L184.58,201.93 L185.09,201.88 L185.61,201.84 L186.12,201.80 L186.64,201.76 L187.15,201.72 L187.66,201.68 L188.18,201.64 L188.69,201.60 L189.21,201.56 L189.40,201.54" fill="none" stroke="#c8161d" stroke-width="1.25" stroke-linejoin="round"/>
<path d="M189.40,202.41 L188.89,202.56 L188.37,202.72 L187.86,202.87 L187.34,203.02 L186.83,203.17 L186.31,203.32 L185.80,203.46 L185.28,203.60 L184.77,203.74 L184.26,203.88 L183.74,204.02 L183.23,204.17 L182.71,204.31 L182.20,204.46 L181.68,204.61 L181.17,204.76 L180.66,204.92 L180.14,205.07 L179.63,205.23 L179.11,205.39 L178.60,205.55 L178.08,205.72 L177.57,205.88 L177.05,206.05 L176.54,206.22 L176.03,206.39 L175.51,206.57 L175.00,206.75 L174.48,206.92 L173.97,207.10 L173.45,207.29 L172.94,207.47 L172.42,207.66 L171.91,207.85 L171.40,208.04 L170.88,208.23 L170.37,208.43 L169.85,208.62 L169.34,208.82 L168.82,209.01 L168.31,209.20 L167.80,209.40 L167.28,209.59 L166.77,209.78 L166.25,209.98 L165.74,210.17 L165.22,210.36 L164.71,210.56 L164.19,210.75 L163.68,210.95 L163.17,211.15 L162.65,211.35 L162.14,211.56 L161.62,211.76 L161.11,211.97 L160.59,212.18 L160.08,212.40 L159.56,212.61 L159.05,212.83 L158.54,213.06 L158.02,213.28 L157.51,213.52 L156.99,213.76 L156.48,214.00 L155.96,214.26 L155.45,214.51 L154.94,214.77 L154.42,215.05 L153.91,215.34 L153.39,215.63 L152.88,215.94 L152.36,216.26 L151.85,216.60 L151.33,216.94 L150.82,217.30 L150.31,217.66 L149.79,218.05 L149.28,218.44 L148.76,218.85 L148.25,219.27 L147.73,219.71 L147.22,220.16 L146.70,220.64 L146.19,221.12 L145.68,221.64 L145.16,222.17 L144.65,222.73 L144.13,223.31 L143.62,223.91 L143.10,224.54 L142.59,225.20 L142.08,225.88 L141.56,226.59 L141.05,227.34 L140.53,228.13 L140.02,228.96 L139.50,229.86 L138.99,230.82 L138.47,231.85 L137.96,232.95 L137.45,234.14 L136.93,235.42 L136.42,236.80 L135.90,238.28 L135.39,239.88 L134.87,241.60 L134.36,243.58 L133.84,245.89 L133.33,248.64 L132.82,251.76 L132.30,255.15 L131.79,258.56 L131.27,261.70 L130.76,264.83 L130.24,268.11 L129.73,271.53 L129.22,275.00 L128.70,278.54 L128.19,282.16 L127.67,285.83 L127.16,289.51 L127.03,290.43 L126.73,318.70 L126.23,311.97 L124.71,306.76 L123.19,311.84 L121.66,304.87 L120.14,312.42 L118.62,303.27 L117.10,307.34 L115.58,314.42 L114.06,317.91 L112.53,308.01 L111.01,302.49 L109.49,317.04 L107.97,304.40 L106.45,320.88 L104.93,308.43 L103.40,317.18 L101.88,305.47 L100.36,311.91 L98.84,311.58 L97.32,304.76 L95.80,305.53 L94.28,308.61 L92.75,308.51 L91.23,319.25 L89.71,311.00 L88.19,313.01 L86.67,304.25 L85.15,306.75 L83.62,322.20 L82.10,303.70 L80.58,310.85 L79.06,313.36 L77.54,309.17 L76.02,311.92 L74.49,305.64 L72.97,312.35 L71.45,305.01 L69.93,321.63 L68.41,305.41 L66.89,318.38 L65.36,303.13 L63.84,307.15 L62.32,319.13 L60.80,309.45" fill="none" stroke="#c8161d" stroke-width="1.25" stroke-linejoin="round"/>
<line x1="105.3" y1="261.3" x2="108.2" y2="251.5" stroke="#2f62b0" stroke-width="0.8"/>
<polygon points="108.63,250.06 108.64,254.24 106.34,253.56" fill="#2f62b0"/>
<line x1="128.4" y1="250.3" x2="125.6" y2="260.5" stroke="#2f62b0" stroke-width="0.8"/>
<polygon points="125.20,261.95 125.10,257.77 127.42,258.41" fill="#2f62b0"/>
<line x1="161.5" y1="251.1" x2="213.6" y2="251.1" stroke="#8a8a8a" stroke-width="0.70"/>
<line x1="213.6" y1="251.1" x2="213.6" y2="292.1" stroke="#c6c6c6" stroke-width="0.98"/>
<line x1="161.5" y1="292.1" x2="213.6" y2="292.1" stroke="#c6c6c6" stroke-width="0.98"/>
<line x1="161.5" y1="251.1" x2="161.5" y2="292.1" stroke="#333" stroke-width="0.63"/>
<line x1="160.3" y1="292.10" x2="161.5" y2="292.10" stroke="#333" stroke-width="0.8"/>
<line x1="160.84" y1="290.87" x2="161.5" y2="290.87" stroke="#555" stroke-width="0.5"/>
<line x1="160.84" y1="290.14" x2="161.5" y2="290.14" stroke="#555" stroke-width="0.5"/>
<line x1="160.84" y1="289.63" x2="161.5" y2="289.63" stroke="#555" stroke-width="0.5"/>
<line x1="160.84" y1="289.23" x2="161.5" y2="289.23" stroke="#555" stroke-width="0.5"/>
<line x1="160.84" y1="288.91" x2="161.5" y2="288.91" stroke="#555" stroke-width="0.5"/>
<line x1="160.84" y1="288.64" x2="161.5" y2="288.64" stroke="#555" stroke-width="0.5"/>
<line x1="160.84" y1="288.40" x2="161.5" y2="288.40" stroke="#555" stroke-width="0.5"/>
<line x1="160.84" y1="288.19" x2="161.5" y2="288.19" stroke="#555" stroke-width="0.5"/>
<line x1="160.3" y1="288.00" x2="161.5" y2="288.00" stroke="#333" stroke-width="0.8"/>
<line x1="160.84" y1="286.77" x2="161.5" y2="286.77" stroke="#555" stroke-width="0.5"/>
<line x1="160.84" y1="286.04" x2="161.5" y2="286.04" stroke="#555" stroke-width="0.5"/>
<line x1="160.84" y1="285.53" x2="161.5" y2="285.53" stroke="#555" stroke-width="0.5"/>
<line x1="160.84" y1="285.13" x2="161.5" y2="285.13" stroke="#555" stroke-width="0.5"/>
<line x1="160.84" y1="284.81" x2="161.5" y2="284.81" stroke="#555" stroke-width="0.5"/>
<line x1="160.84" y1="284.54" x2="161.5" y2="284.54" stroke="#555" stroke-width="0.5"/>
<line x1="160.84" y1="284.30" x2="161.5" y2="284.30" stroke="#555" stroke-width="0.5"/>
<line x1="160.84" y1="284.09" x2="161.5" y2="284.09" stroke="#555" stroke-width="0.5"/>
<line x1="160.3" y1="283.90" x2="161.5" y2="283.90" stroke="#333" stroke-width="0.8"/>
<line x1="160.84" y1="282.67" x2="161.5" y2="282.67" stroke="#555" stroke-width="0.5"/>
<line x1="160.84" y1="281.94" x2="161.5" y2="281.94" stroke="#555" stroke-width="0.5"/>
<line x1="160.84" y1="281.43" x2="161.5" y2="281.43" stroke="#555" stroke-width="0.5"/>
<line x1="160.84" y1="281.03" x2="161.5" y2="281.03" stroke="#555" stroke-width="0.5"/>
<line x1="160.84" y1="280.71" x2="161.5" y2="280.71" stroke="#555" stroke-width="0.5"/>
<line x1="160.84" y1="280.44" x2="161.5" y2="280.44" stroke="#555" stroke-width="0.5"/>
<line x1="160.84" y1="280.20" x2="161.5" y2="280.20" stroke="#555" stroke-width="0.5"/>
<line x1="160.84" y1="279.99" x2="161.5" y2="279.99" stroke="#555" stroke-width="0.5"/>
<line x1="160.3" y1="279.80" x2="161.5" y2="279.80" stroke="#333" stroke-width="0.8"/>
<line x1="160.84" y1="278.57" x2="161.5" y2="278.57" stroke="#555" stroke-width="0.5"/>
<line x1="160.84" y1="277.84" x2="161.5" y2="277.84" stroke="#555" stroke-width="0.5"/>
<line x1="160.84" y1="277.33" x2="161.5" y2="277.33" stroke="#555" stroke-width="0.5"/>
<line x1="160.84" y1="276.93" x2="161.5" y2="276.93" stroke="#555" stroke-width="0.5"/>
<line x1="160.84" y1="276.61" x2="161.5" y2="276.61" stroke="#555" stroke-width="0.5"/>
<line x1="160.84" y1="276.34" x2="161.5" y2="276.34" stroke="#555" stroke-width="0.5"/>
<line x1="160.84" y1="276.10" x2="161.5" y2="276.10" stroke="#555" stroke-width="0.5"/>
<line x1="160.84" y1="275.89" x2="161.5" y2="275.89" stroke="#555" stroke-width="0.5"/>
<line x1="160.3" y1="275.70" x2="161.5" y2="275.70" stroke="#333" stroke-width="0.8"/>
<line x1="160.84" y1="274.47" x2="161.5" y2="274.47" stroke="#555" stroke-width="0.5"/>
<line x1="160.84" y1="273.74" x2="161.5" y2="273.74" stroke="#555" stroke-width="0.5"/>
<line x1="160.84" y1="273.23" x2="161.5" y2="273.23" stroke="#555" stroke-width="0.5"/>
<line x1="160.84" y1="272.83" x2="161.5" y2="272.83" stroke="#555" stroke-width="0.5"/>
<line x1="160.84" y1="272.51" x2="161.5" y2="272.51" stroke="#555" stroke-width="0.5"/>
<line x1="160.84" y1="272.24" x2="161.5" y2="272.24" stroke="#555" stroke-width="0.5"/>
<line x1="160.84" y1="272.00" x2="161.5" y2="272.00" stroke="#555" stroke-width="0.5"/>
<line x1="160.84" y1="271.79" x2="161.5" y2="271.79" stroke="#555" stroke-width="0.5"/>
<line x1="160.3" y1="271.60" x2="161.5" y2="271.60" stroke="#333" stroke-width="0.8"/>
<line x1="160.84" y1="270.37" x2="161.5" y2="270.37" stroke="#555" stroke-width="0.5"/>
<line x1="160.84" y1="269.64" x2="161.5" y2="269.64" stroke="#555" stroke-width="0.5"/>
<line x1="160.84" y1="269.13" x2="161.5" y2="269.13" stroke="#555" stroke-width="0.5"/>
<line x1="160.84" y1="268.73" x2="161.5" y2="268.73" stroke="#555" stroke-width="0.5"/>
<line x1="160.84" y1="268.41" x2="161.5" y2="268.41" stroke="#555" stroke-width="0.5"/>
<line x1="160.84" y1="268.14" x2="161.5" y2="268.14" stroke="#555" stroke-width="0.5"/>
<line x1="160.84" y1="267.90" x2="161.5" y2="267.90" stroke="#555" stroke-width="0.5"/>
<line x1="160.84" y1="267.69" x2="161.5" y2="267.69" stroke="#555" stroke-width="0.5"/>
<line x1="160.3" y1="267.50" x2="161.5" y2="267.50" stroke="#333" stroke-width="0.8"/>
<line x1="160.84" y1="266.27" x2="161.5" y2="266.27" stroke="#555" stroke-width="0.5"/>
<line x1="160.84" y1="265.54" x2="161.5" y2="265.54" stroke="#555" stroke-width="0.5"/>
<line x1="160.84" y1="265.03" x2="161.5" y2="265.03" stroke="#555" stroke-width="0.5"/>
<line x1="160.84" y1="264.63" x2="161.5" y2="264.63" stroke="#555" stroke-width="0.5"/>
<line x1="160.84" y1="264.31" x2="161.5" y2="264.31" stroke="#555" stroke-width="0.5"/>
<line x1="160.84" y1="264.04" x2="161.5" y2="264.04" stroke="#555" stroke-width="0.5"/>
<line x1="160.84" y1="263.80" x2="161.5" y2="263.80" stroke="#555" stroke-width="0.5"/>
<line x1="160.84" y1="263.59" x2="161.5" y2="263.59" stroke="#555" stroke-width="0.5"/>
<line x1="160.3" y1="263.40" x2="161.5" y2="263.40" stroke="#333" stroke-width="0.8"/>
<line x1="160.84" y1="262.17" x2="161.5" y2="262.17" stroke="#555" stroke-width="0.5"/>
<line x1="160.84" y1="261.44" x2="161.5" y2="261.44" stroke="#555" stroke-width="0.5"/>
<line x1="160.84" y1="260.93" x2="161.5" y2="260.93" stroke="#555" stroke-width="0.5"/>
<line x1="160.84" y1="260.53" x2="161.5" y2="260.53" stroke="#555" stroke-width="0.5"/>
<line x1="160.84" y1="260.21" x2="161.5" y2="260.21" stroke="#555" stroke-width="0.5"/>
<line x1="160.84" y1="259.94" x2="161.5" y2="259.94" stroke="#555" stroke-width="0.5"/>
<line x1="160.84" y1="259.70" x2="161.5" y2="259.70" stroke="#555" stroke-width="0.5"/>
<line x1="160.84" y1="259.49" x2="161.5" y2="259.49" stroke="#555" stroke-width="0.5"/>
<line x1="160.3" y1="259.30" x2="161.5" y2="259.30" stroke="#333" stroke-width="0.8"/>
<line x1="160.84" y1="258.07" x2="161.5" y2="258.07" stroke="#555" stroke-width="0.5"/>
<line x1="160.84" y1="257.34" x2="161.5" y2="257.34" stroke="#555" stroke-width="0.5"/>
<line x1="160.84" y1="256.83" x2="161.5" y2="256.83" stroke="#555" stroke-width="0.5"/>
<line x1="160.84" y1="256.43" x2="161.5" y2="256.43" stroke="#555" stroke-width="0.5"/>
<line x1="160.84" y1="256.11" x2="161.5" y2="256.11" stroke="#555" stroke-width="0.5"/>
<line x1="160.84" y1="255.84" x2="161.5" y2="255.84" stroke="#555" stroke-width="0.5"/>
<line x1="160.84" y1="255.60" x2="161.5" y2="255.60" stroke="#555" stroke-width="0.5"/>
<line x1="160.84" y1="255.39" x2="161.5" y2="255.39" stroke="#555" stroke-width="0.5"/>
<line x1="160.3" y1="255.20" x2="161.5" y2="255.20" stroke="#333" stroke-width="0.8"/>
<line x1="160.84" y1="253.97" x2="161.5" y2="253.97" stroke="#555" stroke-width="0.5"/>
<line x1="160.84" y1="253.24" x2="161.5" y2="253.24" stroke="#555" stroke-width="0.5"/>
<line x1="160.84" y1="252.73" x2="161.5" y2="252.73" stroke="#555" stroke-width="0.5"/>
<line x1="160.84" y1="252.33" x2="161.5" y2="252.33" stroke="#555" stroke-width="0.5"/>
<line x1="160.84" y1="252.01" x2="161.5" y2="252.01" stroke="#555" stroke-width="0.5"/>
<line x1="160.84" y1="251.74" x2="161.5" y2="251.74" stroke="#555" stroke-width="0.5"/>
<line x1="160.84" y1="251.50" x2="161.5" y2="251.50" stroke="#555" stroke-width="0.5"/>
<line x1="160.84" y1="251.29" x2="161.5" y2="251.29" stroke="#555" stroke-width="0.5"/>
<line x1="160.3" y1="251.10" x2="161.5" y2="251.10" stroke="#333" stroke-width="0.8"/>
<line x1="166.71" y1="292.1" x2="166.71" y2="293.3" stroke="#333" stroke-width="0.8"/>
<line x1="177.13" y1="292.1" x2="177.13" y2="293.3" stroke="#333" stroke-width="0.8"/>
<line x1="187.55" y1="292.1" x2="187.55" y2="293.3" stroke="#333" stroke-width="0.8"/>
<line x1="197.97" y1="292.1" x2="197.97" y2="293.3" stroke="#333" stroke-width="0.8"/>
<line x1="208.39" y1="292.1" x2="208.39" y2="293.3" stroke="#333" stroke-width="0.8"/>
<text x="154.4" y="253.20" font-size="5.5" text-anchor="end" fill="#333">10</text>
<text x="154.6" y="250.70" font-size="3.9" fill="#333">-3</text>
<text x="154.4" y="261.40" font-size="5.5" text-anchor="end" fill="#333">10</text>
<text x="154.6" y="258.90" font-size="3.9" fill="#333">-5</text>
<text x="154.4" y="269.70" font-size="5.5" text-anchor="end" fill="#333">10</text>
<text x="154.6" y="267.20" font-size="3.9" fill="#333">-7</text>
<text x="154.4" y="277.90" font-size="5.5" text-anchor="end" fill="#333">10</text>
<text x="154.6" y="275.40" font-size="3.9" fill="#333">-9</text>
<text x="154.4" y="286.10" font-size="5.5" text-anchor="end" fill="#333">10</text>
<text x="154.6" y="283.60" font-size="3.9" fill="#333">-11</text>
<text x="154.4" y="294.20" font-size="5.5" text-anchor="end" fill="#333">10</text>
<text x="154.6" y="291.70" font-size="3.9" fill="#333">-13</text>
<text x="166.71" y="299.20" font-size="5.8" text-anchor="middle" fill="#333" font-weight="normal" >-10</text>
<text x="177.13" y="299.20" font-size="5.8" text-anchor="middle" fill="#333" font-weight="normal" >-5</text>
<text x="187.55" y="299.20" font-size="5.8" text-anchor="middle" fill="#333" font-weight="normal" >0</text>
<text x="197.97" y="299.20" font-size="5.8" text-anchor="middle" fill="#333" font-weight="normal" >5</text>
<text x="208.39" y="299.20" font-size="5.8" text-anchor="middle" fill="#333" font-weight="normal" >10</text>
<text x="187.6" y="307.5" font-size="7.6" text-anchor="middle" fill="#222">V<tspan font-size="4.8" dy="1.8">GS</tspan><tspan dy="-1.8"> (V)</tspan></text>
<text transform="translate(144.8,271.5) rotate(-90)" x="0" y="0" font-size="7.6" text-anchor="middle" fill="#222">G (S)</text>
<line x1="163.2" y1="257.1" x2="168.7" y2="257.1" stroke="#2f5fae" stroke-width="1"/>
<text x="170.80" y="258.20" font-size="5.6" text-anchor="start" fill="#222" font-weight="normal" >Monolayer</text>
<path d="M166.10,289.24 L166.46,289.95 L166.82,290.27 L167.17,291.15 L167.53,289.94 L167.89,291.03 L168.25,285.67 L168.60,288.29 L168.96,291.16 L169.32,289.39 L169.68,290.91 L170.03,286.18 L170.39,288.31 L170.75,286.98 L171.11,288.76 L171.46,288.94 L171.82,285.58 L172.18,286.80 L172.54,287.18 L172.89,291.00 L173.25,290.09 L173.61,286.46 L173.97,290.28 L174.33,286.33 L174.68,289.20 L175.04,286.26 L175.40,285.51 L175.76,290.73 L176.11,286.76 L176.47,286.79 L176.83,291.39 L177.19,290.73 L177.54,287.24 L177.90,291.27 L178.26,288.74 L178.62,289.57 L178.97,286.73 L179.33,291.15 L179.69,289.64 L180.05,291.30 L180.41,290.86 L180.76,287.29 L181.12,287.67 L181.48,286.50 L181.84,286.37 L182.19,285.89 L182.55,287.31 L182.91,289.12 L183.27,285.52 L183.62,289.57 L183.98,287.53 L184.34,287.36 L184.70,290.41 L185.05,288.38 L185.41,287.39 L185.77,288.39 L186.13,289.73 L186.48,285.84 L186.84,291.35 L187.20,285.64" fill="none" stroke="#2a5caa" stroke-width="1.1"/>
<path d="M166.10,290.00 L166.46,290.57 L166.82,285.61 L167.17,290.23 L167.53,287.70 L167.89,288.97 L168.25,285.55 L168.60,285.78 L168.96,286.59 L169.32,291.23 L169.68,286.68 L170.03,290.03 L170.39,291.08 L170.75,291.15 L171.11,287.57 L171.46,287.63 L171.82,288.65 L172.18,290.15 L172.54,286.15 L172.89,289.99 L173.25,290.28 L173.61,290.66 L173.97,285.72 L174.33,291.17 L174.68,286.05 L175.04,287.54 L175.40,289.16 L175.76,291.01 L176.11,287.54 L176.47,291.05 L176.83,288.77 L177.19,287.37 L177.54,287.40 L177.90,286.56 L178.26,285.97 L178.62,286.39 L178.97,289.64 L179.33,291.48 L179.69,286.47 L180.05,285.79 L180.41,291.42 L180.76,288.70 L181.12,287.94 L181.48,286.92 L181.84,289.06 L182.19,290.46 L182.55,288.23 L182.91,288.03 L183.27,285.83 L183.62,291.00 L183.98,285.70 L184.34,288.46 L184.70,290.53 L185.05,286.28 L185.41,289.89 L185.77,291.20 L186.13,289.28 L186.48,290.23 L186.84,286.14 L187.20,288.11" fill="none" stroke="#2a5caa" stroke-width="1.1"/>
<path d="M187.30,286.00 L187.38,285.12 L187.48,283.92 L187.61,282.48 L187.74,280.91 L187.89,279.28 L188.03,277.69 L188.17,276.23 L188.30,275.00 L188.41,273.96 L188.51,273.01 L188.61,272.14 L188.70,271.33 L188.80,270.58 L188.91,269.86 L189.05,269.18 L189.20,268.50 L189.37,267.85 L189.56,267.23 L189.76,266.66 L189.97,266.11 L190.20,265.60 L190.44,265.11 L190.71,264.65 L191.00,264.20 L191.30,263.78 L191.61,263.39 L191.94,263.03 L192.28,262.69 L192.65,262.37 L193.06,262.07 L193.51,261.78 L194.00,261.50 L194.53,261.24 L195.08,261.00 L195.66,260.78 L196.28,260.58 L196.94,260.39 L197.66,260.19 L198.44,260.00 L199.30,259.80 L200.31,259.58 L201.50,259.36 L202.80,259.12 L204.13,258.89 L205.42,258.68 L206.60,258.49 L207.58,258.32 L208.30,258.20" fill="none" stroke="#2a5caa" stroke-width="1.1"/>
<line x1="268.7" y1="185.2" x2="445.4" y2="185.2" stroke="#8a8a8a" stroke-width="1.00"/>
<line x1="445.4" y1="185.2" x2="445.4" y2="327.4" stroke="#c6c6c6" stroke-width="1.40"/>
<line x1="268.7" y1="327.4" x2="445.4" y2="327.4" stroke="#c6c6c6" stroke-width="1.40"/>
<line x1="268.7" y1="185.2" x2="268.7" y2="327.4" stroke="#333" stroke-width="0.90"/>
<line x1="266.7" y1="327.40" x2="268.7" y2="327.40" stroke="#333" stroke-width="0.8"/>
<line x1="267.59999999999997" y1="323.12" x2="268.7" y2="323.12" stroke="#555" stroke-width="0.5"/>
<line x1="267.59999999999997" y1="320.62" x2="268.7" y2="320.62" stroke="#555" stroke-width="0.5"/>
<line x1="267.59999999999997" y1="318.84" x2="268.7" y2="318.84" stroke="#555" stroke-width="0.5"/>
<line x1="267.59999999999997" y1="317.46" x2="268.7" y2="317.46" stroke="#555" stroke-width="0.5"/>
<line x1="267.59999999999997" y1="316.33" x2="268.7" y2="316.33" stroke="#555" stroke-width="0.5"/>
<line x1="267.59999999999997" y1="315.38" x2="268.7" y2="315.38" stroke="#555" stroke-width="0.5"/>
<line x1="267.59999999999997" y1="314.56" x2="268.7" y2="314.56" stroke="#555" stroke-width="0.5"/>
<line x1="267.59999999999997" y1="313.83" x2="268.7" y2="313.83" stroke="#555" stroke-width="0.5"/>
<text x="258.80" y="330.00" font-size="6.5" text-anchor="end" fill="#333">10</text>
<text x="258.90" y="327.30" font-size="4.6" text-anchor="start" fill="#333">-13</text>
<line x1="266.7" y1="313.18" x2="268.7" y2="313.18" stroke="#333" stroke-width="0.8"/>
<line x1="267.59999999999997" y1="308.90" x2="268.7" y2="308.90" stroke="#555" stroke-width="0.5"/>
<line x1="267.59999999999997" y1="306.40" x2="268.7" y2="306.40" stroke="#555" stroke-width="0.5"/>
<line x1="267.59999999999997" y1="304.62" x2="268.7" y2="304.62" stroke="#555" stroke-width="0.5"/>
<line x1="267.59999999999997" y1="303.24" x2="268.7" y2="303.24" stroke="#555" stroke-width="0.5"/>
<line x1="267.59999999999997" y1="302.11" x2="268.7" y2="302.11" stroke="#555" stroke-width="0.5"/>
<line x1="267.59999999999997" y1="301.16" x2="268.7" y2="301.16" stroke="#555" stroke-width="0.5"/>
<line x1="267.59999999999997" y1="300.34" x2="268.7" y2="300.34" stroke="#555" stroke-width="0.5"/>
<line x1="267.59999999999997" y1="299.61" x2="268.7" y2="299.61" stroke="#555" stroke-width="0.5"/>
<line x1="266.7" y1="298.96" x2="268.7" y2="298.96" stroke="#333" stroke-width="0.8"/>
<line x1="267.59999999999997" y1="294.68" x2="268.7" y2="294.68" stroke="#555" stroke-width="0.5"/>
<line x1="267.59999999999997" y1="292.18" x2="268.7" y2="292.18" stroke="#555" stroke-width="0.5"/>
<line x1="267.59999999999997" y1="290.40" x2="268.7" y2="290.40" stroke="#555" stroke-width="0.5"/>
<line x1="267.59999999999997" y1="289.02" x2="268.7" y2="289.02" stroke="#555" stroke-width="0.5"/>
<line x1="267.59999999999997" y1="287.89" x2="268.7" y2="287.89" stroke="#555" stroke-width="0.5"/>
<line x1="267.59999999999997" y1="286.94" x2="268.7" y2="286.94" stroke="#555" stroke-width="0.5"/>
<line x1="267.59999999999997" y1="286.12" x2="268.7" y2="286.12" stroke="#555" stroke-width="0.5"/>
<line x1="267.59999999999997" y1="285.39" x2="268.7" y2="285.39" stroke="#555" stroke-width="0.5"/>
<text x="258.80" y="301.56" font-size="6.5" text-anchor="end" fill="#333">10</text>
<text x="258.90" y="298.86" font-size="4.6" text-anchor="start" fill="#333">-11</text>
<line x1="266.7" y1="284.74" x2="268.7" y2="284.74" stroke="#333" stroke-width="0.8"/>
<line x1="267.59999999999997" y1="280.46" x2="268.7" y2="280.46" stroke="#555" stroke-width="0.5"/>
<line x1="267.59999999999997" y1="277.96" x2="268.7" y2="277.96" stroke="#555" stroke-width="0.5"/>
<line x1="267.59999999999997" y1="276.18" x2="268.7" y2="276.18" stroke="#555" stroke-width="0.5"/>
<line x1="267.59999999999997" y1="274.80" x2="268.7" y2="274.80" stroke="#555" stroke-width="0.5"/>
<line x1="267.59999999999997" y1="273.67" x2="268.7" y2="273.67" stroke="#555" stroke-width="0.5"/>
<line x1="267.59999999999997" y1="272.72" x2="268.7" y2="272.72" stroke="#555" stroke-width="0.5"/>
<line x1="267.59999999999997" y1="271.90" x2="268.7" y2="271.90" stroke="#555" stroke-width="0.5"/>
<line x1="267.59999999999997" y1="271.17" x2="268.7" y2="271.17" stroke="#555" stroke-width="0.5"/>
<line x1="266.7" y1="270.52" x2="268.7" y2="270.52" stroke="#333" stroke-width="0.8"/>
<line x1="267.59999999999997" y1="266.24" x2="268.7" y2="266.24" stroke="#555" stroke-width="0.5"/>
<line x1="267.59999999999997" y1="263.74" x2="268.7" y2="263.74" stroke="#555" stroke-width="0.5"/>
<line x1="267.59999999999997" y1="261.96" x2="268.7" y2="261.96" stroke="#555" stroke-width="0.5"/>
<line x1="267.59999999999997" y1="260.58" x2="268.7" y2="260.58" stroke="#555" stroke-width="0.5"/>
<line x1="267.59999999999997" y1="259.45" x2="268.7" y2="259.45" stroke="#555" stroke-width="0.5"/>
<line x1="267.59999999999997" y1="258.50" x2="268.7" y2="258.50" stroke="#555" stroke-width="0.5"/>
<line x1="267.59999999999997" y1="257.68" x2="268.7" y2="257.68" stroke="#555" stroke-width="0.5"/>
<line x1="267.59999999999997" y1="256.95" x2="268.7" y2="256.95" stroke="#555" stroke-width="0.5"/>
<text x="258.80" y="273.12" font-size="6.5" text-anchor="end" fill="#333">10</text>
<text x="258.90" y="270.42" font-size="4.6" text-anchor="start" fill="#333">-9</text>
<line x1="266.7" y1="256.30" x2="268.7" y2="256.30" stroke="#333" stroke-width="0.8"/>
<line x1="267.59999999999997" y1="252.02" x2="268.7" y2="252.02" stroke="#555" stroke-width="0.5"/>
<line x1="267.59999999999997" y1="249.52" x2="268.7" y2="249.52" stroke="#555" stroke-width="0.5"/>
<line x1="267.59999999999997" y1="247.74" x2="268.7" y2="247.74" stroke="#555" stroke-width="0.5"/>
<line x1="267.59999999999997" y1="246.36" x2="268.7" y2="246.36" stroke="#555" stroke-width="0.5"/>
<line x1="267.59999999999997" y1="245.23" x2="268.7" y2="245.23" stroke="#555" stroke-width="0.5"/>
<line x1="267.59999999999997" y1="244.28" x2="268.7" y2="244.28" stroke="#555" stroke-width="0.5"/>
<line x1="267.59999999999997" y1="243.46" x2="268.7" y2="243.46" stroke="#555" stroke-width="0.5"/>
<line x1="267.59999999999997" y1="242.73" x2="268.7" y2="242.73" stroke="#555" stroke-width="0.5"/>
<line x1="266.7" y1="242.08" x2="268.7" y2="242.08" stroke="#333" stroke-width="0.8"/>
<line x1="267.59999999999997" y1="237.80" x2="268.7" y2="237.80" stroke="#555" stroke-width="0.5"/>
<line x1="267.59999999999997" y1="235.30" x2="268.7" y2="235.30" stroke="#555" stroke-width="0.5"/>
<line x1="267.59999999999997" y1="233.52" x2="268.7" y2="233.52" stroke="#555" stroke-width="0.5"/>
<line x1="267.59999999999997" y1="232.14" x2="268.7" y2="232.14" stroke="#555" stroke-width="0.5"/>
<line x1="267.59999999999997" y1="231.01" x2="268.7" y2="231.01" stroke="#555" stroke-width="0.5"/>
<line x1="267.59999999999997" y1="230.06" x2="268.7" y2="230.06" stroke="#555" stroke-width="0.5"/>
<line x1="267.59999999999997" y1="229.24" x2="268.7" y2="229.24" stroke="#555" stroke-width="0.5"/>
<line x1="267.59999999999997" y1="228.51" x2="268.7" y2="228.51" stroke="#555" stroke-width="0.5"/>
<text x="258.80" y="244.68" font-size="6.5" text-anchor="end" fill="#333">10</text>
<text x="258.90" y="241.98" font-size="4.6" text-anchor="start" fill="#333">-7</text>
<line x1="266.7" y1="227.86" x2="268.7" y2="227.86" stroke="#333" stroke-width="0.8"/>
<line x1="267.59999999999997" y1="223.58" x2="268.7" y2="223.58" stroke="#555" stroke-width="0.5"/>
<line x1="267.59999999999997" y1="221.08" x2="268.7" y2="221.08" stroke="#555" stroke-width="0.5"/>
<line x1="267.59999999999997" y1="219.30" x2="268.7" y2="219.30" stroke="#555" stroke-width="0.5"/>
<line x1="267.59999999999997" y1="217.92" x2="268.7" y2="217.92" stroke="#555" stroke-width="0.5"/>
<line x1="267.59999999999997" y1="216.79" x2="268.7" y2="216.79" stroke="#555" stroke-width="0.5"/>
<line x1="267.59999999999997" y1="215.84" x2="268.7" y2="215.84" stroke="#555" stroke-width="0.5"/>
<line x1="267.59999999999997" y1="215.02" x2="268.7" y2="215.02" stroke="#555" stroke-width="0.5"/>
<line x1="267.59999999999997" y1="214.29" x2="268.7" y2="214.29" stroke="#555" stroke-width="0.5"/>
<line x1="266.7" y1="213.64" x2="268.7" y2="213.64" stroke="#333" stroke-width="0.8"/>
<line x1="267.59999999999997" y1="209.36" x2="268.7" y2="209.36" stroke="#555" stroke-width="0.5"/>
<line x1="267.59999999999997" y1="206.86" x2="268.7" y2="206.86" stroke="#555" stroke-width="0.5"/>
<line x1="267.59999999999997" y1="205.08" x2="268.7" y2="205.08" stroke="#555" stroke-width="0.5"/>
<line x1="267.59999999999997" y1="203.70" x2="268.7" y2="203.70" stroke="#555" stroke-width="0.5"/>
<line x1="267.59999999999997" y1="202.57" x2="268.7" y2="202.57" stroke="#555" stroke-width="0.5"/>
<line x1="267.59999999999997" y1="201.62" x2="268.7" y2="201.62" stroke="#555" stroke-width="0.5"/>
<line x1="267.59999999999997" y1="200.80" x2="268.7" y2="200.80" stroke="#555" stroke-width="0.5"/>
<line x1="267.59999999999997" y1="200.07" x2="268.7" y2="200.07" stroke="#555" stroke-width="0.5"/>
<text x="258.80" y="216.24" font-size="6.5" text-anchor="end" fill="#333">10</text>
<text x="258.90" y="213.54" font-size="4.6" text-anchor="start" fill="#333">-5</text>
<line x1="266.7" y1="199.42" x2="268.7" y2="199.42" stroke="#333" stroke-width="0.8"/>
<line x1="267.59999999999997" y1="195.14" x2="268.7" y2="195.14" stroke="#555" stroke-width="0.5"/>
<line x1="267.59999999999997" y1="192.64" x2="268.7" y2="192.64" stroke="#555" stroke-width="0.5"/>
<line x1="267.59999999999997" y1="190.86" x2="268.7" y2="190.86" stroke="#555" stroke-width="0.5"/>
<line x1="267.59999999999997" y1="189.48" x2="268.7" y2="189.48" stroke="#555" stroke-width="0.5"/>
<line x1="267.59999999999997" y1="188.35" x2="268.7" y2="188.35" stroke="#555" stroke-width="0.5"/>
<line x1="267.59999999999997" y1="187.40" x2="268.7" y2="187.40" stroke="#555" stroke-width="0.5"/>
<line x1="267.59999999999997" y1="186.58" x2="268.7" y2="186.58" stroke="#555" stroke-width="0.5"/>
<line x1="267.59999999999997" y1="185.85" x2="268.7" y2="185.85" stroke="#555" stroke-width="0.5"/>
<line x1="266.7" y1="185.20" x2="268.7" y2="185.20" stroke="#333" stroke-width="0.8"/>
<text x="258.80" y="187.80" font-size="6.5" text-anchor="end" fill="#333">10</text>
<text x="258.90" y="185.10" font-size="4.6" text-anchor="start" fill="#333">-3</text>
<line x1="286.37" y1="327.4" x2="286.37" y2="329.4" stroke="#333" stroke-width="0.8"/>
<line x1="321.71" y1="327.4" x2="321.71" y2="329.4" stroke="#333" stroke-width="0.8"/>
<line x1="357.05" y1="327.4" x2="357.05" y2="329.4" stroke="#333" stroke-width="0.8"/>
<line x1="392.39" y1="327.4" x2="392.39" y2="329.4" stroke="#333" stroke-width="0.8"/>
<line x1="427.73" y1="327.4" x2="427.73" y2="329.4" stroke="#333" stroke-width="0.8"/>
<line x1="268.70" y1="327.4" x2="268.70" y2="328.59999999999997" stroke="#555" stroke-width="0.6"/>
<line x1="304.04" y1="327.4" x2="304.04" y2="328.59999999999997" stroke="#555" stroke-width="0.6"/>
<line x1="339.38" y1="327.4" x2="339.38" y2="328.59999999999997" stroke="#555" stroke-width="0.6"/>
<line x1="374.72" y1="327.4" x2="374.72" y2="328.59999999999997" stroke="#555" stroke-width="0.6"/>
<line x1="410.06" y1="327.4" x2="410.06" y2="328.59999999999997" stroke="#555" stroke-width="0.6"/>
<line x1="445.40" y1="327.4" x2="445.40" y2="328.59999999999997" stroke="#555" stroke-width="0.6"/>
<text x="286.37" y="337.80" font-size="7.4" text-anchor="middle" fill="#333" font-weight="normal" >-10</text>
<text x="321.71" y="337.80" font-size="7.4" text-anchor="middle" fill="#333" font-weight="normal" >-5</text>
<text x="357.05" y="337.80" font-size="7.4" text-anchor="middle" fill="#333" font-weight="normal" >0</text>
<text x="392.39" y="337.80" font-size="7.4" text-anchor="middle" fill="#333" font-weight="normal" >5</text>
<text x="427.73" y="337.80" font-size="7.4" text-anchor="middle" fill="#333" font-weight="normal" >10</text>
<text x="356.6" y="351.3" font-size="9.5" text-anchor="middle" fill="#222">V<tspan font-size="6" dy="2.2">GS</tspan><tspan dy="-2"> (V)</tspan></text>
<text transform="translate(242.6,252.1) rotate(-90)" x="0" y="0" font-size="9.6" text-anchor="middle" fill="#222">G (S)</text>
<line x1="272.5" y1="191.60" x2="289.2" y2="191.60" stroke="#c01a1e" stroke-width="1.2"/>
<text x="291.00" y="193.90" font-size="6.6" text-anchor="start" fill="#222" font-weight="normal" >10 V</text>
<line x1="272.5" y1="200.60" x2="289.2" y2="200.60" stroke="#ef6b6b" stroke-width="1.2"/>
<text x="291.00" y="202.90" font-size="6.6" text-anchor="start" fill="#222" font-weight="normal" >8 V</text>
<line x1="272.5" y1="209.60" x2="289.2" y2="209.60" stroke="#8dbbf2" stroke-width="1.2"/>
<text x="291.00" y="211.90" font-size="6.6" text-anchor="start" fill="#222" font-weight="normal" >6 V</text>
<line x1="272.5" y1="218.60" x2="289.2" y2="218.60" stroke="#5b97e2" stroke-width="1.2"/>
<text x="291.00" y="220.90" font-size="6.6" text-anchor="start" fill="#222" font-weight="normal" >4 V</text>
<line x1="272.5" y1="227.60" x2="289.2" y2="227.60" stroke="#2b5dab" stroke-width="1.2"/>
<text x="291.00" y="229.90" font-size="6.6" text-anchor="start" fill="#222" font-weight="normal" >2 V</text>
<path d="M286.30,304.74 L287.82,311.99 L289.33,314.04 L290.85,309.48 L292.36,310.98 L293.88,297.51 L295.39,316.54 L296.91,307.23 L298.43,317.07 L299.94,303.86 L301.46,306.37 L302.97,313.84 L304.49,303.53 L306.00,308.06 L307.52,304.29 L309.03,315.54 L310.55,303.79 L312.07,303.38 L313.58,313.61 L315.10,317.88 L316.61,302.65 L318.13,314.30 L319.64,305.30 L321.16,311.75 L322.68,303.10 L324.19,317.73 L325.71,315.86 L327.22,304.84 L327.22,314.00 L327.22,282.61 L327.79,280.26 L328.36,277.90 L328.92,275.56 L329.49,273.26 L330.05,270.99 L330.62,268.78 L331.19,266.57 L331.75,264.32 L332.32,262.05 L332.89,259.82 L333.45,257.63 L334.02,255.52 L334.59,253.51 L335.15,251.60 L335.72,249.80 L336.28,248.10 L336.85,246.46 L337.42,244.85 L337.98,243.29 L338.55,241.77 L339.12,240.29 L339.68,238.85 L340.25,237.47 L340.82,236.13 L341.38,234.85 L341.95,233.62 L342.52,232.45 L343.08,231.34 L343.65,230.29 L344.21,229.27 L344.78,228.29 L345.35,227.34 L345.91,226.45 L346.48,225.61 L347.05,224.81 L347.61,224.06 L348.18,223.36 L348.75,222.69 L349.31,222.08 L349.88,221.50 L350.44,220.95 L351.01,220.43 L351.58,219.94 L352.14,219.47 L352.71,219.02 L353.28,218.60 L353.84,218.18 L354.41,217.80 L354.98,217.42 L355.54,217.07 L356.11,216.73 L356.68,216.40 L357.24,216.08 L357.81,215.78 L358.37,215.48 L358.94,215.20 L359.51,214.92 L360.07,214.65 L360.64,214.39 L361.21,214.13 L361.77,213.88 L362.34,213.64 L362.91,213.40 L363.47,213.17 L364.04,212.94 L364.60,212.71 L365.17,212.49 L365.74,212.27 L366.30,212.06 L366.87,211.85 L367.44,211.64 L368.00,211.44 L368.57,211.24 L369.14,211.05 L369.70,210.86 L370.27,210.67 L370.84,210.48 L371.40,210.30 L371.97,210.12 L372.53,209.95 L373.10,209.78 L373.67,209.61 L374.23,209.45 L374.80,209.29 L375.37,209.12 L375.93,208.97 L376.50,208.81 L377.07,208.66 L377.63,208.51 L378.20,208.37 L378.76,208.22 L379.33,208.08 L379.90,207.94 L380.46,207.80 L381.03,207.67 L381.60,207.54 L382.16,207.40 L382.73,207.28 L383.30,207.15 L383.86,207.03 L384.43,206.90 L385.00,206.79 L385.56,206.67 L386.13,206.55 L386.69,206.44 L387.26,206.33 L387.83,206.22 L388.39,206.11 L388.96,206.01 L389.53,205.90 L390.09,205.80 L390.66,205.70 L391.23,205.61 L391.79,205.51 L392.36,205.42 L392.92,205.33 L393.49,205.24 L394.06,205.15 L394.62,205.06 L395.19,204.98 L395.76,204.90 L396.32,204.81 L396.89,204.73 L397.46,204.65 L398.02,204.58 L398.59,204.50 L399.16,204.42 L399.72,204.35 L400.29,204.27 L400.85,204.20 L401.42,204.13 L401.99,204.06 L402.55,203.99 L403.12,203.92 L403.69,203.86 L404.25,203.79 L404.82,203.72 L405.39,203.66 L405.95,203.60 L406.52,203.53 L407.08,203.47 L407.65,203.41 L408.22,203.34 L408.78,203.28 L409.35,203.22 L409.92,203.16 L410.48,203.10 L411.05,203.04 L411.62,202.98 L412.18,202.93 L412.75,202.87 L413.32,202.81 L413.88,202.76 L414.45,202.70 L415.01,202.65 L415.58,202.60 L416.15,202.54 L416.71,202.49 L417.28,202.44 L417.85,202.39 L418.41,202.34 L418.98,202.29 L419.55,202.25 L420.11,202.20 L420.68,202.15 L421.24,202.10 L421.81,202.06 L422.38,202.02 L422.94,201.97 L423.51,201.93 L424.08,201.88 L424.64,201.84 L425.21,201.80 L425.78,201.76 L426.34,201.72 L426.91,201.68 L427.48,201.64 L427.90,201.61" fill="none" stroke="#c01a1e" stroke-width="1.25" stroke-linejoin="round"/>
<path d="M427.90,202.60 L427.33,202.75 L426.77,202.91 L426.20,203.06 L425.63,203.21 L425.07,203.35 L424.50,203.49 L423.94,203.63 L423.37,203.77 L422.80,203.91 L422.24,204.06 L421.67,204.20 L421.10,204.35 L420.54,204.50 L419.97,204.65 L419.40,204.80 L418.84,204.96 L418.27,205.11 L417.70,205.27 L417.14,205.43 L416.57,205.59 L416.01,205.76 L415.44,205.93 L414.87,206.09 L414.31,206.26 L413.74,206.44 L413.17,206.61 L412.61,206.79 L412.04,206.97 L411.47,207.15 L410.91,207.33 L410.34,207.52 L409.78,207.71 L409.21,207.90 L408.64,208.09 L408.08,208.28 L407.51,208.48 L406.94,208.67 L406.38,208.87 L405.81,209.06 L405.24,209.25 L404.68,209.45 L404.11,209.64 L403.54,209.83 L402.98,210.02 L402.41,210.22 L401.85,210.41 L401.28,210.61 L400.71,210.80 L400.15,211.00 L399.58,211.20 L399.01,211.40 L398.45,211.61 L397.88,211.81 L397.31,212.02 L396.75,212.23 L396.18,212.45 L395.62,212.66 L395.05,212.89 L394.48,213.11 L393.92,213.34 L393.35,213.58 L392.78,213.82 L392.22,214.06 L391.65,214.32 L391.08,214.58 L390.52,214.84 L389.95,215.13 L389.38,215.41 L388.82,215.71 L388.25,216.02 L387.69,216.34 L387.12,216.68 L386.55,217.03 L385.99,217.39 L385.42,217.76 L384.85,218.15 L384.29,218.54 L383.72,218.95 L383.15,219.37 L382.59,219.82 L382.02,220.28 L381.46,220.76 L380.89,221.25 L380.32,221.77 L379.76,222.31 L379.19,222.87 L378.62,223.46 L378.06,224.06 L377.49,224.70 L376.92,225.37 L376.36,226.06 L375.79,226.77 L375.22,227.54 L374.66,228.34 L374.09,229.19 L373.53,230.09 L372.96,231.07 L372.39,232.11 L371.83,233.24 L371.26,234.45 L370.69,235.75 L370.13,237.16 L369.56,238.67 L368.99,240.30 L368.43,242.07 L367.86,244.11 L367.30,246.55 L366.73,249.38 L366.16,252.58 L365.60,256.02 L365.03,259.38 L364.46,262.47 L363.90,265.63 L363.33,268.95 L362.76,272.39 L362.20,275.87 L361.63,279.44 L361.06,283.08 L360.50,286.75 L359.93,290.43 L359.63,319.90 L359.13,305.47 L357.61,305.26 L356.10,307.53 L354.58,315.16 L353.06,314.67 L351.55,306.54 L350.03,306.39 L348.51,322.18 L346.99,305.84 L345.48,313.35 L343.96,306.97 L342.44,309.44 L340.92,309.43 L339.41,314.17 L337.89,321.03 L336.37,306.10 L334.85,316.04 L333.34,308.08 L331.82,303.57 L330.30,315.96 L328.79,314.52 L327.27,305.40 L325.75,313.12 L324.23,306.48 L322.72,304.61 L321.20,321.81 L319.68,304.85 L318.16,306.95 L316.65,312.42 L315.13,307.58 L313.61,309.03 L312.09,315.78 L310.58,321.28 L309.06,315.94 L307.54,309.35 L306.03,311.57 L304.51,314.41 L302.99,320.77 L301.47,303.84 L299.96,310.85 L298.44,304.18 L296.92,318.07 L295.40,311.67 L293.89,304.32 L292.37,319.31 L290.85,307.28 L289.33,310.70 L287.82,306.72 L286.30,318.10" fill="none" stroke="#c01a1e" stroke-width="1.25" stroke-linejoin="round"/>
<path d="M300.46,317.05 L301.96,305.42 L303.46,311.40 L304.96,307.97 L306.46,311.09 L307.96,305.96 L309.46,310.90 L310.96,304.96 L312.46,307.00 L313.96,314.45 L315.46,308.91 L316.96,314.58 L318.46,308.24 L319.96,316.13 L321.46,301.19 L322.96,316.16 L324.46,307.51 L325.96,305.71 L327.47,315.91 L328.97,312.14 L330.47,314.59 L331.97,300.48 L331.97,314.00 L331.97,282.61 L332.53,280.26 L333.10,277.90 L333.67,275.56 L334.23,273.26 L334.80,270.99 L335.36,268.78 L335.93,266.57 L336.50,264.32 L337.06,262.05 L337.63,259.82 L338.20,257.63 L338.76,255.52 L339.33,253.51 L339.90,251.60 L340.46,249.80 L341.03,248.10 L341.59,246.46 L342.16,244.85 L342.73,243.29 L343.29,241.77 L343.86,240.29 L344.43,238.85 L344.99,237.47 L345.56,236.13 L346.13,234.85 L346.69,233.62 L347.26,232.45 L347.83,231.34 L348.39,230.29 L348.96,229.27 L349.52,228.29 L350.09,227.34 L350.66,226.45 L351.22,225.61 L351.79,224.81 L352.36,224.06 L352.92,223.36 L353.49,222.69 L354.06,222.08 L354.62,221.50 L355.19,220.95 L355.75,220.43 L356.32,219.94 L356.89,219.47 L357.45,219.02 L358.02,218.60 L358.59,218.18 L359.15,217.80 L359.72,217.42 L360.29,217.07 L360.85,216.73 L361.42,216.40 L361.99,216.08 L362.55,215.78 L363.12,215.48 L363.68,215.20 L364.25,214.92 L364.82,214.65 L365.38,214.39 L365.95,214.13 L366.52,213.88 L367.08,213.64 L367.65,213.40 L368.22,213.17 L368.78,212.94 L369.35,212.71 L369.91,212.49 L370.48,212.27 L371.05,212.06 L371.61,211.85 L372.18,211.64 L372.75,211.44 L373.31,211.24 L373.88,211.05 L374.45,210.86 L375.01,210.67 L375.58,210.48 L376.15,210.30 L376.71,210.12 L377.28,209.95 L377.84,209.78 L378.41,209.61 L378.98,209.45 L379.54,209.29 L380.11,209.12 L380.68,208.97 L381.24,208.81 L381.81,208.66 L382.38,208.51 L382.94,208.37 L383.51,208.22 L384.07,208.08 L384.64,207.94 L385.21,207.80 L385.77,207.67 L386.34,207.54 L386.91,207.40 L387.47,207.28 L388.04,207.15 L388.61,207.03 L389.17,206.90 L389.74,206.79 L390.31,206.67 L390.87,206.55 L391.44,206.44 L392.00,206.33 L392.57,206.22 L393.14,206.11 L393.70,206.01 L394.27,205.90 L394.84,205.80 L395.40,205.70 L395.97,205.61 L396.54,205.51 L397.10,205.42 L397.67,205.33 L398.23,205.24 L398.80,205.15 L399.37,205.06 L399.93,204.98 L400.50,204.90 L401.07,204.81 L401.63,204.73 L402.20,204.65 L402.77,204.58 L403.33,204.50 L403.90,204.42 L404.47,204.35 L405.03,204.27 L405.60,204.20 L406.16,204.13 L406.73,204.06 L407.30,203.99 L407.86,203.92 L408.43,203.86 L409.00,203.79 L409.56,203.72 L410.13,203.66 L410.70,203.60 L411.26,203.53 L411.83,203.47 L412.39,203.41 L412.96,203.34 L413.53,203.28 L413.74,203.26" fill="none" stroke="#ef6b6b" stroke-width="1.1" stroke-linejoin="round"/>
<path d="M413.74,204.33 L413.17,204.48 L412.61,204.63 L412.04,204.78 L411.47,204.94 L410.91,205.09 L410.34,205.25 L409.78,205.41 L409.21,205.57 L408.64,205.74 L408.08,205.90 L407.51,206.07 L406.94,206.24 L406.38,206.42 L405.81,206.59 L405.24,206.77 L404.68,206.95 L404.11,207.13 L403.54,207.31 L402.98,207.49 L402.41,207.68 L401.85,207.87 L401.28,208.06 L400.71,208.26 L400.15,208.45 L399.58,208.65 L399.01,208.84 L398.45,209.04 L397.88,209.23 L397.31,209.42 L396.75,209.61 L396.18,209.81 L395.62,210.00 L395.05,210.19 L394.48,210.39 L393.92,210.58 L393.35,210.78 L392.78,210.98 L392.22,211.18 L391.65,211.38 L391.08,211.58 L390.52,211.79 L389.95,211.99 L389.38,212.21 L388.82,212.42 L388.25,212.64 L387.69,212.86 L387.12,213.09 L386.55,213.31 L385.99,213.55 L385.42,213.79 L384.85,214.03 L384.29,214.29 L383.72,214.54 L383.15,214.81 L382.59,215.09 L382.02,215.37 L381.46,215.67 L380.89,215.98 L380.32,216.30 L379.76,216.64 L379.19,216.98 L378.62,217.35 L378.06,217.71 L377.49,218.10 L376.92,218.49 L376.36,218.90 L375.79,219.32 L375.22,219.77 L374.66,220.22 L374.09,220.70 L373.53,221.19 L372.96,221.71 L372.39,222.24 L371.83,222.80 L371.26,223.38 L370.69,223.99 L370.13,224.62 L369.56,225.28 L368.99,225.97 L368.43,226.68 L367.86,227.44 L367.30,228.23 L366.73,229.07 L366.16,229.98 L365.60,230.95 L365.03,231.98 L364.46,233.09 L363.90,234.29 L363.33,235.58 L362.76,236.98 L362.20,238.48 L361.63,240.09 L361.06,241.84 L360.50,243.84 L359.93,246.22 L359.37,249.01 L358.80,252.17 L358.23,255.58 L357.67,258.97 L357.10,262.08 L356.53,265.23 L355.97,268.53 L355.40,271.96 L354.83,275.43 L354.27,278.99 L353.70,282.62 L353.14,286.29 L352.57,289.97 L352.50,290.43 L352.20,316.00 L351.70,308.90 L350.19,320.13 L348.68,303.62 L347.18,312.80 L345.67,299.55 L344.16,312.68 L342.66,311.14 L341.15,310.65 L339.64,307.67 L338.14,307.13 L336.63,314.70 L335.12,312.68 L333.61,314.04 L332.11,304.90 L330.60,315.11 L329.09,304.30 L327.59,303.20 L326.08,312.82 L324.57,306.35 L323.07,320.60 L321.56,307.07 L320.05,315.49 L318.54,302.66 L317.04,312.11 L315.53,302.66 L314.02,309.20 L312.52,312.27 L311.01,306.50 L309.50,310.93 L308.00,299.87 L306.49,315.29 L304.98,312.31 L303.47,312.81 L301.97,302.81 L300.46,315.45" fill="none" stroke="#ef6b6b" stroke-width="1.1" stroke-linejoin="round"/>
<path d="M314.62,303.11 L316.12,316.51 L317.63,302.92 L319.13,313.43 L320.64,304.76 L322.14,315.98 L323.65,311.75 L325.15,308.78 L326.66,311.18 L328.16,308.19 L329.67,310.99 L331.17,308.62 L332.67,311.69 L334.18,306.57 L335.68,313.91 L337.19,309.10 L338.69,310.83 L338.69,314.00 L338.69,282.61 L339.26,280.26 L339.82,277.90 L340.39,275.56 L340.96,273.26 L341.52,270.99 L342.09,268.78 L342.66,266.57 L343.22,264.32 L343.79,262.05 L344.36,259.82 L344.92,257.63 L345.49,255.52 L346.06,253.51 L346.62,251.60 L347.19,249.80 L347.75,248.10 L348.32,246.46 L348.89,244.85 L349.45,243.29 L350.02,241.77 L350.59,240.29 L351.15,238.85 L351.72,237.47 L352.29,236.13 L352.85,234.85 L353.42,233.62 L353.98,232.45 L354.55,231.34 L355.12,230.29 L355.68,229.27 L356.25,228.29 L356.82,227.34 L357.38,226.45 L357.95,225.61 L358.52,224.81 L359.08,224.06 L359.65,223.36 L360.22,222.69 L360.78,222.08 L361.35,221.50 L361.91,220.95 L362.48,220.43 L363.05,219.94 L363.61,219.47 L364.18,219.02 L364.75,218.60 L365.31,218.18 L365.88,217.80 L366.45,217.42 L367.01,217.07 L367.58,216.73 L368.14,216.40 L368.71,216.08 L369.28,215.78 L369.84,215.48 L370.41,215.20 L370.98,214.92 L371.54,214.65 L372.11,214.39 L372.68,214.13 L373.24,213.88 L373.81,213.64 L374.38,213.40 L374.94,213.17 L375.51,212.94 L376.07,212.71 L376.64,212.49 L377.21,212.27 L377.77,212.06 L378.34,211.85 L378.91,211.64 L379.47,211.44 L380.04,211.24 L380.61,211.05 L381.17,210.86 L381.74,210.67 L382.30,210.48 L382.87,210.30 L383.44,210.12 L384.00,209.95 L384.57,209.78 L385.14,209.61 L385.70,209.45 L386.27,209.29 L386.84,209.12 L387.40,208.97 L387.97,208.81 L388.54,208.66 L389.10,208.51 L389.67,208.37 L390.23,208.22 L390.80,208.08 L391.37,207.94 L391.93,207.80 L392.50,207.67 L393.07,207.54 L393.63,207.40 L394.20,207.28 L394.77,207.15 L395.33,207.03 L395.90,206.90 L396.46,206.79 L397.03,206.67 L397.60,206.55 L398.16,206.44 L398.73,206.33 L399.30,206.22 L399.58,206.16" fill="none" stroke="#9cc4f4" stroke-width="1.1" stroke-linejoin="round"/>
<path d="M399.58,206.11 L399.01,206.29 L398.45,206.46 L397.88,206.63 L397.31,206.81 L396.75,206.99 L396.18,207.17 L395.62,207.36 L395.05,207.54 L394.48,207.73 L393.92,207.92 L393.35,208.11 L392.78,208.30 L392.22,208.50 L391.65,208.69 L391.08,208.89 L390.52,209.08 L389.95,209.28 L389.38,209.47 L388.82,209.66 L388.25,209.86 L387.69,210.05 L387.12,210.24 L386.55,210.44 L385.99,210.63 L385.42,210.83 L384.85,211.03 L384.29,211.23 L383.72,211.43 L383.15,211.63 L382.59,211.84 L382.02,212.05 L381.46,212.26 L380.89,212.48 L380.32,212.69 L379.76,212.92 L379.19,213.14 L378.62,213.37 L378.06,213.61 L377.49,213.85 L376.92,214.09 L376.36,214.35 L375.79,214.61 L375.22,214.88 L374.66,215.16 L374.09,215.44 L373.53,215.75 L372.96,216.06 L372.39,216.39 L371.83,216.73 L371.26,217.07 L370.69,217.44 L370.13,217.80 L369.56,218.20 L368.99,218.59 L368.43,219.01 L367.86,219.43 L367.30,219.88 L366.73,220.34 L366.16,220.82 L365.60,221.32 L365.03,221.84 L364.46,222.38 L363.90,222.94 L363.33,223.53 L362.76,224.14 L362.20,224.78 L361.63,225.45 L361.06,226.15 L360.50,226.86 L359.93,227.63 L359.37,228.44 L358.80,229.30 L358.23,230.21 L357.67,231.19 L357.10,232.25 L356.53,233.38 L355.97,234.60 L355.40,235.92 L354.83,237.33 L354.27,238.87 L353.70,240.51 L353.14,242.31 L352.57,244.38 L352.00,246.89 L351.44,249.77 L350.87,253.01 L350.30,256.44 L349.74,259.77 L349.17,262.85 L348.60,266.04 L348.04,269.38 L347.47,272.83 L346.90,276.31 L346.34,279.89 L345.77,283.54 L345.21,287.21 L344.71,290.43 L344.41,316.00 L343.91,312.04 L342.37,304.41 L340.83,321.01 L339.29,306.02 L337.74,315.68 L336.20,308.21 L334.66,316.88 L333.12,305.81 L331.58,305.09 L330.04,321.40 L328.49,308.90 L326.95,313.83 L325.41,313.07 L323.87,316.25 L322.33,304.43 L320.79,305.59 L319.24,314.03 L317.70,305.55 L316.16,319.56 L314.62,305.26" fill="none" stroke="#9cc4f4" stroke-width="1.1" stroke-linejoin="round"/>
<path d="M325.24,304.66 L326.89,310.95 L328.54,306.93 L330.20,316.78 L331.85,303.17 L333.50,316.29 L335.15,304.96 L336.80,317.22 L338.46,305.27 L340.11,315.36 L340.11,314.00 L340.11,282.61 L340.67,280.26 L341.24,277.90 L341.81,275.56 L342.37,273.26 L342.94,270.99 L343.51,268.78 L344.07,266.57 L344.64,264.32 L345.21,262.05 L345.77,259.82 L346.34,257.63 L346.90,255.52 L347.47,253.51 L348.04,251.60 L348.60,249.80 L349.17,248.10 L349.74,246.46 L350.30,244.85 L350.87,243.29 L351.44,241.77 L352.00,240.29 L352.57,238.85 L353.14,237.47 L353.70,236.13 L354.27,234.85 L354.83,233.62 L355.40,232.45 L355.97,231.34 L356.53,230.29 L357.10,229.27 L357.67,228.29 L358.23,227.34 L358.80,226.45 L359.37,225.61 L359.93,224.81 L360.50,224.06 L361.06,223.36 L361.63,222.69 L362.20,222.08 L362.76,221.50 L363.33,220.95 L363.90,220.43 L364.46,219.94 L365.03,219.47 L365.60,219.02 L366.16,218.60 L366.73,218.18 L367.30,217.80 L367.86,217.42 L368.43,217.07 L368.99,216.73 L369.56,216.40 L370.13,216.08 L370.69,215.78 L371.26,215.48 L371.83,215.20 L372.39,214.92 L372.96,214.65 L373.53,214.39 L374.09,214.13 L374.66,213.88 L375.22,213.64 L375.79,213.40 L376.36,213.17 L376.92,212.94 L377.49,212.71 L378.06,212.49 L378.62,212.27 L379.19,212.06 L379.76,211.85 L380.32,211.64 L380.89,211.44 L381.46,211.24 L382.02,211.05 L382.59,210.86 L383.15,210.67 L383.72,210.48 L384.29,210.30 L384.85,210.12 L385.42,209.95" fill="none" stroke="#6aa4ea" stroke-width="1.1" stroke-linejoin="round"/>
<path d="M385.42,210.34 L384.85,210.54 L384.29,210.73 L383.72,210.93 L383.15,211.13 L382.59,211.33 L382.02,211.53 L381.46,211.74 L380.89,211.94 L380.32,212.15 L379.76,212.37 L379.19,212.58 L378.62,212.80 L378.06,213.03 L377.49,213.25 L376.92,213.49 L376.36,213.73 L375.79,213.97 L375.22,214.22 L374.66,214.48 L374.09,214.74 L373.53,215.02 L372.96,215.30 L372.39,215.59 L371.83,215.91 L371.26,216.22 L370.69,216.56 L370.13,216.90 L369.56,217.25 L368.99,217.62 L368.43,218.00 L367.86,218.39 L367.30,218.80 L366.73,219.22 L366.16,219.65 L365.60,220.10 L365.03,220.58 L364.46,221.06 L363.90,221.58 L363.33,222.10 L362.76,222.66 L362.20,223.23 L361.63,223.83 L361.06,224.46 L360.50,225.11 L359.93,225.79 L359.37,226.50 L358.80,227.25 L358.23,228.03 L357.67,228.86 L357.10,229.75 L356.53,230.70 L355.97,231.72 L355.40,232.81 L354.83,233.98 L354.27,235.25 L353.70,236.62 L353.14,238.09 L352.57,239.68 L352.00,241.37 L351.44,243.31 L350.87,245.59 L350.30,248.28 L349.74,251.35 L349.17,254.72 L348.60,258.14 L348.04,261.31 L347.47,264.43 L346.90,267.69 L346.34,271.10 L345.77,274.56 L345.21,278.09 L344.64,281.71 L344.07,285.37 L343.51,289.05 L343.29,290.43 L342.99,316.00 L342.49,305.20 L340.93,310.71 L339.36,307.44 L337.79,307.36 L336.22,317.13 L334.65,302.14 L333.08,322.25 L331.51,304.59 L329.95,312.45 L328.38,308.83 L326.81,315.45 L325.24,306.53" fill="none" stroke="#6aa4ea" stroke-width="1.1" stroke-linejoin="round"/>
<path d="M332.32,307.11 L333.85,314.02 L335.39,300.33 L336.92,312.91 L338.46,305.31 L339.99,313.59 L341.52,306.68 L341.52,314.00 L341.52,282.61 L342.09,280.26 L342.66,277.90 L343.22,275.56 L343.79,273.26 L344.36,270.99 L344.92,268.78 L345.49,266.57 L346.06,264.32 L346.62,262.05 L347.19,259.82 L347.75,257.63 L348.32,255.52 L348.89,253.51 L349.45,251.60 L350.02,249.80 L350.59,248.10 L351.15,246.46 L351.72,244.85 L352.29,243.29 L352.85,241.77 L353.42,240.29 L353.98,238.85 L354.55,237.47 L355.12,236.13 L355.68,234.85 L356.25,233.62 L356.82,232.45 L357.38,231.34 L357.95,230.29 L358.52,229.27 L359.08,228.29 L359.65,227.34 L360.22,226.45 L360.78,225.61 L361.35,224.81 L361.91,224.06 L362.48,223.36 L363.05,222.69 L363.61,222.08 L364.18,221.50 L364.75,220.95 L365.31,220.43 L365.88,219.94 L366.45,219.47 L367.01,219.02 L367.58,218.60 L368.14,218.18 L368.71,217.80 L369.28,217.42 L369.84,217.07 L370.41,216.73 L370.98,216.40 L371.26,216.24" fill="none" stroke="#1f54a8" stroke-width="1.5" stroke-linejoin="round"/>
<path d="M371.26,215.44 L370.69,215.75 L370.13,216.06 L369.56,216.39 L368.99,216.73 L368.43,217.07 L367.86,217.44 L367.30,217.80 L366.73,218.20 L366.16,218.59 L365.60,219.01 L365.03,219.43 L364.46,219.88 L363.90,220.34 L363.33,220.82 L362.76,221.32 L362.20,221.84 L361.63,222.38 L361.06,222.94 L360.50,223.53 L359.93,224.14 L359.37,224.78 L358.80,225.45 L358.23,226.15 L357.67,226.86 L357.10,227.63 L356.53,228.44 L355.97,229.30 L355.40,230.21 L354.83,231.19 L354.27,232.25 L353.70,233.38 L353.14,234.60 L352.57,235.92 L352.00,237.33 L351.44,238.87 L350.87,240.51 L350.30,242.31 L349.74,244.38 L349.17,246.89 L348.60,249.77 L348.04,253.01 L347.47,256.44 L346.90,259.77 L346.34,262.85 L345.77,266.04 L345.21,269.38 L344.64,272.83 L344.07,276.31 L343.51,279.89 L342.94,283.54 L342.37,287.21 L341.88,290.43 L341.58,316.00 L341.08,304.10 L339.33,303.37 L337.57,312.77 L335.82,305.72 L334.07,305.59 L332.32,315.54" fill="none" stroke="#1f54a8" stroke-width="1.5" stroke-linejoin="round"/>
<line x1="316.1" y1="257.6" x2="319.2" y2="246.5" stroke="#2f62b0" stroke-width="0.8"/>
<polygon points="319.60,245.06 319.68,249.23 317.37,248.59" fill="#2f62b0"/>
<line x1="382.9" y1="245.5" x2="379.7" y2="256.6" stroke="#2f62b0" stroke-width="0.8"/>
<polygon points="379.28,258.04 379.24,253.87 381.55,254.53" fill="#2f62b0"/>
<line x1="505.9" y1="185.4" x2="683.3" y2="185.4" stroke="#8a8a8a" stroke-width="0.9"/>
<line x1="683.3" y1="185.4" x2="683.3" y2="327.2" stroke="#a0a0a0" stroke-width="1"/>
<line x1="505.9" y1="185.4" x2="505.9" y2="327.2" stroke="#bdbdbd" stroke-width="1.2"/>
<line x1="505.9" y1="327.2" x2="683.3" y2="327.2" stroke="#666" stroke-width="0.9"/>
<line x1="505.9" y1="255.9" x2="683.3" y2="255.9" stroke="#333" stroke-width="0.9"/>
<line x1="503.9" y1="249.60" x2="505.9" y2="249.60" stroke="#444" stroke-width="0.7"/>
<text x="504.20" y="252.20" font-size="7.4" text-anchor="end" fill="#333" font-weight="normal" >0</text>
<line x1="504.7" y1="243.18" x2="505.9" y2="243.18" stroke="#444" stroke-width="0.7"/>
<line x1="503.9" y1="236.76" x2="505.9" y2="236.76" stroke="#444" stroke-width="0.7"/>
<text x="504.20" y="239.36" font-size="7.4" text-anchor="end" fill="#333" font-weight="normal" >1</text>
<line x1="504.7" y1="230.34" x2="505.9" y2="230.34" stroke="#444" stroke-width="0.7"/>
<line x1="503.9" y1="223.92" x2="505.9" y2="223.92" stroke="#444" stroke-width="0.7"/>
<text x="504.20" y="226.52" font-size="7.4" text-anchor="end" fill="#333" font-weight="normal" >2</text>
<line x1="504.7" y1="217.50" x2="505.9" y2="217.50" stroke="#444" stroke-width="0.7"/>
<line x1="503.9" y1="211.08" x2="505.9" y2="211.08" stroke="#444" stroke-width="0.7"/>
<text x="504.20" y="213.68" font-size="7.4" text-anchor="end" fill="#333" font-weight="normal" >3</text>
<line x1="504.7" y1="204.66" x2="505.9" y2="204.66" stroke="#444" stroke-width="0.7"/>
<line x1="503.9" y1="198.24" x2="505.9" y2="198.24" stroke="#444" stroke-width="0.7"/>
<text x="504.20" y="200.84" font-size="7.4" text-anchor="end" fill="#333" font-weight="normal" >4</text>
<line x1="504.7" y1="191.82" x2="505.9" y2="191.82" stroke="#444" stroke-width="0.7"/>
<line x1="503.9" y1="185.40" x2="505.9" y2="185.40" stroke="#444" stroke-width="0.7"/>
<text x="504.20" y="188.00" font-size="7.4" text-anchor="end" fill="#333" font-weight="normal" >5</text>
<line x1="503.9" y1="327.20" x2="505.9" y2="327.20" stroke="#444" stroke-width="0.7"/>
<line x1="504.79999999999995" y1="324.82" x2="505.9" y2="324.82" stroke="#666" stroke-width="0.45"/>
<line x1="504.79999999999995" y1="323.42" x2="505.9" y2="323.42" stroke="#666" stroke-width="0.45"/>
<line x1="504.79999999999995" y1="322.43" x2="505.9" y2="322.43" stroke="#666" stroke-width="0.45"/>
<line x1="504.79999999999995" y1="321.66" x2="505.9" y2="321.66" stroke="#666" stroke-width="0.45"/>
<line x1="504.79999999999995" y1="321.04" x2="505.9" y2="321.04" stroke="#666" stroke-width="0.45"/>
<line x1="504.79999999999995" y1="320.50" x2="505.9" y2="320.50" stroke="#666" stroke-width="0.45"/>
<line x1="504.79999999999995" y1="320.05" x2="505.9" y2="320.05" stroke="#666" stroke-width="0.45"/>
<line x1="504.79999999999995" y1="319.64" x2="505.9" y2="319.64" stroke="#666" stroke-width="0.45"/>
<text x="500.2" y="329.80" font-size="7" text-anchor="end" fill="#333">10</text>
<text x="500.4" y="327.00" font-size="4.9" fill="#333">-1</text>
<line x1="503.9" y1="319.28" x2="505.9" y2="319.28" stroke="#444" stroke-width="0.7"/>
<line x1="504.79999999999995" y1="316.89" x2="505.9" y2="316.89" stroke="#666" stroke-width="0.45"/>
<line x1="504.79999999999995" y1="315.50" x2="505.9" y2="315.50" stroke="#666" stroke-width="0.45"/>
<line x1="504.79999999999995" y1="314.51" x2="505.9" y2="314.51" stroke="#666" stroke-width="0.45"/>
<line x1="504.79999999999995" y1="313.74" x2="505.9" y2="313.74" stroke="#666" stroke-width="0.45"/>
<line x1="504.79999999999995" y1="313.11" x2="505.9" y2="313.11" stroke="#666" stroke-width="0.45"/>
<line x1="504.79999999999995" y1="312.58" x2="505.9" y2="312.58" stroke="#666" stroke-width="0.45"/>
<line x1="504.79999999999995" y1="312.12" x2="505.9" y2="312.12" stroke="#666" stroke-width="0.45"/>
<line x1="504.79999999999995" y1="311.72" x2="505.9" y2="311.72" stroke="#666" stroke-width="0.45"/>
<line x1="503.9" y1="311.36" x2="505.9" y2="311.36" stroke="#444" stroke-width="0.7"/>
<line x1="504.79999999999995" y1="308.97" x2="505.9" y2="308.97" stroke="#666" stroke-width="0.45"/>
<line x1="504.79999999999995" y1="307.58" x2="505.9" y2="307.58" stroke="#666" stroke-width="0.45"/>
<line x1="504.79999999999995" y1="306.59" x2="505.9" y2="306.59" stroke="#666" stroke-width="0.45"/>
<line x1="504.79999999999995" y1="305.82" x2="505.9" y2="305.82" stroke="#666" stroke-width="0.45"/>
<line x1="504.79999999999995" y1="305.19" x2="505.9" y2="305.19" stroke="#666" stroke-width="0.45"/>
<line x1="504.79999999999995" y1="304.66" x2="505.9" y2="304.66" stroke="#666" stroke-width="0.45"/>
<line x1="504.79999999999995" y1="304.20" x2="505.9" y2="304.20" stroke="#666" stroke-width="0.45"/>
<line x1="504.79999999999995" y1="303.80" x2="505.9" y2="303.80" stroke="#666" stroke-width="0.45"/>
<text x="500.2" y="313.96" font-size="7" text-anchor="end" fill="#333">10</text>
<text x="500.4" y="311.16" font-size="4.9" fill="#333">1</text>
<line x1="503.9" y1="303.43" x2="505.9" y2="303.43" stroke="#444" stroke-width="0.7"/>
<line x1="504.79999999999995" y1="301.05" x2="505.9" y2="301.05" stroke="#666" stroke-width="0.45"/>
<line x1="504.79999999999995" y1="299.65" x2="505.9" y2="299.65" stroke="#666" stroke-width="0.45"/>
<line x1="504.79999999999995" y1="298.66" x2="505.9" y2="298.66" stroke="#666" stroke-width="0.45"/>
<line x1="504.79999999999995" y1="297.90" x2="505.9" y2="297.90" stroke="#666" stroke-width="0.45"/>
<line x1="504.79999999999995" y1="297.27" x2="505.9" y2="297.27" stroke="#666" stroke-width="0.45"/>
<line x1="504.79999999999995" y1="296.74" x2="505.9" y2="296.74" stroke="#666" stroke-width="0.45"/>
<line x1="504.79999999999995" y1="296.28" x2="505.9" y2="296.28" stroke="#666" stroke-width="0.45"/>
<line x1="504.79999999999995" y1="295.87" x2="505.9" y2="295.87" stroke="#666" stroke-width="0.45"/>
<line x1="503.9" y1="295.51" x2="505.9" y2="295.51" stroke="#444" stroke-width="0.7"/>
<line x1="504.79999999999995" y1="293.13" x2="505.9" y2="293.13" stroke="#666" stroke-width="0.45"/>
<line x1="504.79999999999995" y1="291.73" x2="505.9" y2="291.73" stroke="#666" stroke-width="0.45"/>
<line x1="504.79999999999995" y1="290.74" x2="505.9" y2="290.74" stroke="#666" stroke-width="0.45"/>
<line x1="504.79999999999995" y1="289.97" x2="505.9" y2="289.97" stroke="#666" stroke-width="0.45"/>
<line x1="504.79999999999995" y1="289.35" x2="505.9" y2="289.35" stroke="#666" stroke-width="0.45"/>
<line x1="504.79999999999995" y1="288.82" x2="505.9" y2="288.82" stroke="#666" stroke-width="0.45"/>
<line x1="504.79999999999995" y1="288.36" x2="505.9" y2="288.36" stroke="#666" stroke-width="0.45"/>
<line x1="504.79999999999995" y1="287.95" x2="505.9" y2="287.95" stroke="#666" stroke-width="0.45"/>
<text x="500.2" y="298.11" font-size="7" text-anchor="end" fill="#333">10</text>
<text x="500.4" y="295.31" font-size="4.9" fill="#333">3</text>
<line x1="503.9" y1="287.59" x2="505.9" y2="287.59" stroke="#444" stroke-width="0.7"/>
<line x1="504.79999999999995" y1="285.20" x2="505.9" y2="285.20" stroke="#666" stroke-width="0.45"/>
<line x1="504.79999999999995" y1="283.81" x2="505.9" y2="283.81" stroke="#666" stroke-width="0.45"/>
<line x1="504.79999999999995" y1="282.82" x2="505.9" y2="282.82" stroke="#666" stroke-width="0.45"/>
<line x1="504.79999999999995" y1="282.05" x2="505.9" y2="282.05" stroke="#666" stroke-width="0.45"/>
<line x1="504.79999999999995" y1="281.42" x2="505.9" y2="281.42" stroke="#666" stroke-width="0.45"/>
<line x1="504.79999999999995" y1="280.89" x2="505.9" y2="280.89" stroke="#666" stroke-width="0.45"/>
<line x1="504.79999999999995" y1="280.43" x2="505.9" y2="280.43" stroke="#666" stroke-width="0.45"/>
<line x1="504.79999999999995" y1="280.03" x2="505.9" y2="280.03" stroke="#666" stroke-width="0.45"/>
<line x1="503.9" y1="279.67" x2="505.9" y2="279.67" stroke="#444" stroke-width="0.7"/>
<line x1="504.79999999999995" y1="277.28" x2="505.9" y2="277.28" stroke="#666" stroke-width="0.45"/>
<line x1="504.79999999999995" y1="275.89" x2="505.9" y2="275.89" stroke="#666" stroke-width="0.45"/>
<line x1="504.79999999999995" y1="274.90" x2="505.9" y2="274.90" stroke="#666" stroke-width="0.45"/>
<line x1="504.79999999999995" y1="274.13" x2="505.9" y2="274.13" stroke="#666" stroke-width="0.45"/>
<line x1="504.79999999999995" y1="273.50" x2="505.9" y2="273.50" stroke="#666" stroke-width="0.45"/>
<line x1="504.79999999999995" y1="272.97" x2="505.9" y2="272.97" stroke="#666" stroke-width="0.45"/>
<line x1="504.79999999999995" y1="272.51" x2="505.9" y2="272.51" stroke="#666" stroke-width="0.45"/>
<line x1="504.79999999999995" y1="272.11" x2="505.9" y2="272.11" stroke="#666" stroke-width="0.45"/>
<text x="500.2" y="282.27" font-size="7" text-anchor="end" fill="#333">10</text>
<text x="500.4" y="279.47" font-size="4.9" fill="#333">5</text>
<line x1="503.9" y1="271.74" x2="505.9" y2="271.74" stroke="#444" stroke-width="0.7"/>
<line x1="504.79999999999995" y1="269.36" x2="505.9" y2="269.36" stroke="#666" stroke-width="0.45"/>
<line x1="504.79999999999995" y1="267.96" x2="505.9" y2="267.96" stroke="#666" stroke-width="0.45"/>
<line x1="504.79999999999995" y1="266.97" x2="505.9" y2="266.97" stroke="#666" stroke-width="0.45"/>
<line x1="504.79999999999995" y1="266.21" x2="505.9" y2="266.21" stroke="#666" stroke-width="0.45"/>
<line x1="504.79999999999995" y1="265.58" x2="505.9" y2="265.58" stroke="#666" stroke-width="0.45"/>
<line x1="504.79999999999995" y1="265.05" x2="505.9" y2="265.05" stroke="#666" stroke-width="0.45"/>
<line x1="504.79999999999995" y1="264.59" x2="505.9" y2="264.59" stroke="#666" stroke-width="0.45"/>
<line x1="504.79999999999995" y1="264.18" x2="505.9" y2="264.18" stroke="#666" stroke-width="0.45"/>
<line x1="503.9" y1="263.82" x2="505.9" y2="263.82" stroke="#444" stroke-width="0.7"/>
<line x1="504.79999999999995" y1="261.44" x2="505.9" y2="261.44" stroke="#666" stroke-width="0.45"/>
<line x1="504.79999999999995" y1="260.04" x2="505.9" y2="260.04" stroke="#666" stroke-width="0.45"/>
<line x1="504.79999999999995" y1="259.05" x2="505.9" y2="259.05" stroke="#666" stroke-width="0.45"/>
<line x1="504.79999999999995" y1="258.28" x2="505.9" y2="258.28" stroke="#666" stroke-width="0.45"/>
<line x1="504.79999999999995" y1="257.66" x2="505.9" y2="257.66" stroke="#666" stroke-width="0.45"/>
<line x1="504.79999999999995" y1="257.13" x2="505.9" y2="257.13" stroke="#666" stroke-width="0.45"/>
<line x1="504.79999999999995" y1="256.67" x2="505.9" y2="256.67" stroke="#666" stroke-width="0.45"/>
<line x1="504.79999999999995" y1="256.26" x2="505.9" y2="256.26" stroke="#666" stroke-width="0.45"/>
<text x="500.2" y="266.42" font-size="7" text-anchor="end" fill="#333">10</text>
<text x="500.4" y="263.62" font-size="4.9" fill="#333">7</text>
<line x1="523.64" y1="327.2" x2="523.64" y2="329.2" stroke="#444" stroke-width="0.8"/>
<line x1="523.64" y1="255.9" x2="523.64" y2="257.7" stroke="#444" stroke-width="0.8"/>
<text x="523.64" y="336.60" font-size="7.4" text-anchor="middle" fill="#333" font-weight="normal" >2</text>
<line x1="541.38" y1="327.2" x2="541.38" y2="329.2" stroke="#444" stroke-width="0.8"/>
<line x1="541.38" y1="255.9" x2="541.38" y2="257.7" stroke="#444" stroke-width="0.8"/>
<line x1="559.12" y1="327.2" x2="559.12" y2="329.2" stroke="#444" stroke-width="0.8"/>
<line x1="559.12" y1="255.9" x2="559.12" y2="257.7" stroke="#444" stroke-width="0.8"/>
<text x="559.12" y="336.60" font-size="7.4" text-anchor="middle" fill="#333" font-weight="normal" >4</text>
<line x1="576.86" y1="327.2" x2="576.86" y2="329.2" stroke="#444" stroke-width="0.8"/>
<line x1="576.86" y1="255.9" x2="576.86" y2="257.7" stroke="#444" stroke-width="0.8"/>
<line x1="594.60" y1="327.2" x2="594.60" y2="329.2" stroke="#444" stroke-width="0.8"/>
<line x1="594.60" y1="255.9" x2="594.60" y2="257.7" stroke="#444" stroke-width="0.8"/>
<text x="594.60" y="336.60" font-size="7.4" text-anchor="middle" fill="#333" font-weight="normal" >6</text>
<line x1="612.34" y1="327.2" x2="612.34" y2="329.2" stroke="#444" stroke-width="0.8"/>
<line x1="612.34" y1="255.9" x2="612.34" y2="257.7" stroke="#444" stroke-width="0.8"/>
<line x1="630.08" y1="327.2" x2="630.08" y2="329.2" stroke="#444" stroke-width="0.8"/>
<line x1="630.08" y1="255.9" x2="630.08" y2="257.7" stroke="#444" stroke-width="0.8"/>
<text x="630.08" y="336.60" font-size="7.4" text-anchor="middle" fill="#333" font-weight="normal" >8</text>
<line x1="647.82" y1="327.2" x2="647.82" y2="329.2" stroke="#444" stroke-width="0.8"/>
<line x1="647.82" y1="255.9" x2="647.82" y2="257.7" stroke="#444" stroke-width="0.8"/>
<line x1="665.56" y1="327.2" x2="665.56" y2="329.2" stroke="#444" stroke-width="0.8"/>
<line x1="665.56" y1="255.9" x2="665.56" y2="257.7" stroke="#444" stroke-width="0.8"/>
<text x="665.56" y="336.60" font-size="7.4" text-anchor="middle" fill="#333" font-weight="normal" >10</text>
<text x="578.1" y="350.0" font-size="9.6" fill="#222">V<tspan font-size="6.3" dy="2.1">max</tspan><tspan dy="-2"> (V)</tspan></text>
<text transform="translate(486.6,220.6) rotate(-90)" x="0" y="0" font-size="9.7" text-anchor="middle" fill="#222">ΔV (V)</text>
<text transform="translate(477.2,292.2) rotate(-90)" x="0" y="0" font-size="9.7" text-anchor="middle" fill="#222">Conductance</text>
<text transform="translate(488.6,291.0) rotate(-90)" x="0" y="0" font-size="9.7" text-anchor="middle" fill="#222">ratio</text>
<text x="540.00" y="202.30" font-size="6.8" text-anchor="start" fill="#222" font-weight="normal" >@G=1 nS</text>
<text x="540" y="274.3" font-size="6.8" fill="#222">@V<tspan font-size="4.4" dy="1.5">GS</tspan><tspan dy="-1.5">=0 V</tspan></text>
<circle cx="523.94" cy="249.21" r="2.45" fill="url(#redBall)"/>
<circle cx="523.94" cy="318.49" r="2.45" fill="url(#blueBall)"/>
<circle cx="541.68" cy="249.86" r="2.45" fill="url(#redBall)"/>
<circle cx="541.68" cy="318.09" r="2.45" fill="url(#blueBall)"/>
<circle cx="559.42" cy="249.86" r="2.45" fill="url(#redBall)"/>
<circle cx="559.42" cy="317.14" r="2.45" fill="url(#blueBall)"/>
<circle cx="577.16" cy="248.32" r="2.45" fill="url(#redBall)"/>
<circle cx="577.16" cy="315.32" r="2.45" fill="url(#blueBall)"/>
<circle cx="594.90" cy="242.02" r="2.45" fill="url(#redBall)"/>
<circle cx="594.90" cy="311.99" r="2.45" fill="url(#blueBall)"/>
<circle cx="612.64" cy="231.62" r="2.45" fill="url(#redBall)"/>
<circle cx="612.64" cy="308.66" r="2.45" fill="url(#blueBall)"/>
<circle cx="630.38" cy="212.62" r="2.45" fill="url(#redBall)"/>
<circle cx="630.38" cy="299.79" r="2.45" fill="url(#blueBall)"/>
<circle cx="648.12" cy="203.25" r="2.45" fill="url(#redBall)"/>
<circle cx="648.12" cy="277.84" r="2.45" fill="url(#blueBall)"/>
<circle cx="665.86" cy="190.54" r="2.45" fill="url(#redBall)"/>
<circle cx="665.86" cy="265.72" r="2.45" fill="url(#blueBall)"/>
<rect x="28.00" y="378.00" width="28.90" height="28.82" fill="#2f7bbf" shape-rendering="crispEdges"/>
<rect x="56.60" y="378.00" width="28.90" height="28.82" fill="#cb181d" shape-rendering="crispEdges"/>
<rect x="85.20" y="378.00" width="28.90" height="28.82" fill="#d82522" shape-rendering="crispEdges"/>
<rect x="113.80" y="378.00" width="28.90" height="28.82" fill="#bb141a" shape-rendering="crispEdges"/>
<rect x="142.40" y="378.00" width="28.90" height="28.82" fill="#f5533d" shape-rendering="crispEdges"/>
<rect x="28.00" y="406.52" width="28.90" height="28.82" fill="#a50f15" shape-rendering="crispEdges"/>
<rect x="56.60" y="406.52" width="28.90" height="28.82" fill="#135fa8" shape-rendering="crispEdges"/>
<rect x="85.20" y="406.52" width="28.90" height="28.82" fill="#7ab4dc" shape-rendering="crispEdges"/>
<rect x="113.80" y="406.52" width="28.90" height="28.82" fill="#0a52a0" shape-rendering="crispEdges"/>
<rect x="142.40" y="406.52" width="28.90" height="28.82" fill="#4594cb" shape-rendering="crispEdges"/>
<rect x="28.00" y="435.04" width="28.90" height="28.82" fill="#3181c0" shape-rendering="crispEdges"/>
<rect x="56.60" y="435.04" width="28.90" height="28.82" fill="#cb181d" shape-rendering="crispEdges"/>
<rect x="85.20" y="435.04" width="28.90" height="28.82" fill="#d82522" shape-rendering="crispEdges"/>
<rect x="113.80" y="435.04" width="28.90" height="28.82" fill="#d01c1f" shape-rendering="crispEdges"/>
<rect x="142.40" y="435.04" width="28.90" height="28.82" fill="#529dd0" shape-rendering="crispEdges"/>
<rect x="28.00" y="463.56" width="28.90" height="28.82" fill="#135fa8" shape-rendering="crispEdges"/>
<rect x="56.60" y="463.56" width="28.90" height="28.82" fill="#135fa8" shape-rendering="crispEdges"/>
<rect x="85.20" y="463.56" width="28.90" height="28.82" fill="#0a52a0" shape-rendering="crispEdges"/>
<rect x="113.80" y="463.56" width="28.90" height="28.82" fill="#2a72b8" shape-rendering="crispEdges"/>
<rect x="142.40" y="463.56" width="28.90" height="28.82" fill="#dc2624" shape-rendering="crispEdges"/>
<rect x="28.00" y="492.08" width="28.90" height="28.82" fill="#ef3b2c" shape-rendering="crispEdges"/>
<rect x="56.60" y="492.08" width="28.90" height="28.82" fill="#dc2624" shape-rendering="crispEdges"/>
<rect x="85.20" y="492.08" width="28.90" height="28.82" fill="#c0141b" shape-rendering="crispEdges"/>
<rect x="113.80" y="492.08" width="28.90" height="28.82" fill="#f5533d" shape-rendering="crispEdges"/>
<rect x="142.40" y="492.08" width="28.90" height="28.82" fill="#6fb0d8" shape-rendering="crispEdges"/>
<rect x="28.50" y="378.5" width="142.00" height="142" fill="none" stroke="#111" stroke-width="1"/>
<rect x="179.00" y="378.00" width="28.94" height="28.82" fill="#d82522" shape-rendering="crispEdges"/>
<rect x="207.64" y="378.00" width="28.94" height="28.82" fill="#cb181d" shape-rendering="crispEdges"/>
<rect x="236.28" y="378.00" width="28.94" height="28.82" fill="#dc2624" shape-rendering="crispEdges"/>
<rect x="264.92" y="378.00" width="28.94" height="28.82" fill="#bb141a" shape-rendering="crispEdges"/>
<rect x="293.56" y="378.00" width="28.94" height="28.82" fill="#2272b8" shape-rendering="crispEdges"/>
<rect x="179.00" y="406.52" width="28.94" height="28.82" fill="#a50f15" shape-rendering="crispEdges"/>
<rect x="207.64" y="406.52" width="28.94" height="28.82" fill="#135fa8" shape-rendering="crispEdges"/>
<rect x="236.28" y="406.52" width="28.94" height="28.82" fill="#7ab4dc" shape-rendering="crispEdges"/>
<rect x="264.92" y="406.52" width="28.94" height="28.82" fill="#0a52a0" shape-rendering="crispEdges"/>
<rect x="293.56" y="406.52" width="28.94" height="28.82" fill="#4594cb" shape-rendering="crispEdges"/>
<rect x="179.00" y="435.04" width="28.94" height="28.82" fill="#e32f27" shape-rendering="crispEdges"/>
<rect x="207.64" y="435.04" width="28.94" height="28.82" fill="#cb181d" shape-rendering="crispEdges"/>
<rect x="236.28" y="435.04" width="28.94" height="28.82" fill="#dc2624" shape-rendering="crispEdges"/>
<rect x="264.92" y="435.04" width="28.94" height="28.82" fill="#529dd0" shape-rendering="crispEdges"/>
<rect x="293.56" y="435.04" width="28.94" height="28.82" fill="#529dd0" shape-rendering="crispEdges"/>
<rect x="179.00" y="463.56" width="28.94" height="28.82" fill="#f44b38" shape-rendering="crispEdges"/>
<rect x="207.64" y="463.56" width="28.94" height="28.82" fill="#135fa8" shape-rendering="crispEdges"/>
<rect x="236.28" y="463.56" width="28.94" height="28.82" fill="#0a52a0" shape-rendering="crispEdges"/>
<rect x="264.92" y="463.56" width="28.94" height="28.82" fill="#2a72b8" shape-rendering="crispEdges"/>
<rect x="293.56" y="463.56" width="28.94" height="28.82" fill="#78b4db" shape-rendering="crispEdges"/>
<rect x="179.00" y="492.08" width="28.94" height="28.82" fill="#ef3b2c" shape-rendering="crispEdges"/>
<rect x="207.64" y="492.08" width="28.94" height="28.82" fill="#529dd0" shape-rendering="crispEdges"/>
<rect x="236.28" y="492.08" width="28.94" height="28.82" fill="#6aadd6" shape-rendering="crispEdges"/>
<rect x="264.92" y="492.08" width="28.94" height="28.82" fill="#3484c3" shape-rendering="crispEdges"/>
<rect x="293.56" y="492.08" width="28.94" height="28.82" fill="#78b4db" shape-rendering="crispEdges"/>
<rect x="179.50" y="378.5" width="142.00" height="142" fill="none" stroke="#111" stroke-width="1"/>
<rect x="330.70" y="378.00" width="28.96" height="28.82" fill="#2f7bbf" shape-rendering="crispEdges"/>
<rect x="359.36" y="378.00" width="28.96" height="28.82" fill="#cb181d" shape-rendering="crispEdges"/>
<rect x="388.02" y="378.00" width="28.96" height="28.82" fill="#dc2624" shape-rendering="crispEdges"/>
<rect x="416.68" y="378.00" width="28.96" height="28.82" fill="#bcd7ec" shape-rendering="crispEdges"/>
<rect x="445.34" y="378.00" width="28.96" height="28.82" fill="#2272b8" shape-rendering="crispEdges"/>
<rect x="330.70" y="406.52" width="28.96" height="28.82" fill="#a50f15" shape-rendering="crispEdges"/>
<rect x="359.36" y="406.52" width="28.96" height="28.82" fill="#135fa8" shape-rendering="crispEdges"/>
<rect x="388.02" y="406.52" width="28.96" height="28.82" fill="#7ab4dc" shape-rendering="crispEdges"/>
<rect x="416.68" y="406.52" width="28.96" height="28.82" fill="#ef432f" shape-rendering="crispEdges"/>
<rect x="445.34" y="406.52" width="28.96" height="28.82" fill="#4594cb" shape-rendering="crispEdges"/>
<rect x="330.70" y="435.04" width="28.96" height="28.82" fill="#e32f27" shape-rendering="crispEdges"/>
<rect x="359.36" y="435.04" width="28.96" height="28.82" fill="#cb181d" shape-rendering="crispEdges"/>
<rect x="388.02" y="435.04" width="28.96" height="28.82" fill="#dc2624" shape-rendering="crispEdges"/>
<rect x="416.68" y="435.04" width="28.96" height="28.82" fill="#d01c1f" shape-rendering="crispEdges"/>
<rect x="445.34" y="435.04" width="28.96" height="28.82" fill="#529dd0" shape-rendering="crispEdges"/>
<rect x="330.70" y="463.56" width="28.96" height="28.82" fill="#f44b38" shape-rendering="crispEdges"/>
<rect x="359.36" y="463.56" width="28.96" height="28.82" fill="#135fa8" shape-rendering="crispEdges"/>
<rect x="388.02" y="463.56" width="28.96" height="28.82" fill="#0a52a0" shape-rendering="crispEdges"/>
<rect x="416.68" y="463.56" width="28.96" height="28.82" fill="#2a72b8" shape-rendering="crispEdges"/>
<rect x="445.34" y="463.56" width="28.96" height="28.82" fill="#78b4db" shape-rendering="crispEdges"/>
<rect x="330.70" y="492.08" width="28.96" height="28.82" fill="#0b4590" shape-rendering="crispEdges"/>
<rect x="359.36" y="492.08" width="28.96" height="28.82" fill="#dc2624" shape-rendering="crispEdges"/>
<rect x="388.02" y="492.08" width="28.96" height="28.82" fill="#c0141b" shape-rendering="crispEdges"/>
<rect x="416.68" y="492.08" width="28.96" height="28.82" fill="#3484c3" shape-rendering="crispEdges"/>
<rect x="445.34" y="492.08" width="28.96" height="28.82" fill="#78b4db" shape-rendering="crispEdges"/>
<rect x="331.50" y="378.5" width="142.00" height="142" fill="none" stroke="#111" stroke-width="1"/>
<rect x="482.20" y="378.00" width="30.16" height="28.82" fill="#d01c1f" shape-rendering="crispEdges"/>
<rect x="512.06" y="378.00" width="30.16" height="28.82" fill="#529dd0" shape-rendering="crispEdges"/>
<rect x="541.92" y="378.00" width="30.16" height="28.82" fill="#4292c6" shape-rendering="crispEdges"/>
<rect x="571.78" y="378.00" width="30.16" height="28.82" fill="#bcd7ec" shape-rendering="crispEdges"/>
<rect x="601.64" y="378.00" width="30.16" height="28.82" fill="#f5533d" shape-rendering="crispEdges"/>
<rect x="482.20" y="406.52" width="30.16" height="28.82" fill="#a50f15" shape-rendering="crispEdges"/>
<rect x="512.06" y="406.52" width="30.16" height="28.82" fill="#cb181d" shape-rendering="crispEdges"/>
<rect x="541.92" y="406.52" width="30.16" height="28.82" fill="#78b4db" shape-rendering="crispEdges"/>
<rect x="571.78" y="406.52" width="30.16" height="28.82" fill="#ef432f" shape-rendering="crispEdges"/>
<rect x="601.64" y="406.52" width="30.16" height="28.82" fill="#f65b44" shape-rendering="crispEdges"/>
<rect x="482.20" y="435.04" width="30.16" height="28.82" fill="#e32f27" shape-rendering="crispEdges"/>
<rect x="512.06" y="435.04" width="30.16" height="28.82" fill="#4292c6" shape-rendering="crispEdges"/>
<rect x="541.92" y="435.04" width="30.16" height="28.82" fill="#dc2624" shape-rendering="crispEdges"/>
<rect x="571.78" y="435.04" width="30.16" height="28.82" fill="#529dd0" shape-rendering="crispEdges"/>
<rect x="601.64" y="435.04" width="30.16" height="28.82" fill="#a50f15" shape-rendering="crispEdges"/>
<rect x="482.20" y="463.56" width="30.16" height="28.82" fill="#f44b38" shape-rendering="crispEdges"/>
<rect x="512.06" y="463.56" width="30.16" height="28.82" fill="#135fa8" shape-rendering="crispEdges"/>
<rect x="541.92" y="463.56" width="30.16" height="28.82" fill="#0a52a0" shape-rendering="crispEdges"/>
<rect x="571.78" y="463.56" width="30.16" height="28.82" fill="#2a72b8" shape-rendering="crispEdges"/>
<rect x="601.64" y="463.56" width="30.16" height="28.82" fill="#dc2624" shape-rendering="crispEdges"/>
<rect x="482.20" y="492.08" width="30.16" height="28.82" fill="#ef3b2c" shape-rendering="crispEdges"/>
<rect x="512.06" y="492.08" width="30.16" height="28.82" fill="#529dd0" shape-rendering="crispEdges"/>
<rect x="541.92" y="492.08" width="30.16" height="28.82" fill="#6aadd6" shape-rendering="crispEdges"/>
<rect x="571.78" y="492.08" width="30.16" height="28.82" fill="#3484c3" shape-rendering="crispEdges"/>
<rect x="601.64" y="492.08" width="30.16" height="28.82" fill="#c0141b" shape-rendering="crispEdges"/>
<rect x="482.50" y="378.5" width="149.00" height="142" fill="none" stroke="#111" stroke-width="1"/>
<rect x="641" y="398" width="18" height="103.5" fill="url(#cbar)"/>
<line x1="659" y1="411.7" x2="661.8" y2="411.7" stroke="#555" stroke-width="0.8"/>
<text x="662.8" y="415.00" font-size="7.2" fill="#333" textLength="15.2" lengthAdjust="spacingAndGlyphs">1x10</text>
<text x="678.4" y="411.20" font-size="5" fill="#333">-5</text>
<line x1="659" y1="437.0" x2="661.8" y2="437.0" stroke="#555" stroke-width="0.8"/>
<text x="662.8" y="440.30" font-size="7.2" fill="#333" textLength="15.2" lengthAdjust="spacingAndGlyphs">1x10</text>
<text x="678.4" y="436.50" font-size="5" fill="#333">-7</text>
<line x1="659" y1="462.4" x2="661.8" y2="462.4" stroke="#555" stroke-width="0.8"/>
<text x="662.8" y="465.70" font-size="7.2" fill="#333" textLength="15.2" lengthAdjust="spacingAndGlyphs">1x10</text>
<text x="678.4" y="461.90" font-size="5" fill="#333">-9</text>
<line x1="659" y1="487.9" x2="661.8" y2="487.9" stroke="#555" stroke-width="0.8"/>
<text x="662.8" y="491.20" font-size="7.2" fill="#333" textLength="15.2" lengthAdjust="spacingAndGlyphs">1x10</text>
<text x="678.4" y="487.40" font-size="5" fill="#333">-11</text>
<line x1="659" y1="424.3" x2="660.6" y2="424.3" stroke="#777" stroke-width="0.6"/>
<line x1="659" y1="449.7" x2="660.6" y2="449.7" stroke="#777" stroke-width="0.6"/>
<line x1="659" y1="475.1" x2="660.6" y2="475.1" stroke="#777" stroke-width="0.6"/>
<line x1="659" y1="500.5" x2="660.6" y2="500.5" stroke="#777" stroke-width="0.6"/>
<text x="660.50" y="388.40" font-size="9.5" text-anchor="middle" fill="#222" font-weight="normal" >G (S)</text>
</svg></body></html>
